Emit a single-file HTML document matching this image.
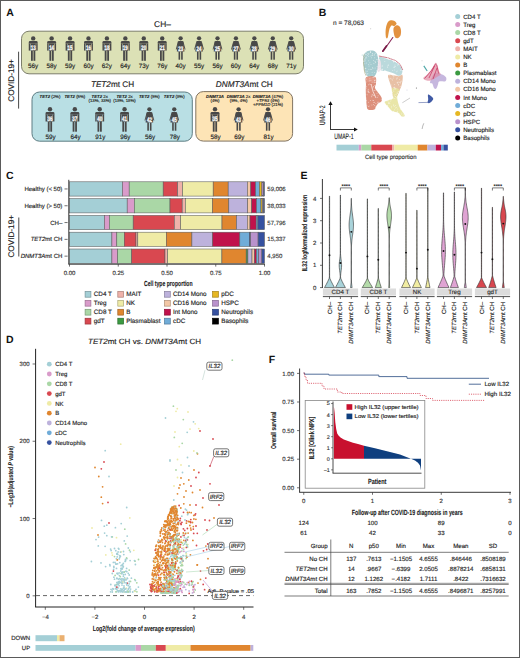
<!DOCTYPE html>
<html><head><meta charset="utf-8"><title>Figure</title>
<style>
html,body{margin:0;padding:0;background:#fff;}
body{width:520px;height:658px;overflow:hidden;}
svg{display:block;font-family:"Liberation Sans", sans-serif;text-rendering:geometricPrecision;}
text[fill="#222"]{stroke:#222;stroke-width:0.14px;}
text[fill="#333"]{stroke:#333;stroke-width:0.14px;}
text[fill="#1a1a1a"]{stroke:#1a1a1a;stroke-width:0.1px;}
</style></head><body>
<svg width="520" height="658" viewBox="0 0 520 658">
<defs><filter id="soft" x="-10%" y="-10%" width="120%" height="120%"><feGaussianBlur stdDeviation="0.35"/></filter></defs>
<rect x="0" y="0" width="520" height="658" fill="#fff"/>
<text x="6.20" y="15.60" font-size="10.5" font-weight="bold" fill="#111" >A</text>
<text x="162.50" y="27.00" font-size="8.4" text-anchor="middle" fill="#222" >CH–</text>
<rect x="21.5" y="31.2" width="282" height="42.6" rx="7.5" fill="#dce1b6" stroke="#7c7e6a" stroke-width="1"/>
<circle cx="33.20" cy="38.40" r="2.2" fill="#484848"/><path d="M28.75,42.30 q0,-1.3 1.3,-1.3 h6.3 q1.3,0 1.3,1.3 v1.3 h-8.9 z" fill="#484848"/><rect x="28.75" y="43.40" width="1.45" height="7.2" fill="#484848"/><rect x="36.20" y="43.40" width="1.45" height="7.2" fill="#484848"/><rect x="30.60" y="43.40" width="5.2" height="7.4" fill="#484848"/><rect x="31.00" y="50.60" width="1.8" height="10.2" fill="#484848"/><rect x="33.50" y="50.60" width="1.8" height="10.2" fill="#484848"/><text x="33.20" y="50.40" font-size="6.6" font-weight="bold" text-anchor="middle" fill="#fafafa" stroke="#fafafa" stroke-width="0.32" textLength="5.0" lengthAdjust="spacingAndGlyphs">13</text>
<text x="33.20" y="68.30" font-size="6.3" text-anchor="middle" fill="#222" >56y</text>
<circle cx="51.63" cy="38.40" r="2.2" fill="#484848"/><path d="M47.18,42.30 q0,-1.3 1.3,-1.3 h6.3 q1.3,0 1.3,1.3 v1.3 h-8.9 z" fill="#484848"/><rect x="47.18" y="43.40" width="1.45" height="7.2" fill="#484848"/><rect x="54.63" y="43.40" width="1.45" height="7.2" fill="#484848"/><rect x="49.03" y="43.40" width="5.2" height="7.4" fill="#484848"/><rect x="49.43" y="50.60" width="1.8" height="10.2" fill="#484848"/><rect x="51.93" y="50.60" width="1.8" height="10.2" fill="#484848"/><text x="51.63" y="50.40" font-size="6.6" font-weight="bold" text-anchor="middle" fill="#fafafa" stroke="#fafafa" stroke-width="0.32" textLength="5.0" lengthAdjust="spacingAndGlyphs">14</text>
<text x="51.63" y="68.30" font-size="6.3" text-anchor="middle" fill="#222" >58y</text>
<circle cx="70.06" cy="38.40" r="2.2" fill="#484848"/><path d="M65.61,42.30 q0,-1.3 1.3,-1.3 h6.3 q1.3,0 1.3,1.3 v1.3 h-8.9 z" fill="#484848"/><rect x="65.61" y="43.40" width="1.45" height="7.2" fill="#484848"/><rect x="73.06" y="43.40" width="1.45" height="7.2" fill="#484848"/><rect x="67.46" y="43.40" width="5.2" height="7.4" fill="#484848"/><rect x="67.86" y="50.60" width="1.8" height="10.2" fill="#484848"/><rect x="70.36" y="50.60" width="1.8" height="10.2" fill="#484848"/><text x="70.06" y="50.40" font-size="6.6" font-weight="bold" text-anchor="middle" fill="#fafafa" stroke="#fafafa" stroke-width="0.32" textLength="5.0" lengthAdjust="spacingAndGlyphs">15</text>
<text x="70.06" y="68.30" font-size="6.3" text-anchor="middle" fill="#222" >59y</text>
<circle cx="88.49" cy="38.40" r="2.2" fill="#484848"/><path d="M84.04,42.30 q0,-1.3 1.3,-1.3 h6.3 q1.3,0 1.3,1.3 v1.3 h-8.9 z" fill="#484848"/><rect x="84.04" y="43.40" width="1.45" height="7.2" fill="#484848"/><rect x="91.49" y="43.40" width="1.45" height="7.2" fill="#484848"/><rect x="85.89" y="43.40" width="5.2" height="7.4" fill="#484848"/><rect x="86.29" y="50.60" width="1.8" height="10.2" fill="#484848"/><rect x="88.79" y="50.60" width="1.8" height="10.2" fill="#484848"/><text x="88.49" y="50.40" font-size="6.6" font-weight="bold" text-anchor="middle" fill="#fafafa" stroke="#fafafa" stroke-width="0.32" textLength="5.0" lengthAdjust="spacingAndGlyphs">16</text>
<text x="88.49" y="68.30" font-size="6.3" text-anchor="middle" fill="#222" >60y</text>
<circle cx="106.92" cy="38.40" r="2.2" fill="#484848"/><path d="M102.47,42.30 q0,-1.3 1.3,-1.3 h6.3 q1.3,0 1.3,1.3 v1.3 h-8.9 z" fill="#484848"/><rect x="102.47" y="43.40" width="1.45" height="7.2" fill="#484848"/><rect x="109.92" y="43.40" width="1.45" height="7.2" fill="#484848"/><rect x="104.32" y="43.40" width="5.2" height="7.4" fill="#484848"/><rect x="104.72" y="50.60" width="1.8" height="10.2" fill="#484848"/><rect x="107.22" y="50.60" width="1.8" height="10.2" fill="#484848"/><text x="106.92" y="50.40" font-size="6.6" font-weight="bold" text-anchor="middle" fill="#fafafa" stroke="#fafafa" stroke-width="0.32" textLength="5.0" lengthAdjust="spacingAndGlyphs">18</text>
<text x="106.92" y="68.30" font-size="6.3" text-anchor="middle" fill="#222" >62y</text>
<circle cx="125.35" cy="38.40" r="2.2" fill="#484848"/><path d="M120.90,42.30 q0,-1.3 1.3,-1.3 h6.3 q1.3,0 1.3,1.3 v1.3 h-8.9 z" fill="#484848"/><rect x="120.90" y="43.40" width="1.45" height="7.2" fill="#484848"/><rect x="128.35" y="43.40" width="1.45" height="7.2" fill="#484848"/><rect x="122.75" y="43.40" width="5.2" height="7.4" fill="#484848"/><rect x="123.15" y="50.60" width="1.8" height="10.2" fill="#484848"/><rect x="125.65" y="50.60" width="1.8" height="10.2" fill="#484848"/><text x="125.35" y="50.40" font-size="6.6" font-weight="bold" text-anchor="middle" fill="#fafafa" stroke="#fafafa" stroke-width="0.32" textLength="5.0" lengthAdjust="spacingAndGlyphs">19</text>
<text x="125.35" y="68.30" font-size="6.3" text-anchor="middle" fill="#222" >64y</text>
<circle cx="143.78" cy="38.40" r="2.2" fill="#484848"/><path d="M139.33,42.30 q0,-1.3 1.3,-1.3 h6.3 q1.3,0 1.3,1.3 v1.3 h-8.9 z" fill="#484848"/><rect x="139.33" y="43.40" width="1.45" height="7.2" fill="#484848"/><rect x="146.78" y="43.40" width="1.45" height="7.2" fill="#484848"/><rect x="141.18" y="43.40" width="5.2" height="7.4" fill="#484848"/><rect x="141.58" y="50.60" width="1.8" height="10.2" fill="#484848"/><rect x="144.08" y="50.60" width="1.8" height="10.2" fill="#484848"/><text x="143.78" y="50.40" font-size="6.6" font-weight="bold" text-anchor="middle" fill="#fafafa" stroke="#fafafa" stroke-width="0.32" textLength="5.0" lengthAdjust="spacingAndGlyphs">20</text>
<text x="143.78" y="68.30" font-size="6.3" text-anchor="middle" fill="#222" >73y</text>
<circle cx="162.21" cy="38.40" r="2.2" fill="#484848"/><path d="M157.76,42.30 q0,-1.3 1.3,-1.3 h6.3 q1.3,0 1.3,1.3 v1.3 h-8.9 z" fill="#484848"/><rect x="157.76" y="43.40" width="1.45" height="7.2" fill="#484848"/><rect x="165.21" y="43.40" width="1.45" height="7.2" fill="#484848"/><rect x="159.61" y="43.40" width="5.2" height="7.4" fill="#484848"/><rect x="160.01" y="50.60" width="1.8" height="10.2" fill="#484848"/><rect x="162.51" y="50.60" width="1.8" height="10.2" fill="#484848"/><text x="162.21" y="50.40" font-size="6.6" font-weight="bold" text-anchor="middle" fill="#fafafa" stroke="#fafafa" stroke-width="0.32" textLength="5.0" lengthAdjust="spacingAndGlyphs">21</text>
<text x="162.21" y="68.30" font-size="6.3" text-anchor="middle" fill="#222" >76y</text>
<circle cx="180.64" cy="38.30" r="2.15" fill="#484848"/><path d="M178.04,41.10 L175.74,49.40 L176.64,49.60 L178.34,43.70 z" fill="#484848"/><path d="M183.24,41.10 L185.54,49.40 L184.64,49.60 L182.94,43.70 z" fill="#484848"/><path d="M178.74,40.90 h3.8 q0.7,0 0.8,0.8 L184.44,51.50 h-7.6 L177.94,41.70 q0.1,-0.8 0.8,-0.8 z" fill="#484848"/><rect x="178.54" y="51.30" width="1.6" height="8.4" fill="#484848"/><rect x="181.14" y="51.30" width="1.6" height="8.4" fill="#484848"/><text x="180.64" y="50.50" font-size="6.6" font-weight="bold" text-anchor="middle" fill="#fafafa" stroke="#fafafa" stroke-width="0.32" textLength="5.0" lengthAdjust="spacingAndGlyphs">23</text>
<text x="180.64" y="68.30" font-size="6.3" text-anchor="middle" fill="#222" >40y</text>
<circle cx="199.07" cy="38.30" r="2.15" fill="#484848"/><path d="M196.47,41.10 L194.17,49.40 L195.07,49.60 L196.77,43.70 z" fill="#484848"/><path d="M201.67,41.10 L203.97,49.40 L203.07,49.60 L201.37,43.70 z" fill="#484848"/><path d="M197.17,40.90 h3.8 q0.7,0 0.8,0.8 L202.87,51.50 h-7.6 L196.37,41.70 q0.1,-0.8 0.8,-0.8 z" fill="#484848"/><rect x="196.97" y="51.30" width="1.6" height="8.4" fill="#484848"/><rect x="199.57" y="51.30" width="1.6" height="8.4" fill="#484848"/><text x="199.07" y="50.50" font-size="6.6" font-weight="bold" text-anchor="middle" fill="#fafafa" stroke="#fafafa" stroke-width="0.32" textLength="5.0" lengthAdjust="spacingAndGlyphs">24</text>
<text x="199.07" y="68.30" font-size="6.3" text-anchor="middle" fill="#222" >55y</text>
<circle cx="217.50" cy="38.30" r="2.15" fill="#484848"/><path d="M214.90,41.10 L212.60,49.40 L213.50,49.60 L215.20,43.70 z" fill="#484848"/><path d="M220.10,41.10 L222.40,49.40 L221.50,49.60 L219.80,43.70 z" fill="#484848"/><path d="M215.60,40.90 h3.8 q0.7,0 0.8,0.8 L221.30,51.50 h-7.6 L214.80,41.70 q0.1,-0.8 0.8,-0.8 z" fill="#484848"/><rect x="215.40" y="51.30" width="1.6" height="8.4" fill="#484848"/><rect x="218.00" y="51.30" width="1.6" height="8.4" fill="#484848"/><text x="217.50" y="50.50" font-size="6.6" font-weight="bold" text-anchor="middle" fill="#fafafa" stroke="#fafafa" stroke-width="0.32" textLength="5.0" lengthAdjust="spacingAndGlyphs">25</text>
<text x="217.50" y="68.30" font-size="6.3" text-anchor="middle" fill="#222" >56y</text>
<circle cx="235.93" cy="38.30" r="2.15" fill="#484848"/><path d="M233.33,41.10 L231.03,49.40 L231.93,49.60 L233.63,43.70 z" fill="#484848"/><path d="M238.53,41.10 L240.83,49.40 L239.93,49.60 L238.23,43.70 z" fill="#484848"/><path d="M234.03,40.90 h3.8 q0.7,0 0.8,0.8 L239.73,51.50 h-7.6 L233.23,41.70 q0.1,-0.8 0.8,-0.8 z" fill="#484848"/><rect x="233.83" y="51.30" width="1.6" height="8.4" fill="#484848"/><rect x="236.43" y="51.30" width="1.6" height="8.4" fill="#484848"/><text x="235.93" y="50.50" font-size="6.6" font-weight="bold" text-anchor="middle" fill="#fafafa" stroke="#fafafa" stroke-width="0.32" textLength="5.0" lengthAdjust="spacingAndGlyphs">27</text>
<text x="235.93" y="68.30" font-size="6.3" text-anchor="middle" fill="#222" >60y</text>
<circle cx="254.36" cy="38.30" r="2.15" fill="#484848"/><path d="M251.76,41.10 L249.46,49.40 L250.36,49.60 L252.06,43.70 z" fill="#484848"/><path d="M256.96,41.10 L259.26,49.40 L258.36,49.60 L256.66,43.70 z" fill="#484848"/><path d="M252.46,40.90 h3.8 q0.7,0 0.8,0.8 L258.16,51.50 h-7.6 L251.66,41.70 q0.1,-0.8 0.8,-0.8 z" fill="#484848"/><rect x="252.26" y="51.30" width="1.6" height="8.4" fill="#484848"/><rect x="254.86" y="51.30" width="1.6" height="8.4" fill="#484848"/><text x="254.36" y="50.50" font-size="6.6" font-weight="bold" text-anchor="middle" fill="#fafafa" stroke="#fafafa" stroke-width="0.32" textLength="5.0" lengthAdjust="spacingAndGlyphs">28</text>
<text x="254.36" y="68.30" font-size="6.3" text-anchor="middle" fill="#222" >64y</text>
<circle cx="272.79" cy="38.30" r="2.15" fill="#484848"/><path d="M270.19,41.10 L267.89,49.40 L268.79,49.60 L270.49,43.70 z" fill="#484848"/><path d="M275.39,41.10 L277.69,49.40 L276.79,49.60 L275.09,43.70 z" fill="#484848"/><path d="M270.89,40.90 h3.8 q0.7,0 0.8,0.8 L276.59,51.50 h-7.6 L270.09,41.70 q0.1,-0.8 0.8,-0.8 z" fill="#484848"/><rect x="270.69" y="51.30" width="1.6" height="8.4" fill="#484848"/><rect x="273.29" y="51.30" width="1.6" height="8.4" fill="#484848"/><text x="272.79" y="50.50" font-size="6.6" font-weight="bold" text-anchor="middle" fill="#fafafa" stroke="#fafafa" stroke-width="0.32" textLength="5.0" lengthAdjust="spacingAndGlyphs">29</text>
<text x="272.79" y="68.30" font-size="6.3" text-anchor="middle" fill="#222" >68y</text>
<circle cx="291.22" cy="38.30" r="2.15" fill="#484848"/><path d="M288.62,41.10 L286.32,49.40 L287.22,49.60 L288.92,43.70 z" fill="#484848"/><path d="M293.82,41.10 L296.12,49.40 L295.22,49.60 L293.52,43.70 z" fill="#484848"/><path d="M289.32,40.90 h3.8 q0.7,0 0.8,0.8 L295.02,51.50 h-7.6 L288.52,41.70 q0.1,-0.8 0.8,-0.8 z" fill="#484848"/><rect x="289.12" y="51.30" width="1.6" height="8.4" fill="#484848"/><rect x="291.72" y="51.30" width="1.6" height="8.4" fill="#484848"/><text x="291.22" y="50.50" font-size="6.6" font-weight="bold" text-anchor="middle" fill="#fafafa" stroke="#fafafa" stroke-width="0.32" textLength="5.0" lengthAdjust="spacingAndGlyphs">30</text>
<text x="291.22" y="68.30" font-size="6.3" text-anchor="middle" fill="#222" >71y</text>
<text transform="translate(13.9,80.5) rotate(-90)" font-size="8.2" text-anchor="middle" fill="#222">COVID-19+</text>
<line x1="18.6" y1="51.7" x2="18.6" y2="108.6" stroke="#333" stroke-width="0.9"/>
<text x="112.5" y="86.8" font-size="8.2" text-anchor="middle" fill="#222"><tspan font-style="italic">TET2</tspan>mt CH</text>
<text x="244.3" y="86.8" font-size="8.2" text-anchor="middle" fill="#222"><tspan font-style="italic">DNMT3A</tspan>mt CH</text>
<rect x="32" y="92" width="160.3" height="49.2" rx="7.5" fill="#b9dfe4" stroke="#5e7d83" stroke-width="1"/>
<rect x="195.8" y="91.6" width="96.8" height="49.5" rx="7.5" fill="#fde4b6" stroke="#827462" stroke-width="1"/>
<circle cx="50.00" cy="109.30" r="2.2" fill="#484848"/><path d="M45.55,113.20 q0,-1.3 1.3,-1.3 h6.3 q1.3,0 1.3,1.3 v1.3 h-8.9 z" fill="#484848"/><rect x="45.55" y="114.30" width="1.45" height="7.2" fill="#484848"/><rect x="53.00" y="114.30" width="1.45" height="7.2" fill="#484848"/><rect x="47.40" y="114.30" width="5.2" height="7.4" fill="#484848"/><rect x="47.80" y="121.50" width="1.8" height="10.2" fill="#484848"/><rect x="50.30" y="121.50" width="1.8" height="10.2" fill="#484848"/><text x="50.00" y="121.30" font-size="6.6" font-weight="bold" text-anchor="middle" fill="#fafafa" stroke="#fafafa" stroke-width="0.32" textLength="5.0" lengthAdjust="spacingAndGlyphs">36</text>
<text x="50.70" y="138.90" font-size="6.3" text-anchor="middle" fill="#222" >59y</text>
<text x="50.00" y="97.80" font-size="4.3" text-anchor="middle" fill="#222"><tspan font-weight="bold" font-style="italic">TET2</tspan> (2%)</text>
<circle cx="74.85" cy="109.30" r="2.2" fill="#484848"/><path d="M70.40,113.20 q0,-1.3 1.3,-1.3 h6.3 q1.3,0 1.3,1.3 v1.3 h-8.9 z" fill="#484848"/><rect x="70.40" y="114.30" width="1.45" height="7.2" fill="#484848"/><rect x="77.85" y="114.30" width="1.45" height="7.2" fill="#484848"/><rect x="72.25" y="114.30" width="5.2" height="7.4" fill="#484848"/><rect x="72.65" y="121.50" width="1.8" height="10.2" fill="#484848"/><rect x="75.15" y="121.50" width="1.8" height="10.2" fill="#484848"/><text x="74.85" y="121.30" font-size="6.6" font-weight="bold" text-anchor="middle" fill="#fafafa" stroke="#fafafa" stroke-width="0.32" textLength="5.0" lengthAdjust="spacingAndGlyphs">37</text>
<text x="75.55" y="138.90" font-size="6.3" text-anchor="middle" fill="#222" >64y</text>
<text x="74.85" y="97.80" font-size="4.3" text-anchor="middle" fill="#222"><tspan font-weight="bold" font-style="italic">TET2</tspan> (5%)</text>
<circle cx="99.70" cy="109.30" r="2.2" fill="#484848"/><path d="M95.25,113.20 q0,-1.3 1.3,-1.3 h6.3 q1.3,0 1.3,1.3 v1.3 h-8.9 z" fill="#484848"/><rect x="95.25" y="114.30" width="1.45" height="7.2" fill="#484848"/><rect x="102.70" y="114.30" width="1.45" height="7.2" fill="#484848"/><rect x="97.10" y="114.30" width="5.2" height="7.4" fill="#484848"/><rect x="97.50" y="121.50" width="1.8" height="10.2" fill="#484848"/><rect x="100.00" y="121.50" width="1.8" height="10.2" fill="#484848"/><text x="99.70" y="121.30" font-size="6.6" font-weight="bold" text-anchor="middle" fill="#fafafa" stroke="#fafafa" stroke-width="0.32" textLength="5.0" lengthAdjust="spacingAndGlyphs">40</text>
<text x="100.40" y="138.90" font-size="6.3" text-anchor="middle" fill="#222" >91y</text>
<text x="99.70" y="97.80" font-size="4.3" text-anchor="middle" fill="#222"><tspan font-weight="bold" font-style="italic">TET2</tspan> 2x</text>
<text x="99.70" y="101.70" font-size="4.3" text-anchor="middle" fill="#222">(13%, 33%)</text>
<circle cx="124.55" cy="109.30" r="2.2" fill="#484848"/><path d="M120.10,113.20 q0,-1.3 1.3,-1.3 h6.3 q1.3,0 1.3,1.3 v1.3 h-8.9 z" fill="#484848"/><rect x="120.10" y="114.30" width="1.45" height="7.2" fill="#484848"/><rect x="127.55" y="114.30" width="1.45" height="7.2" fill="#484848"/><rect x="121.95" y="114.30" width="5.2" height="7.4" fill="#484848"/><rect x="122.35" y="121.50" width="1.8" height="10.2" fill="#484848"/><rect x="124.85" y="121.50" width="1.8" height="10.2" fill="#484848"/><text x="124.55" y="121.30" font-size="6.6" font-weight="bold" text-anchor="middle" fill="#fafafa" stroke="#fafafa" stroke-width="0.32" textLength="5.0" lengthAdjust="spacingAndGlyphs">41</text>
<text x="125.25" y="138.90" font-size="6.3" text-anchor="middle" fill="#222" >96y</text>
<text x="124.55" y="97.80" font-size="4.3" text-anchor="middle" fill="#222"><tspan font-weight="bold" font-style="italic">TET2</tspan> 2x</text>
<text x="124.55" y="101.70" font-size="4.3" text-anchor="middle" fill="#222">(18%, 18%)</text>
<circle cx="149.40" cy="109.30" r="2.15" fill="#484848"/><path d="M146.80,112.10 L144.50,120.40 L145.40,120.60 L147.10,114.70 z" fill="#484848"/><path d="M152.00,112.10 L154.30,120.40 L153.40,120.60 L151.70,114.70 z" fill="#484848"/><path d="M147.50,111.90 h3.8 q0.7,0 0.8,0.8 L153.20,122.50 h-7.6 L146.70,112.70 q0.1,-0.8 0.8,-0.8 z" fill="#484848"/><rect x="147.30" y="122.30" width="1.6" height="8.4" fill="#484848"/><rect x="149.90" y="122.30" width="1.6" height="8.4" fill="#484848"/><text x="149.40" y="121.50" font-size="6.6" font-weight="bold" text-anchor="middle" fill="#fafafa" stroke="#fafafa" stroke-width="0.32" textLength="5.0" lengthAdjust="spacingAndGlyphs">42</text>
<text x="150.10" y="138.90" font-size="6.3" text-anchor="middle" fill="#222" >56y</text>
<text x="149.40" y="97.80" font-size="4.3" text-anchor="middle" fill="#222"><tspan font-weight="bold" font-style="italic">TET2</tspan> (5%)</text>
<circle cx="174.25" cy="109.30" r="2.15" fill="#484848"/><path d="M171.65,112.10 L169.35,120.40 L170.25,120.60 L171.95,114.70 z" fill="#484848"/><path d="M176.85,112.10 L179.15,120.40 L178.25,120.60 L176.55,114.70 z" fill="#484848"/><path d="M172.35,111.90 h3.8 q0.7,0 0.8,0.8 L178.05,122.50 h-7.6 L171.55,112.70 q0.1,-0.8 0.8,-0.8 z" fill="#484848"/><rect x="172.15" y="122.30" width="1.6" height="8.4" fill="#484848"/><rect x="174.75" y="122.30" width="1.6" height="8.4" fill="#484848"/><text x="174.25" y="121.50" font-size="6.6" font-weight="bold" text-anchor="middle" fill="#fafafa" stroke="#fafafa" stroke-width="0.32" textLength="5.0" lengthAdjust="spacingAndGlyphs">45</text>
<text x="174.95" y="138.90" font-size="6.3" text-anchor="middle" fill="#222" >78y</text>
<text x="174.25" y="97.80" font-size="4.3" text-anchor="middle" fill="#222"><tspan font-weight="bold" font-style="italic">TET2</tspan> (8%)</text>
<circle cx="215.00" cy="109.30" r="2.2" fill="#484848"/><path d="M210.55,113.20 q0,-1.3 1.3,-1.3 h6.3 q1.3,0 1.3,1.3 v1.3 h-8.9 z" fill="#484848"/><rect x="210.55" y="114.30" width="1.45" height="7.2" fill="#484848"/><rect x="218.00" y="114.30" width="1.45" height="7.2" fill="#484848"/><rect x="212.40" y="114.30" width="5.2" height="7.4" fill="#484848"/><rect x="212.80" y="121.50" width="1.8" height="10.2" fill="#484848"/><rect x="215.30" y="121.50" width="1.8" height="10.2" fill="#484848"/><text x="215.00" y="121.30" font-size="6.6" font-weight="bold" text-anchor="middle" fill="#fafafa" stroke="#fafafa" stroke-width="0.32" textLength="5.0" lengthAdjust="spacingAndGlyphs">35</text>
<text x="215.70" y="138.90" font-size="6.3" text-anchor="middle" fill="#222" >58y</text>
<text x="215.00" y="97.80" font-size="4.3" text-anchor="middle" fill="#222"><tspan font-weight="bold" font-style="italic">DNMT3A</tspan></text>
<text x="215.00" y="101.70" font-size="4.3" text-anchor="middle" fill="#222">(4%)</text>
<circle cx="238.60" cy="109.30" r="2.15" fill="#484848"/><path d="M236.00,112.10 L233.70,120.40 L234.60,120.60 L236.30,114.70 z" fill="#484848"/><path d="M241.20,112.10 L243.50,120.40 L242.60,120.60 L240.90,114.70 z" fill="#484848"/><path d="M236.70,111.90 h3.8 q0.7,0 0.8,0.8 L242.40,122.50 h-7.6 L235.90,112.70 q0.1,-0.8 0.8,-0.8 z" fill="#484848"/><rect x="236.50" y="122.30" width="1.6" height="8.4" fill="#484848"/><rect x="239.10" y="122.30" width="1.6" height="8.4" fill="#484848"/><text x="238.60" y="121.50" font-size="6.6" font-weight="bold" text-anchor="middle" fill="#fafafa" stroke="#fafafa" stroke-width="0.32" textLength="5.0" lengthAdjust="spacingAndGlyphs">43</text>
<text x="239.30" y="138.90" font-size="6.3" text-anchor="middle" fill="#222" >69y</text>
<text x="238.60" y="97.80" font-size="4.3" text-anchor="middle" fill="#222"><tspan font-weight="bold" font-style="italic">DNMT3A</tspan> 2x</text>
<text x="238.60" y="101.70" font-size="4.3" text-anchor="middle" fill="#222">(9%, 4%)</text>
<circle cx="268.00" cy="109.30" r="2.15" fill="#484848"/><path d="M265.40,112.10 L263.10,120.40 L264.00,120.60 L265.70,114.70 z" fill="#484848"/><path d="M270.60,112.10 L272.90,120.40 L272.00,120.60 L270.30,114.70 z" fill="#484848"/><path d="M266.10,111.90 h3.8 q0.7,0 0.8,0.8 L271.80,122.50 h-7.6 L265.30,112.70 q0.1,-0.8 0.8,-0.8 z" fill="#484848"/><rect x="265.90" y="122.30" width="1.6" height="8.4" fill="#484848"/><rect x="268.50" y="122.30" width="1.6" height="8.4" fill="#484848"/><text x="268.00" y="121.50" font-size="6.6" font-weight="bold" text-anchor="middle" fill="#fafafa" stroke="#fafafa" stroke-width="0.32" textLength="5.0" lengthAdjust="spacingAndGlyphs">46</text>
<text x="268.70" y="138.90" font-size="6.3" text-anchor="middle" fill="#222" >81y</text>
<text x="268.00" y="97.80" font-size="4.3" text-anchor="middle" fill="#222"><tspan font-weight="bold" font-style="italic">DNMT3A</tspan> (47%)</text>
<text x="268.00" y="101.70" font-size="4.3" text-anchor="middle" fill="#222">+<tspan font-style="italic">TP53</tspan> (4%)</text>
<text x="268.00" y="105.60" font-size="4.3" text-anchor="middle" fill="#222">+<tspan font-style="italic">PPM1D</tspan> (21%)</text>
<text x="318.80" y="16.00" font-size="10.5" font-weight="bold" fill="#111" >B</text>
<text x="333.00" y="25.20" font-size="6.4" fill="#333" textLength="31" lengthAdjust="spacingAndGlyphs" >n = 78,063</text>
<circle cx="457.7" cy="16.40" r="2.5" fill="#a4cfd6"/>
<text x="463.20" y="18.50" font-size="6.1" fill="#222" >CD4 T</text>
<circle cx="457.7" cy="24.50" r="2.5" fill="#d99bca"/>
<text x="463.20" y="26.60" font-size="6.1" fill="#222" >Treg</text>
<circle cx="457.7" cy="32.60" r="2.5" fill="#aad7a6"/>
<text x="463.20" y="34.70" font-size="6.1" fill="#222" >CD8 T</text>
<circle cx="457.7" cy="40.70" r="2.5" fill="#d94850"/>
<text x="463.20" y="42.80" font-size="6.1" fill="#222" >gdT</text>
<circle cx="457.7" cy="48.80" r="2.5" fill="#efb2aa"/>
<text x="463.20" y="50.90" font-size="6.1" fill="#222" >MAIT</text>
<circle cx="457.7" cy="56.90" r="2.5" fill="#efeba6"/>
<text x="463.20" y="59.00" font-size="6.1" fill="#222" >NK</text>
<circle cx="457.7" cy="65.00" r="2.5" fill="#e0862f"/>
<text x="463.20" y="67.10" font-size="6.1" fill="#222" >B</text>
<circle cx="457.7" cy="73.10" r="2.5" fill="#3c9a42"/>
<text x="463.20" y="75.20" font-size="6.1" fill="#222" >Plasmablast</text>
<circle cx="457.7" cy="81.20" r="2.5" fill="#bdb2dc"/>
<text x="463.20" y="83.30" font-size="6.1" fill="#222" >CD14 Mono</text>
<circle cx="457.7" cy="89.30" r="2.5" fill="#f3c7a6"/>
<text x="463.20" y="91.40" font-size="6.1" fill="#222" >CD16 Mono</text>
<circle cx="457.7" cy="97.40" r="2.5" fill="#c0124b"/>
<text x="463.20" y="99.50" font-size="6.1" fill="#222" >Int Mono</text>
<circle cx="457.7" cy="105.50" r="2.5" fill="#70acd8"/>
<text x="463.20" y="107.60" font-size="6.1" fill="#222" >cDC</text>
<circle cx="457.7" cy="113.60" r="2.5" fill="#e6b722"/>
<text x="463.20" y="115.70" font-size="6.1" fill="#222" >pDC</text>
<circle cx="457.7" cy="121.70" r="2.5" fill="#b992cc"/>
<text x="463.20" y="123.80" font-size="6.1" fill="#222" >HSPC</text>
<circle cx="457.7" cy="129.80" r="2.5" fill="#3651a0"/>
<text x="463.20" y="131.90" font-size="6.1" fill="#222" >Neutrophils</text>
<circle cx="457.7" cy="137.90" r="2.5" fill="#000000"/>
<text x="463.20" y="140.00" font-size="6.1" fill="#222" >Basophils</text>
<path d="M330.5,129.5 V103.5" stroke="#222" stroke-width="0.9" fill="none"/>
<path d="M328.4,105 L330.5,101.3 L332.6,105 z" fill="#111"/>
<path d="M330.1,129.5 H355.5" stroke="#222" stroke-width="0.9" fill="none"/>
<path d="M354,127.4 L357.8,129.5 L354,131.6 z" fill="#111"/>
<text transform="translate(325.0,115.2) rotate(-90)" font-size="7.8" text-anchor="middle" fill="#1a1a1a" textLength="19.6" lengthAdjust="spacingAndGlyphs">UMAP-2</text>
<text x="343.90" y="139.40" font-size="7.8" text-anchor="middle" fill="#1a1a1a" textLength="19.4" lengthAdjust="spacingAndGlyphs" >UMAP-1</text>
<rect x="336.5" y="144.7" width="22.30" height="5.8" fill="#a4cfd6"/>
<rect x="358.8" y="144.7" width="2.50" height="5.8" fill="#d99bca"/>
<rect x="361.3" y="144.7" width="10.00" height="5.8" fill="#aad7a6"/>
<rect x="371.3" y="144.7" width="20.70" height="5.8" fill="#d94850"/>
<rect x="392" y="144.7" width="2.40" height="5.8" fill="#efb2aa"/>
<rect x="394.4" y="144.7" width="23.30" height="5.8" fill="#efeba6"/>
<rect x="417.7" y="144.7" width="9.70" height="5.8" fill="#e0862f"/>
<rect x="427.4" y="144.7" width="8.40" height="5.8" fill="#bdb2dc"/>
<rect x="435.8" y="144.7" width="5.20" height="5.8" fill="#c0124b"/>
<rect x="441" y="144.7" width="2.50" height="5.8" fill="#70acd8"/>
<rect x="443.5" y="144.7" width="4.30" height="5.8" fill="#3651a0"/>
<text x="390.70" y="159.30" font-size="6.2" text-anchor="middle" fill="#333" textLength="51.6" lengthAdjust="spacingAndGlyphs" >Cell type proportion</text>
<g filter="url(#soft)">
<path d="M386.00,37.60 C385.67,36.47 385.50,33.10 385.60,31.00 C385.70,28.90 386.10,26.63 386.60,25.00 C387.10,23.37 387.78,22.00 388.60,21.20 C389.42,20.40 390.52,20.23 391.50,20.20 C392.48,20.17 393.65,20.43 394.50,21.00 C395.35,21.57 396.65,22.73 396.60,23.60 C396.55,24.47 395.03,25.90 394.20,26.20 C393.37,26.50 392.37,25.02 391.60,25.40 C390.83,25.78 390.10,27.23 389.60,28.50 C389.10,29.77 388.93,31.45 388.60,33.00 C388.27,34.55 388.03,37.03 387.60,37.80 C387.17,38.57 386.33,38.73 386.00,37.60Z" fill="#e08a2c" fill-opacity="0.92"/>
<path d="M393.60,28.00 C394.00,26.73 395.20,25.63 396.20,25.40 C397.20,25.17 398.80,25.75 399.60,26.60 C400.40,27.45 400.85,29.02 401.00,30.50 C401.15,31.98 401.00,34.25 400.50,35.50 C400.00,36.75 398.88,37.68 398.00,38.00 C397.12,38.32 395.90,38.23 395.20,37.40 C394.50,36.57 394.07,34.57 393.80,33.00 C393.53,31.43 393.20,29.27 393.60,28.00Z" fill="#e0862f" fill-opacity="0.9"/>
<path d="M392.8,37.5 Q388.5,44 382.6,51.3" stroke="#8a2a58" stroke-width="1.1" fill="none" stroke-linecap="round"/>
<path d="M386.5,46 L383,51" stroke="#7a1e48" stroke-width="1.8" stroke-linecap="round"/>
<path d="M379.20,57.20 C380.37,55.97 383.62,57.93 386.00,58.60 C388.38,59.27 391.25,60.17 393.50,61.20 C395.75,62.23 398.03,63.33 399.50,64.80 C400.97,66.27 401.97,68.38 402.30,70.00 C402.63,71.62 402.13,73.53 401.50,74.50 C400.87,75.47 399.75,75.95 398.50,75.80 C397.25,75.65 395.75,74.33 394.00,73.60 C392.25,72.87 390.08,71.90 388.00,71.40 C385.92,70.90 383.00,71.50 381.50,70.60 C380.00,69.70 379.38,68.23 379.00,66.00 C378.62,63.77 378.03,58.43 379.20,57.20Z" fill="#a9d0d3" fill-opacity="0.8"/>
<path d="M378.8,56 Q388,57.2 395.5,60.5 Q401,63.5 402.8,70" stroke="#c56a7a" stroke-width="1.0" fill="none" opacity="0.85"/>
<path d="M377.00,60.00 C377.67,58.83 379.83,59.50 380.50,61.00 C381.17,62.50 381.33,67.17 381.00,69.00 C380.67,70.83 379.25,72.17 378.50,72.00 C377.75,71.83 376.75,70.00 376.50,68.00 C376.25,66.00 376.33,61.17 377.00,60.00Z" fill="#efe2ea" fill-opacity="0.9"/>
<path d="M363.60,55.20 C364.27,53.65 365.72,51.97 367.20,51.20 C368.68,50.43 370.95,50.30 372.50,50.60 C374.05,50.90 375.58,51.77 376.50,53.00 C377.42,54.23 377.78,56.00 378.00,58.00 C378.22,60.00 378.03,62.58 377.80,65.00 C377.57,67.42 377.27,70.57 376.60,72.50 C375.93,74.43 375.15,75.88 373.80,76.60 C372.45,77.32 369.87,77.32 368.50,76.80 C367.13,76.28 366.35,75.00 365.60,73.50 C364.85,72.00 364.40,69.97 364.00,67.80 C363.60,65.63 363.27,62.60 363.20,60.50 C363.13,58.40 362.93,56.75 363.60,55.20Z" fill="#97c4c8" fill-opacity="0.88"/>
<path d="M364.2,54.5 Q362.8,62 364.3,70 Q365,74 366.2,76" stroke="#a9ab82" stroke-width="0.7" fill="none"/>
<path d="M366.20,77.20 C367.73,76.03 373.57,75.95 375.20,77.00 C376.83,78.05 376.03,81.67 376.00,83.50 C375.97,85.33 374.58,86.42 375.00,88.00 C375.42,89.58 377.42,91.42 378.50,93.00 C379.58,94.58 381.00,96.13 381.50,97.50 C382.00,98.87 382.08,100.20 381.50,101.20 C380.92,102.20 378.92,102.62 378.00,103.50 C377.08,104.38 376.62,105.50 376.00,106.50 C375.38,107.50 375.63,108.98 374.30,109.50 C372.97,110.02 369.30,110.52 368.00,109.60 C366.70,108.68 366.87,106.93 366.50,104.00 C366.13,101.07 365.88,95.33 365.80,92.00 C365.72,88.67 365.93,86.47 366.00,84.00 C366.07,81.53 364.67,78.37 366.20,77.20Z" fill="#d6785f" fill-opacity="0.82"/>
<path d="M367.00,77.30 C368.23,76.53 373.30,76.50 374.60,77.20 C375.90,77.90 376.03,80.73 374.80,81.50 C373.57,82.27 368.50,82.50 367.20,81.80 C365.90,81.10 365.77,78.07 367.00,77.30Z" fill="#e6a08e" fill-opacity="0.8"/>
<path d="M388.20,75.20 C389.03,74.05 393.03,75.43 394.80,75.60 C396.57,75.77 397.53,76.33 398.80,76.20 C400.07,76.07 401.77,74.17 402.40,74.80 C403.03,75.43 402.77,78.13 402.60,80.00 C402.43,81.87 401.92,84.25 401.40,86.00 C400.88,87.75 400.23,88.83 399.50,90.50 C398.77,92.17 398.02,94.82 397.00,96.00 C395.98,97.18 394.20,98.60 393.40,97.60 C392.60,96.60 392.80,92.52 392.20,90.00 C391.60,87.48 390.47,84.97 389.80,82.50 C389.13,80.03 387.37,76.35 388.20,75.20Z" fill="#e2ae8c" fill-opacity="0.78"/>
<path d="M392.00,88.50 C393.03,87.08 398.33,88.15 399.20,89.50 C400.07,90.85 397.37,94.35 397.20,96.60 C397.03,98.85 397.70,101.02 398.20,103.00 C398.70,104.98 399.27,106.73 400.20,108.50 C401.13,110.27 403.07,112.32 403.80,113.60 C404.53,114.88 404.97,115.73 404.60,116.20 C404.23,116.67 402.70,117.00 401.60,116.40 C400.50,115.80 399.53,113.47 398.00,112.60 C396.47,111.73 394.07,112.20 392.40,111.20 C390.73,110.20 389.30,108.10 388.00,106.60 C386.70,105.10 384.52,103.27 384.60,102.20 C384.68,101.13 387.10,100.90 388.50,100.20 C389.90,99.50 392.42,99.95 393.00,98.00 C393.58,96.05 390.97,89.92 392.00,88.50Z" fill="#e6e29c" fill-opacity="0.88"/>
<path d="M434.60,73.20 C436.50,71.85 439.50,73.53 441.40,74.20 C443.30,74.87 445.33,76.03 446.00,77.20 C446.67,78.37 446.53,80.48 445.40,81.20 C444.27,81.92 440.43,80.93 439.20,81.50 C437.97,82.07 438.48,83.42 438.00,84.60 C437.52,85.78 436.97,88.03 436.30,88.60 C435.63,89.17 434.67,88.85 434.00,88.00 C433.33,87.15 432.97,84.45 432.30,83.50 C431.63,82.55 429.62,84.02 430.00,82.30 C430.38,80.58 432.70,74.55 434.60,73.20Z" fill="#bcaad8" fill-opacity="0.85"/>
<path d="M435.60,62.80 C436.53,62.37 437.00,64.55 437.60,66.00 C438.20,67.45 438.70,70.07 439.20,71.50 C439.70,72.93 441.05,73.65 440.60,74.60 C440.15,75.55 438.18,76.20 436.50,77.20 C434.82,78.20 432.42,80.13 430.50,80.60 C428.58,81.07 426.18,80.47 425.00,80.00 C423.82,79.53 422.97,78.77 423.40,77.80 C423.83,76.83 426.17,75.73 427.60,74.20 C429.03,72.67 430.67,70.50 432.00,68.60 C433.33,66.70 434.67,63.23 435.60,62.80Z" fill="#e08aa2" fill-opacity="0.7"/>
<path d="M435.8,63.6 L431.5,70.5 L424.5,78.6 M436.6,64.5 L438.6,73.5 M434.5,66 L429,78 M437,68 L433,79" stroke="#c22452" stroke-width="0.8" fill="none" opacity="0.8"/>
<path d="M423.8,65.8 L427.2,71" stroke="#50a8a8" stroke-width="1.2" fill="none"/>
<path d="M428.30,94.60 C429.13,94.47 432.88,97.23 433.20,98.60 C433.52,99.97 431.13,102.10 430.20,102.80 C429.27,103.50 427.93,103.37 427.60,102.80 C427.27,102.23 428.08,100.77 428.20,99.40 C428.32,98.03 427.47,94.73 428.30,94.60Z" fill="#3651a0" fill-opacity="0.95"/>
<path d="M418.5,102.6 L428,102.4" stroke="#6c7ab0" stroke-width="0.7" fill="none"/>
<path d="M402.3,102.8 L410,98" stroke="#aaa" stroke-width="0.6" fill="none"/>
<path d="M423.8,123.3 Q422.5,126 422.1,129" stroke="#888" stroke-width="0.6" fill="none"/>
</g>
<circle cx="370.7" cy="28.8" r="0.5" fill="#bbb"/>
<circle cx="362.2" cy="55" r="0.5" fill="#9cc"/>
<circle cx="416.4" cy="88" r="0.5" fill="#555"/>
<circle cx="422" cy="60.7" r="0.5" fill="#ccc"/>
<circle cx="398" cy="106" r="0.5" fill="#ddd"/>
<circle cx="407" cy="90" r="0.5" fill="#ccd"/>
<g fill="#fff" fill-opacity="0.5"><circle cx="388.8" cy="99.7" r="0.5"/><circle cx="396.2" cy="113.1" r="0.5"/><circle cx="393.8" cy="111.8" r="0.5"/><circle cx="363.2" cy="81.2" r="0.5"/><circle cx="402.6" cy="93.5" r="0.5"/><circle cx="400.7" cy="57.6" r="0.5"/><circle cx="382.2" cy="66.5" r="0.5"/><circle cx="385.4" cy="88.5" r="0.5"/><circle cx="362.6" cy="64.5" r="0.5"/><circle cx="374.0" cy="111.4" r="0.5"/><circle cx="394.9" cy="60.7" r="0.5"/><circle cx="396.3" cy="59.3" r="0.5"/><circle cx="388.6" cy="58.5" r="0.5"/><circle cx="362.1" cy="108.4" r="0.5"/><circle cx="371.0" cy="64.4" r="0.5"/><circle cx="404.2" cy="108.5" r="0.5"/><circle cx="374.4" cy="114.4" r="0.5"/><circle cx="385.2" cy="95.4" r="0.5"/><circle cx="370.8" cy="113.0" r="0.5"/><circle cx="391.7" cy="114.8" r="0.5"/><circle cx="400.4" cy="70.0" r="0.5"/><circle cx="377.5" cy="61.1" r="0.5"/><circle cx="368.3" cy="54.4" r="0.5"/><circle cx="375.0" cy="90.4" r="0.5"/><circle cx="362.1" cy="95.4" r="0.5"/><circle cx="376.5" cy="70.8" r="0.5"/><circle cx="397.2" cy="82.2" r="0.5"/><circle cx="375.6" cy="82.2" r="0.5"/><circle cx="392.3" cy="53.8" r="0.5"/><circle cx="403.9" cy="51.5" r="0.5"/><circle cx="394.2" cy="106.6" r="0.5"/><circle cx="362.8" cy="102.8" r="0.5"/><circle cx="377.7" cy="88.8" r="0.5"/><circle cx="362.4" cy="53.1" r="0.5"/><circle cx="369.8" cy="114.0" r="0.5"/><circle cx="370.5" cy="100.6" r="0.5"/><circle cx="402.0" cy="113.1" r="0.5"/><circle cx="376.8" cy="73.8" r="0.5"/><circle cx="384.6" cy="102.0" r="0.5"/><circle cx="366.6" cy="100.1" r="0.5"/><circle cx="396.3" cy="107.6" r="0.5"/><circle cx="363.6" cy="113.4" r="0.5"/><circle cx="365.9" cy="72.8" r="0.5"/><circle cx="388.3" cy="111.5" r="0.5"/><circle cx="376.6" cy="111.9" r="0.5"/><circle cx="385.4" cy="70.9" r="0.5"/><circle cx="375.6" cy="61.9" r="0.5"/><circle cx="365.4" cy="60.0" r="0.5"/><circle cx="391.6" cy="116.8" r="0.5"/><circle cx="368.9" cy="53.3" r="0.5"/><circle cx="404.4" cy="85.7" r="0.5"/><circle cx="379.5" cy="65.9" r="0.5"/><circle cx="387.5" cy="105.4" r="0.5"/><circle cx="381.6" cy="78.3" r="0.5"/><circle cx="364.4" cy="111.4" r="0.5"/><circle cx="363.4" cy="83.1" r="0.5"/><circle cx="398.1" cy="58.7" r="0.5"/><circle cx="393.5" cy="113.6" r="0.5"/><circle cx="389.1" cy="102.8" r="0.5"/><circle cx="366.6" cy="79.1" r="0.5"/><circle cx="368.4" cy="106.6" r="0.5"/><circle cx="374.7" cy="80.4" r="0.5"/><circle cx="405.0" cy="107.1" r="0.5"/><circle cx="404.0" cy="80.4" r="0.5"/><circle cx="383.0" cy="98.9" r="0.5"/><circle cx="382.6" cy="69.5" r="0.5"/><circle cx="379.4" cy="59.8" r="0.5"/><circle cx="378.2" cy="116.2" r="0.5"/><circle cx="403.3" cy="92.0" r="0.5"/><circle cx="383.5" cy="72.7" r="0.5"/><circle cx="365.8" cy="68.2" r="0.5"/><circle cx="395.6" cy="108.1" r="0.5"/><circle cx="377.5" cy="102.7" r="0.5"/><circle cx="395.3" cy="96.5" r="0.5"/><circle cx="390.6" cy="100.9" r="0.5"/><circle cx="377.6" cy="97.2" r="0.5"/><circle cx="374.1" cy="82.5" r="0.5"/><circle cx="395.1" cy="96.3" r="0.5"/><circle cx="374.6" cy="113.4" r="0.5"/><circle cx="389.9" cy="88.9" r="0.5"/><circle cx="362.5" cy="86.6" r="0.5"/><circle cx="372.8" cy="95.0" r="0.5"/><circle cx="381.9" cy="104.7" r="0.5"/><circle cx="389.8" cy="103.4" r="0.5"/><circle cx="377.0" cy="93.2" r="0.5"/><circle cx="393.7" cy="105.5" r="0.5"/><circle cx="377.1" cy="106.5" r="0.5"/><circle cx="399.4" cy="96.1" r="0.5"/><circle cx="404.0" cy="114.1" r="0.5"/><circle cx="384.3" cy="85.5" r="0.5"/><circle cx="369.1" cy="106.1" r="0.5"/><circle cx="402.3" cy="82.0" r="0.5"/><circle cx="391.7" cy="98.2" r="0.5"/><circle cx="393.4" cy="61.5" r="0.5"/><circle cx="395.6" cy="88.9" r="0.5"/><circle cx="390.6" cy="78.2" r="0.5"/><circle cx="388.8" cy="101.9" r="0.5"/><circle cx="389.4" cy="98.3" r="0.5"/><circle cx="363.2" cy="60.7" r="0.5"/><circle cx="381.0" cy="93.6" r="0.5"/><circle cx="371.4" cy="96.0" r="0.5"/><circle cx="389.1" cy="52.8" r="0.5"/><circle cx="382.3" cy="65.2" r="0.5"/><circle cx="364.3" cy="58.9" r="0.5"/><circle cx="375.6" cy="62.2" r="0.5"/><circle cx="370.3" cy="52.4" r="0.5"/><circle cx="382.0" cy="75.5" r="0.5"/><circle cx="388.3" cy="89.5" r="0.5"/><circle cx="372.2" cy="110.5" r="0.5"/><circle cx="362.0" cy="77.2" r="0.5"/><circle cx="374.0" cy="77.5" r="0.5"/><circle cx="366.9" cy="105.7" r="0.5"/><circle cx="378.1" cy="52.4" r="0.5"/><circle cx="388.4" cy="56.4" r="0.5"/><circle cx="385.4" cy="72.7" r="0.5"/><circle cx="387.0" cy="114.2" r="0.5"/><circle cx="397.2" cy="78.1" r="0.5"/><circle cx="397.0" cy="93.0" r="0.5"/><circle cx="377.9" cy="59.5" r="0.5"/><circle cx="387.6" cy="87.8" r="0.5"/><circle cx="403.2" cy="114.9" r="0.5"/><circle cx="388.2" cy="73.5" r="0.5"/><circle cx="400.4" cy="50.1" r="0.5"/><circle cx="366.6" cy="87.9" r="0.5"/><circle cx="388.5" cy="59.4" r="0.5"/><circle cx="389.1" cy="109.7" r="0.5"/><circle cx="378.2" cy="78.9" r="0.5"/><circle cx="371.7" cy="69.5" r="0.5"/><circle cx="403.8" cy="75.4" r="0.5"/><circle cx="403.3" cy="111.2" r="0.5"/><circle cx="387.6" cy="67.4" r="0.5"/><circle cx="404.2" cy="83.3" r="0.5"/><circle cx="379.9" cy="71.4" r="0.5"/><circle cx="404.3" cy="82.9" r="0.5"/><circle cx="374.3" cy="82.0" r="0.5"/><circle cx="367.2" cy="91.7" r="0.5"/><circle cx="381.1" cy="69.6" r="0.5"/><circle cx="395.6" cy="105.4" r="0.5"/><circle cx="362.6" cy="85.7" r="0.5"/><circle cx="373.8" cy="112.7" r="0.5"/><circle cx="395.6" cy="66.5" r="0.5"/><circle cx="373.5" cy="60.4" r="0.5"/><circle cx="404.5" cy="69.6" r="0.5"/><circle cx="388.1" cy="81.8" r="0.5"/><circle cx="389.7" cy="90.5" r="0.5"/><circle cx="394.0" cy="57.9" r="0.5"/><circle cx="394.7" cy="70.1" r="0.5"/><circle cx="384.9" cy="72.5" r="0.5"/><circle cx="374.8" cy="85.5" r="0.5"/><circle cx="382.0" cy="74.2" r="0.5"/><circle cx="394.0" cy="89.6" r="0.5"/><circle cx="363.6" cy="66.9" r="0.5"/><circle cx="381.6" cy="111.4" r="0.5"/><circle cx="400.2" cy="86.6" r="0.5"/><circle cx="362.6" cy="102.2" r="0.5"/><circle cx="380.4" cy="88.6" r="0.5"/><circle cx="392.5" cy="92.4" r="0.5"/><circle cx="382.7" cy="111.1" r="0.5"/><circle cx="378.6" cy="76.3" r="0.5"/><circle cx="398.6" cy="63.2" r="0.5"/><circle cx="374.7" cy="105.6" r="0.5"/><circle cx="364.8" cy="106.0" r="0.5"/><circle cx="391.9" cy="79.0" r="0.5"/><circle cx="374.3" cy="102.3" r="0.5"/><circle cx="401.2" cy="59.6" r="0.5"/><circle cx="382.6" cy="86.8" r="0.5"/><circle cx="383.4" cy="72.2" r="0.5"/><circle cx="368.6" cy="89.3" r="0.5"/><circle cx="396.9" cy="54.6" r="0.5"/><circle cx="371.9" cy="104.9" r="0.5"/><circle cx="396.0" cy="94.5" r="0.5"/><circle cx="363.1" cy="98.4" r="0.5"/><circle cx="404.1" cy="116.9" r="0.5"/><circle cx="392.2" cy="53.3" r="0.5"/><circle cx="398.2" cy="64.7" r="0.5"/><circle cx="389.8" cy="113.8" r="0.5"/><circle cx="392.6" cy="59.0" r="0.5"/><circle cx="374.6" cy="111.5" r="0.5"/><circle cx="368.4" cy="90.9" r="0.5"/><circle cx="379.8" cy="60.8" r="0.5"/><circle cx="388.8" cy="52.9" r="0.5"/><circle cx="366.7" cy="75.4" r="0.5"/><circle cx="365.1" cy="53.9" r="0.5"/><circle cx="386.7" cy="99.7" r="0.5"/><circle cx="399.8" cy="59.0" r="0.5"/><circle cx="380.6" cy="71.1" r="0.5"/><circle cx="387.8" cy="82.8" r="0.5"/><circle cx="402.4" cy="75.1" r="0.5"/><circle cx="364.4" cy="96.7" r="0.5"/><circle cx="368.5" cy="92.3" r="0.5"/><circle cx="383.8" cy="111.0" r="0.5"/><circle cx="385.9" cy="91.6" r="0.5"/><circle cx="373.3" cy="87.0" r="0.5"/><circle cx="372.9" cy="100.3" r="0.5"/><circle cx="384.2" cy="59.0" r="0.5"/><circle cx="372.1" cy="74.9" r="0.5"/><circle cx="393.7" cy="62.0" r="0.5"/><circle cx="392.7" cy="93.9" r="0.5"/><circle cx="365.7" cy="94.8" r="0.5"/><circle cx="365.9" cy="58.4" r="0.5"/><circle cx="387.5" cy="66.0" r="0.5"/><circle cx="399.7" cy="82.2" r="0.5"/><circle cx="375.9" cy="103.4" r="0.5"/><circle cx="363.3" cy="98.6" r="0.5"/><circle cx="364.3" cy="60.1" r="0.5"/><circle cx="402.9" cy="95.6" r="0.5"/><circle cx="371.6" cy="57.8" r="0.5"/><circle cx="403.8" cy="94.6" r="0.5"/><circle cx="397.3" cy="59.4" r="0.5"/><circle cx="388.9" cy="73.7" r="0.5"/><circle cx="372.1" cy="72.3" r="0.5"/><circle cx="388.4" cy="73.4" r="0.5"/><circle cx="378.6" cy="59.1" r="0.5"/><circle cx="397.7" cy="93.4" r="0.5"/><circle cx="396.6" cy="79.0" r="0.5"/><circle cx="398.6" cy="84.7" r="0.5"/><circle cx="387.5" cy="88.4" r="0.5"/><circle cx="393.8" cy="76.5" r="0.5"/><circle cx="366.2" cy="52.2" r="0.5"/><circle cx="370.7" cy="52.6" r="0.5"/><circle cx="400.2" cy="82.2" r="0.5"/><circle cx="394.7" cy="50.0" r="0.5"/><circle cx="382.2" cy="109.6" r="0.5"/><circle cx="388.6" cy="78.7" r="0.5"/><circle cx="382.0" cy="56.7" r="0.5"/><circle cx="368.7" cy="60.7" r="0.5"/><circle cx="378.1" cy="75.8" r="0.5"/><circle cx="399.9" cy="60.2" r="0.5"/><circle cx="372.9" cy="68.6" r="0.5"/><circle cx="368.9" cy="69.2" r="0.5"/><circle cx="372.1" cy="82.3" r="0.5"/><circle cx="363.4" cy="111.9" r="0.5"/><circle cx="377.9" cy="112.8" r="0.5"/><circle cx="391.6" cy="95.1" r="0.5"/><circle cx="382.3" cy="113.3" r="0.5"/><circle cx="367.1" cy="94.8" r="0.5"/><circle cx="374.5" cy="95.2" r="0.5"/><circle cx="393.4" cy="60.9" r="0.5"/><circle cx="370.6" cy="51.7" r="0.5"/><circle cx="371.9" cy="55.2" r="0.5"/><circle cx="379.2" cy="115.2" r="0.5"/><circle cx="377.7" cy="70.9" r="0.5"/><circle cx="382.1" cy="69.0" r="0.5"/><circle cx="393.5" cy="98.1" r="0.5"/><circle cx="369.0" cy="66.1" r="0.5"/><circle cx="390.9" cy="113.0" r="0.5"/><circle cx="389.8" cy="78.9" r="0.5"/><circle cx="403.9" cy="50.4" r="0.5"/><circle cx="364.6" cy="102.2" r="0.5"/><circle cx="379.6" cy="53.0" r="0.5"/><circle cx="385.6" cy="116.3" r="0.5"/><circle cx="384.3" cy="73.5" r="0.5"/><circle cx="366.0" cy="54.8" r="0.5"/><circle cx="400.6" cy="82.9" r="0.5"/><circle cx="402.2" cy="53.6" r="0.5"/><circle cx="372.5" cy="53.4" r="0.5"/><circle cx="379.1" cy="54.0" r="0.5"/><circle cx="373.0" cy="77.3" r="0.5"/><circle cx="375.2" cy="53.4" r="0.5"/><circle cx="363.6" cy="115.1" r="0.5"/><circle cx="369.7" cy="84.1" r="0.5"/><circle cx="379.3" cy="85.6" r="0.5"/><circle cx="365.6" cy="71.0" r="0.5"/><circle cx="366.6" cy="86.3" r="0.5"/><circle cx="401.6" cy="90.1" r="0.5"/><circle cx="398.8" cy="64.4" r="0.5"/><circle cx="362.7" cy="86.2" r="0.5"/><circle cx="382.9" cy="88.3" r="0.5"/><circle cx="378.2" cy="91.9" r="0.5"/><circle cx="393.2" cy="111.2" r="0.5"/><circle cx="375.2" cy="80.1" r="0.5"/><circle cx="397.5" cy="65.0" r="0.5"/><circle cx="367.0" cy="70.9" r="0.5"/><circle cx="365.8" cy="101.8" r="0.5"/><circle cx="397.2" cy="71.0" r="0.5"/><circle cx="367.6" cy="55.5" r="0.5"/><circle cx="372.5" cy="55.6" r="0.5"/><circle cx="380.4" cy="88.7" r="0.5"/><circle cx="372.6" cy="54.1" r="0.5"/><circle cx="392.1" cy="53.2" r="0.5"/><circle cx="370.6" cy="69.2" r="0.5"/><circle cx="378.1" cy="56.6" r="0.5"/><circle cx="380.1" cy="71.0" r="0.5"/><circle cx="394.3" cy="87.3" r="0.5"/><circle cx="400.5" cy="93.8" r="0.5"/><circle cx="394.7" cy="88.5" r="0.5"/><circle cx="381.0" cy="104.7" r="0.5"/><circle cx="390.2" cy="114.0" r="0.5"/><circle cx="393.3" cy="97.0" r="0.5"/><circle cx="373.5" cy="104.4" r="0.5"/><circle cx="378.4" cy="58.7" r="0.5"/><circle cx="364.8" cy="61.3" r="0.5"/><circle cx="373.3" cy="95.3" r="0.5"/><circle cx="374.3" cy="54.3" r="0.5"/><circle cx="394.8" cy="87.3" r="0.5"/><circle cx="363.2" cy="53.4" r="0.5"/><circle cx="367.6" cy="73.9" r="0.5"/><circle cx="399.0" cy="113.6" r="0.5"/><circle cx="388.3" cy="65.5" r="0.5"/><circle cx="380.4" cy="74.3" r="0.5"/><circle cx="376.2" cy="50.8" r="0.5"/><circle cx="387.1" cy="105.4" r="0.5"/><circle cx="393.3" cy="56.4" r="0.5"/><circle cx="384.8" cy="61.5" r="0.5"/><circle cx="392.5" cy="79.9" r="0.5"/><circle cx="402.4" cy="103.2" r="0.5"/><circle cx="367.1" cy="71.2" r="0.5"/><circle cx="401.3" cy="80.9" r="0.5"/><circle cx="380.7" cy="79.6" r="0.5"/><circle cx="395.0" cy="112.7" r="0.5"/><circle cx="384.9" cy="115.0" r="0.5"/><circle cx="387.6" cy="56.9" r="0.5"/><circle cx="397.0" cy="78.1" r="0.5"/><circle cx="364.2" cy="115.5" r="0.5"/><circle cx="363.4" cy="88.7" r="0.5"/><circle cx="382.7" cy="109.1" r="0.5"/><circle cx="378.9" cy="64.4" r="0.5"/><circle cx="373.9" cy="63.5" r="0.5"/><circle cx="386.2" cy="73.9" r="0.5"/><circle cx="394.3" cy="66.2" r="0.5"/><circle cx="377.1" cy="66.6" r="0.5"/><circle cx="404.2" cy="106.3" r="0.5"/><circle cx="398.5" cy="91.4" r="0.5"/><circle cx="379.2" cy="59.6" r="0.5"/><circle cx="397.8" cy="82.8" r="0.5"/><circle cx="363.6" cy="61.4" r="0.5"/><circle cx="366.2" cy="98.1" r="0.5"/><circle cx="400.7" cy="63.4" r="0.5"/><circle cx="396.3" cy="71.7" r="0.5"/><circle cx="391.4" cy="107.8" r="0.5"/><circle cx="388.8" cy="103.6" r="0.5"/><circle cx="378.2" cy="50.7" r="0.5"/><circle cx="384.0" cy="89.3" r="0.5"/><circle cx="369.9" cy="76.1" r="0.5"/><circle cx="375.6" cy="51.8" r="0.5"/><circle cx="375.4" cy="75.7" r="0.5"/><circle cx="382.5" cy="97.1" r="0.5"/><circle cx="379.2" cy="115.8" r="0.5"/><circle cx="397.1" cy="111.9" r="0.5"/><circle cx="391.8" cy="94.9" r="0.5"/><circle cx="385.1" cy="103.5" r="0.5"/><circle cx="377.6" cy="89.8" r="0.5"/><circle cx="391.2" cy="85.0" r="0.5"/><circle cx="374.2" cy="55.2" r="0.5"/><circle cx="365.8" cy="73.8" r="0.5"/><circle cx="387.0" cy="100.9" r="0.5"/><circle cx="392.7" cy="70.6" r="0.5"/><circle cx="402.0" cy="68.4" r="0.5"/><circle cx="392.8" cy="54.8" r="0.5"/><circle cx="394.4" cy="94.9" r="0.5"/><circle cx="403.1" cy="110.1" r="0.5"/><circle cx="391.6" cy="106.2" r="0.5"/><circle cx="393.8" cy="90.9" r="0.5"/><circle cx="371.0" cy="84.6" r="0.5"/><circle cx="400.5" cy="66.0" r="0.5"/><circle cx="403.9" cy="86.4" r="0.5"/><circle cx="378.9" cy="50.2" r="0.5"/><circle cx="378.8" cy="61.9" r="0.5"/><circle cx="390.1" cy="110.3" r="0.5"/><circle cx="401.1" cy="91.1" r="0.5"/><circle cx="378.6" cy="57.3" r="0.5"/><circle cx="391.6" cy="87.1" r="0.5"/><circle cx="392.8" cy="75.1" r="0.5"/><circle cx="400.1" cy="64.3" r="0.5"/><circle cx="375.1" cy="67.9" r="0.5"/><circle cx="388.8" cy="110.1" r="0.5"/><circle cx="369.2" cy="92.4" r="0.5"/><circle cx="395.0" cy="65.1" r="0.5"/><circle cx="364.7" cy="87.9" r="0.5"/><circle cx="397.7" cy="108.9" r="0.5"/><circle cx="393.3" cy="77.9" r="0.5"/><circle cx="380.3" cy="85.4" r="0.5"/><circle cx="400.9" cy="70.3" r="0.5"/><circle cx="374.1" cy="90.6" r="0.5"/><circle cx="403.6" cy="62.5" r="0.5"/><circle cx="363.3" cy="57.7" r="0.5"/><circle cx="386.2" cy="90.4" r="0.5"/><circle cx="369.9" cy="62.7" r="0.5"/><circle cx="387.6" cy="93.3" r="0.5"/><circle cx="391.7" cy="98.8" r="0.5"/><circle cx="364.6" cy="82.5" r="0.5"/><circle cx="397.9" cy="114.1" r="0.5"/><circle cx="375.7" cy="107.0" r="0.5"/><circle cx="389.7" cy="112.1" r="0.5"/><circle cx="371.8" cy="96.7" r="0.5"/><circle cx="398.2" cy="81.9" r="0.5"/><circle cx="366.3" cy="63.0" r="0.5"/><circle cx="368.7" cy="56.2" r="0.5"/><circle cx="368.5" cy="91.3" r="0.5"/><circle cx="366.5" cy="100.8" r="0.5"/><circle cx="393.7" cy="104.7" r="0.5"/><circle cx="396.6" cy="97.8" r="0.5"/><circle cx="401.7" cy="114.1" r="0.5"/><circle cx="388.9" cy="114.7" r="0.5"/><circle cx="366.4" cy="56.9" r="0.5"/><circle cx="364.8" cy="63.8" r="0.5"/><circle cx="378.1" cy="80.7" r="0.5"/><circle cx="391.3" cy="99.8" r="0.5"/><circle cx="365.6" cy="77.0" r="0.5"/><circle cx="385.4" cy="75.1" r="0.5"/><circle cx="367.1" cy="90.0" r="0.5"/><circle cx="378.1" cy="95.8" r="0.5"/><circle cx="383.3" cy="114.5" r="0.5"/><circle cx="402.6" cy="54.8" r="0.5"/><circle cx="394.7" cy="98.3" r="0.5"/><circle cx="374.7" cy="57.8" r="0.5"/><circle cx="382.6" cy="73.7" r="0.5"/><circle cx="393.7" cy="111.5" r="0.5"/><circle cx="378.4" cy="69.5" r="0.5"/><circle cx="383.4" cy="96.7" r="0.5"/><circle cx="395.9" cy="88.6" r="0.5"/><circle cx="374.7" cy="72.6" r="0.5"/><circle cx="398.5" cy="84.8" r="0.5"/><circle cx="364.2" cy="78.2" r="0.5"/><circle cx="372.2" cy="94.6" r="0.5"/><circle cx="365.2" cy="68.2" r="0.5"/><circle cx="366.1" cy="82.0" r="0.5"/><circle cx="404.3" cy="86.3" r="0.5"/><circle cx="378.6" cy="112.6" r="0.5"/><circle cx="365.9" cy="73.8" r="0.5"/><circle cx="396.9" cy="50.3" r="0.5"/><circle cx="394.9" cy="74.2" r="0.5"/><circle cx="362.7" cy="66.8" r="0.5"/><circle cx="381.7" cy="75.6" r="0.5"/><circle cx="384.2" cy="53.6" r="0.5"/><circle cx="371.4" cy="115.3" r="0.5"/><circle cx="381.0" cy="81.6" r="0.5"/><circle cx="365.7" cy="68.7" r="0.5"/><circle cx="403.1" cy="96.0" r="0.5"/><circle cx="383.8" cy="53.6" r="0.5"/><circle cx="378.9" cy="102.2" r="0.5"/><circle cx="380.7" cy="89.8" r="0.5"/><circle cx="400.8" cy="93.2" r="0.5"/><circle cx="389.3" cy="52.4" r="0.5"/><circle cx="363.0" cy="101.6" r="0.5"/><circle cx="379.8" cy="108.6" r="0.5"/><circle cx="397.5" cy="111.3" r="0.5"/><circle cx="378.3" cy="116.9" r="0.5"/><circle cx="394.5" cy="109.7" r="0.5"/><circle cx="368.4" cy="102.3" r="0.5"/><circle cx="380.2" cy="115.1" r="0.5"/><circle cx="404.7" cy="64.5" r="0.5"/><circle cx="380.1" cy="68.2" r="0.5"/><circle cx="382.2" cy="69.2" r="0.5"/><circle cx="390.7" cy="58.3" r="0.5"/><circle cx="369.3" cy="80.7" r="0.5"/><circle cx="365.2" cy="75.5" r="0.5"/><circle cx="400.6" cy="109.3" r="0.5"/><circle cx="370.5" cy="51.2" r="0.5"/><circle cx="397.6" cy="114.4" r="0.5"/><circle cx="387.8" cy="59.1" r="0.5"/><circle cx="372.2" cy="111.7" r="0.5"/><circle cx="402.3" cy="52.1" r="0.5"/><circle cx="369.9" cy="78.7" r="0.5"/><circle cx="373.5" cy="100.5" r="0.5"/><circle cx="378.0" cy="101.9" r="0.5"/><circle cx="368.5" cy="84.7" r="0.5"/><circle cx="403.9" cy="97.0" r="0.5"/><circle cx="365.9" cy="57.4" r="0.5"/><circle cx="389.7" cy="75.1" r="0.5"/><circle cx="377.9" cy="82.0" r="0.5"/><circle cx="387.0" cy="114.7" r="0.5"/><circle cx="372.4" cy="88.1" r="0.5"/><circle cx="373.3" cy="86.5" r="0.5"/><circle cx="393.5" cy="59.0" r="0.5"/><circle cx="382.7" cy="97.3" r="0.5"/><circle cx="362.4" cy="101.7" r="0.5"/><circle cx="380.0" cy="83.8" r="0.5"/><circle cx="388.3" cy="103.1" r="0.5"/><circle cx="364.4" cy="83.5" r="0.5"/><circle cx="363.6" cy="75.8" r="0.5"/><circle cx="376.9" cy="51.4" r="0.5"/><circle cx="374.8" cy="80.2" r="0.5"/><circle cx="390.2" cy="112.0" r="0.5"/><circle cx="377.9" cy="85.5" r="0.5"/><circle cx="392.7" cy="112.8" r="0.5"/><circle cx="402.8" cy="116.2" r="0.5"/><circle cx="375.0" cy="61.2" r="0.5"/><circle cx="402.1" cy="55.2" r="0.5"/><circle cx="381.3" cy="99.3" r="0.5"/><circle cx="384.7" cy="76.0" r="0.5"/><circle cx="401.8" cy="70.0" r="0.5"/><circle cx="385.7" cy="105.6" r="0.5"/><circle cx="367.9" cy="73.5" r="0.5"/><circle cx="383.3" cy="87.9" r="0.5"/><circle cx="370.9" cy="80.4" r="0.5"/><circle cx="364.6" cy="55.9" r="0.5"/><circle cx="376.7" cy="59.6" r="0.5"/><circle cx="403.6" cy="67.6" r="0.5"/><circle cx="373.9" cy="102.5" r="0.5"/><circle cx="393.9" cy="67.6" r="0.5"/><circle cx="397.7" cy="91.9" r="0.5"/><circle cx="378.7" cy="92.1" r="0.5"/><circle cx="372.6" cy="67.6" r="0.5"/><circle cx="399.7" cy="79.4" r="0.5"/><circle cx="400.6" cy="61.9" r="0.5"/><circle cx="367.9" cy="53.5" r="0.5"/><circle cx="393.8" cy="87.6" r="0.5"/><circle cx="362.4" cy="52.9" r="0.5"/><circle cx="397.4" cy="83.1" r="0.5"/><circle cx="399.5" cy="52.7" r="0.5"/><circle cx="387.3" cy="57.9" r="0.5"/><circle cx="393.0" cy="91.0" r="0.5"/><circle cx="388.3" cy="64.8" r="0.5"/><circle cx="402.8" cy="57.4" r="0.5"/><circle cx="364.8" cy="95.8" r="0.5"/><circle cx="366.0" cy="54.5" r="0.5"/><circle cx="381.8" cy="93.5" r="0.5"/><circle cx="400.4" cy="98.3" r="0.5"/><circle cx="365.0" cy="93.1" r="0.5"/><circle cx="398.3" cy="58.1" r="0.5"/><circle cx="394.4" cy="67.3" r="0.5"/><circle cx="374.8" cy="50.1" r="0.5"/><circle cx="394.6" cy="84.6" r="0.5"/><circle cx="400.8" cy="81.2" r="0.5"/><circle cx="368.7" cy="64.5" r="0.5"/><circle cx="373.3" cy="113.4" r="0.5"/><circle cx="370.8" cy="55.9" r="0.5"/><circle cx="377.2" cy="55.3" r="0.5"/><circle cx="380.3" cy="91.6" r="0.5"/></g>
<path d="M371,84 Q372.5,92 376,98" stroke="#fff" stroke-width="0.9" fill="none" opacity="0.7"/>
<text x="6.00" y="179.20" font-size="10.5" font-weight="bold" fill="#111" >C</text>
<rect x="69.50" y="181.80" width="52.90" height="14.3" fill="#a4cfd6" stroke="#5b5b5b" stroke-width="0.55"/>
<rect x="122.40" y="181.80" width="6.80" height="14.3" fill="#d99bca" stroke="#5b5b5b" stroke-width="0.55"/>
<rect x="129.20" y="181.80" width="34.00" height="14.3" fill="#aad7a6" stroke="#5b5b5b" stroke-width="0.55"/>
<rect x="163.20" y="181.80" width="14.40" height="14.3" fill="#d94850" stroke="#5b5b5b" stroke-width="0.55"/>
<rect x="177.60" y="181.80" width="4.90" height="14.3" fill="#efb2aa" stroke="#5b5b5b" stroke-width="0.55"/>
<rect x="182.50" y="181.80" width="30.70" height="14.3" fill="#efeba6" stroke="#5b5b5b" stroke-width="0.55"/>
<rect x="213.20" y="181.80" width="15.00" height="14.3" fill="#e0862f" stroke="#5b5b5b" stroke-width="0.55"/>
<rect x="228.20" y="181.80" width="19.20" height="14.3" fill="#bdb2dc" stroke="#5b5b5b" stroke-width="0.55"/>
<rect x="247.40" y="181.80" width="3.40" height="14.3" fill="#f3c7a6" stroke="#5b5b5b" stroke-width="0.55"/>
<rect x="250.80" y="181.80" width="4.80" height="14.3" fill="#c0124b" stroke="#5b5b5b" stroke-width="0.55"/>
<rect x="255.60" y="181.80" width="3.70" height="14.3" fill="#70acd8" stroke="#5b5b5b" stroke-width="0.55"/>
<rect x="259.30" y="181.80" width="2.60" height="14.3" fill="#e6b722" stroke="#5b5b5b" stroke-width="0.55"/>
<rect x="261.90" y="181.80" width="1.70" height="14.3" fill="#b992cc" stroke="#5b5b5b" stroke-width="0.55"/>
<rect x="263.60" y="181.80" width="0.90" height="14.3" fill="#3651a0" stroke="#5b5b5b" stroke-width="0.55"/>
<text x="62.3" y="191.05" font-size="6" text-anchor="end" fill="#222">Healthy (&lt; 50)</text>
<line x1="64.5" y1="188.95" x2="67.6" y2="188.95" stroke="#333" stroke-width="0.7"/>
<text x="267.30" y="191.05" font-size="6.0" fill="#333" >59,006</text>
<rect x="69.50" y="198.60" width="57.70" height="14.3" fill="#a4cfd6" stroke="#5b5b5b" stroke-width="0.55"/>
<rect x="127.20" y="198.60" width="7.10" height="14.3" fill="#d99bca" stroke="#5b5b5b" stroke-width="0.55"/>
<rect x="134.30" y="198.60" width="35.70" height="14.3" fill="#aad7a6" stroke="#5b5b5b" stroke-width="0.55"/>
<rect x="170.00" y="198.60" width="12.20" height="14.3" fill="#d94850" stroke="#5b5b5b" stroke-width="0.55"/>
<rect x="182.20" y="198.60" width="3.10" height="14.3" fill="#efb2aa" stroke="#5b5b5b" stroke-width="0.55"/>
<rect x="185.30" y="198.60" width="27.20" height="14.3" fill="#efeba6" stroke="#5b5b5b" stroke-width="0.55"/>
<rect x="212.50" y="198.60" width="16.30" height="14.3" fill="#e0862f" stroke="#5b5b5b" stroke-width="0.55"/>
<rect x="228.80" y="198.60" width="18.90" height="14.3" fill="#bdb2dc" stroke="#5b5b5b" stroke-width="0.55"/>
<rect x="247.70" y="198.60" width="4.00" height="14.3" fill="#f3c7a6" stroke="#5b5b5b" stroke-width="0.55"/>
<rect x="251.70" y="198.60" width="4.80" height="14.3" fill="#c0124b" stroke="#5b5b5b" stroke-width="0.55"/>
<rect x="256.50" y="198.60" width="4.50" height="14.3" fill="#70acd8" stroke="#5b5b5b" stroke-width="0.55"/>
<rect x="261.00" y="198.60" width="1.50" height="14.3" fill="#e6b722" stroke="#5b5b5b" stroke-width="0.55"/>
<rect x="262.50" y="198.60" width="1.00" height="14.3" fill="#b992cc" stroke="#5b5b5b" stroke-width="0.55"/>
<rect x="263.50" y="198.60" width="1.00" height="14.3" fill="#3651a0" stroke="#5b5b5b" stroke-width="0.55"/>
<text x="62.3" y="207.85" font-size="6" text-anchor="end" fill="#222">Healthy (&gt; 50)</text>
<line x1="64.5" y1="205.75" x2="67.6" y2="205.75" stroke="#333" stroke-width="0.7"/>
<text x="267.30" y="207.85" font-size="6.0" fill="#333" >38,033</text>
<rect x="69.50" y="215.40" width="34.90" height="14.3" fill="#a4cfd6" stroke="#5b5b5b" stroke-width="0.55"/>
<rect x="104.40" y="215.40" width="4.90" height="14.3" fill="#d99bca" stroke="#5b5b5b" stroke-width="0.55"/>
<rect x="109.30" y="215.40" width="23.90" height="14.3" fill="#aad7a6" stroke="#5b5b5b" stroke-width="0.55"/>
<rect x="133.20" y="215.40" width="41.10" height="14.3" fill="#d94850" stroke="#5b5b5b" stroke-width="0.55"/>
<rect x="174.30" y="215.40" width="6.30" height="14.3" fill="#efb2aa" stroke="#5b5b5b" stroke-width="0.55"/>
<rect x="180.60" y="215.40" width="41.40" height="14.3" fill="#efeba6" stroke="#5b5b5b" stroke-width="0.55"/>
<rect x="222.00" y="215.40" width="14.50" height="14.3" fill="#e0862f" stroke="#5b5b5b" stroke-width="0.55"/>
<rect x="236.50" y="215.40" width="10.80" height="14.3" fill="#bdb2dc" stroke="#5b5b5b" stroke-width="0.55"/>
<rect x="247.30" y="215.40" width="2.70" height="14.3" fill="#f3c7a6" stroke="#5b5b5b" stroke-width="0.55"/>
<rect x="250.00" y="215.40" width="6.20" height="14.3" fill="#c0124b" stroke="#5b5b5b" stroke-width="0.55"/>
<rect x="256.20" y="215.40" width="1.70" height="14.3" fill="#70acd8" stroke="#5b5b5b" stroke-width="0.55"/>
<rect x="257.90" y="215.40" width="6.60" height="14.3" fill="#3651a0" stroke="#5b5b5b" stroke-width="0.55"/>
<text x="62.3" y="224.65" font-size="6" text-anchor="end" fill="#222">CH–</text>
<line x1="64.5" y1="222.55" x2="67.6" y2="222.55" stroke="#333" stroke-width="0.7"/>
<text x="267.30" y="224.65" font-size="6.0" fill="#333" >57,796</text>
<rect x="69.50" y="232.20" width="42.40" height="14.3" fill="#a4cfd6" stroke="#5b5b5b" stroke-width="0.55"/>
<rect x="111.90" y="232.20" width="4.90" height="14.3" fill="#d99bca" stroke="#5b5b5b" stroke-width="0.55"/>
<rect x="116.80" y="232.20" width="7.50" height="14.3" fill="#aad7a6" stroke="#5b5b5b" stroke-width="0.55"/>
<rect x="124.30" y="232.20" width="11.70" height="14.3" fill="#d94850" stroke="#5b5b5b" stroke-width="0.55"/>
<rect x="136.00" y="232.20" width="1.80" height="14.3" fill="#efb2aa" stroke="#5b5b5b" stroke-width="0.55"/>
<rect x="137.80" y="232.20" width="28.50" height="14.3" fill="#efeba6" stroke="#5b5b5b" stroke-width="0.55"/>
<rect x="166.30" y="232.20" width="25.60" height="14.3" fill="#e0862f" stroke="#5b5b5b" stroke-width="0.55"/>
<rect x="191.90" y="232.20" width="20.70" height="14.3" fill="#bdb2dc" stroke="#5b5b5b" stroke-width="0.55"/>
<rect x="212.60" y="232.20" width="27.20" height="14.3" fill="#c0124b" stroke="#5b5b5b" stroke-width="0.55"/>
<rect x="239.80" y="232.20" width="9.50" height="14.3" fill="#70acd8" stroke="#5b5b5b" stroke-width="0.55"/>
<rect x="249.30" y="232.20" width="1.30" height="14.3" fill="#3651a0" stroke="#5b5b5b" stroke-width="0.55"/>
<rect x="250.60" y="232.20" width="7.50" height="14.3" fill="#b992cc" stroke="#5b5b5b" stroke-width="0.55"/>
<rect x="258.10" y="232.20" width="6.40" height="14.3" fill="#3651a0" stroke="#5b5b5b" stroke-width="0.55"/>
<text x="62.3" y="241.45" font-size="6" text-anchor="end" fill="#222"><tspan font-style="italic">TET2</tspan>mt CH</text>
<line x1="64.5" y1="239.35" x2="67.6" y2="239.35" stroke="#333" stroke-width="0.7"/>
<text x="267.30" y="241.45" font-size="6.0" fill="#333" >15,337</text>
<rect x="69.50" y="249.00" width="42.40" height="14.3" fill="#a4cfd6" stroke="#5b5b5b" stroke-width="0.55"/>
<rect x="111.90" y="249.00" width="5.70" height="14.3" fill="#d99bca" stroke="#5b5b5b" stroke-width="0.55"/>
<rect x="117.60" y="249.00" width="14.10" height="14.3" fill="#aad7a6" stroke="#5b5b5b" stroke-width="0.55"/>
<rect x="131.70" y="249.00" width="33.30" height="14.3" fill="#d94850" stroke="#5b5b5b" stroke-width="0.55"/>
<rect x="165.00" y="249.00" width="2.60" height="14.3" fill="#efb2aa" stroke="#5b5b5b" stroke-width="0.55"/>
<rect x="167.60" y="249.00" width="54.30" height="14.3" fill="#efeba6" stroke="#5b5b5b" stroke-width="0.55"/>
<rect x="221.90" y="249.00" width="24.30" height="14.3" fill="#e0862f" stroke="#5b5b5b" stroke-width="0.55"/>
<rect x="246.20" y="249.00" width="1.70" height="14.3" fill="#3c9a42" stroke="#5b5b5b" stroke-width="0.55"/>
<rect x="247.90" y="249.00" width="4.10" height="14.3" fill="#bdb2dc" stroke="#5b5b5b" stroke-width="0.55"/>
<rect x="252.00" y="249.00" width="2.50" height="14.3" fill="#f3c7a6" stroke="#5b5b5b" stroke-width="0.55"/>
<rect x="254.50" y="249.00" width="1.90" height="14.3" fill="#c0124b" stroke="#5b5b5b" stroke-width="0.55"/>
<rect x="256.40" y="249.00" width="2.20" height="14.3" fill="#70acd8" stroke="#5b5b5b" stroke-width="0.55"/>
<rect x="258.60" y="249.00" width="3.30" height="14.3" fill="#b992cc" stroke="#5b5b5b" stroke-width="0.55"/>
<rect x="261.90" y="249.00" width="2.60" height="14.3" fill="#3651a0" stroke="#5b5b5b" stroke-width="0.55"/>
<text x="62.3" y="258.25" font-size="6" text-anchor="end" fill="#222"><tspan font-style="italic">DNMT3A</tspan>mt CH</text>
<line x1="64.5" y1="256.15" x2="67.6" y2="256.15" stroke="#333" stroke-width="0.7"/>
<text x="267.30" y="258.25" font-size="6.0" fill="#333" >4,950</text>
<line x1="68.8" y1="179.8" x2="68.8" y2="264.2" stroke="#222" stroke-width="0.9"/>
<line x1="68.4" y1="264.2" x2="265" y2="264.2" stroke="#222" stroke-width="0.9"/>
<line x1="69.50" y1="264.2" x2="69.50" y2="266.6" stroke="#333" stroke-width="0.7"/>
<text x="69.50" y="274.60" font-size="6.0" text-anchor="middle" fill="#333" >0.00</text>
<line x1="118.25" y1="264.2" x2="118.25" y2="266.6" stroke="#333" stroke-width="0.7"/>
<text x="118.25" y="274.60" font-size="6.0" text-anchor="middle" fill="#333" >0.25</text>
<line x1="167.00" y1="264.2" x2="167.00" y2="266.6" stroke="#333" stroke-width="0.7"/>
<text x="167.00" y="274.60" font-size="6.0" text-anchor="middle" fill="#333" >0.50</text>
<line x1="215.75" y1="264.2" x2="215.75" y2="266.6" stroke="#333" stroke-width="0.7"/>
<text x="215.75" y="274.60" font-size="6.0" text-anchor="middle" fill="#333" >0.75</text>
<line x1="264.50" y1="264.2" x2="264.50" y2="266.6" stroke="#333" stroke-width="0.7"/>
<text x="264.50" y="274.60" font-size="6.0" text-anchor="middle" fill="#333" >1.00</text>
<text x="168.30" y="285.80" font-size="7.4" text-anchor="middle" font-weight="bold" fill="#1a1a1a" textLength="48.5" lengthAdjust="spacingAndGlyphs" >Cell type proportion</text>
<text transform="translate(13.7,236.3) rotate(-90)" font-size="8.2" text-anchor="middle" fill="#222">COVID-19+</text>
<line x1="18.8" y1="217.5" x2="18.8" y2="256.5" stroke="#333" stroke-width="0.9"/>
<rect x="85.10" y="291.40" width="5.8" height="5.8" fill="#a4cfd6" stroke="#76959a" stroke-width="0.7"/>
<text x="93.80" y="296.40" font-size="6.3" fill="#222" >CD4 T</text>
<rect x="85.10" y="300.35" width="5.8" height="5.8" fill="#d99bca" stroke="#9c6f91" stroke-width="0.7"/>
<text x="93.80" y="305.35" font-size="6.3" fill="#222" >Treg</text>
<rect x="85.10" y="309.30" width="5.8" height="5.8" fill="#aad7a6" stroke="#7a9a77" stroke-width="0.7"/>
<text x="93.80" y="314.30" font-size="6.3" fill="#222" >CD8 T</text>
<rect x="85.10" y="318.25" width="5.8" height="5.8" fill="#d94850" stroke="#9c3339" stroke-width="0.7"/>
<text x="93.80" y="323.25" font-size="6.3" fill="#222" >gdT</text>
<rect x="117.80" y="291.40" width="5.8" height="5.8" fill="#efb2aa" stroke="#ac807a" stroke-width="0.7"/>
<text x="126.20" y="296.40" font-size="6.3" fill="#222" >MAIT</text>
<rect x="117.80" y="300.35" width="5.8" height="5.8" fill="#efeba6" stroke="#aca977" stroke-width="0.7"/>
<text x="126.20" y="305.35" font-size="6.3" fill="#222" >NK</text>
<rect x="117.80" y="309.30" width="5.8" height="5.8" fill="#e0862f" stroke="#a16021" stroke-width="0.7"/>
<text x="126.20" y="314.30" font-size="6.3" fill="#222" >B</text>
<rect x="117.80" y="318.25" width="5.8" height="5.8" fill="#3c9a42" stroke="#2b6e2f" stroke-width="0.7"/>
<text x="126.20" y="323.25" font-size="6.3" fill="#222" >Plasmablast</text>
<rect x="164.50" y="291.40" width="5.8" height="5.8" fill="#bdb2dc" stroke="#88809e" stroke-width="0.7"/>
<text x="173.00" y="296.40" font-size="6.3" fill="#222" >CD14 Mono</text>
<rect x="164.50" y="300.35" width="5.8" height="5.8" fill="#f3c7a6" stroke="#ae8f77" stroke-width="0.7"/>
<text x="173.00" y="305.35" font-size="6.3" fill="#222" >CD16 Mono</text>
<rect x="164.50" y="309.30" width="5.8" height="5.8" fill="#c0124b" stroke="#8a0c36" stroke-width="0.7"/>
<text x="173.00" y="314.30" font-size="6.3" fill="#222" >Int Mono</text>
<rect x="164.50" y="318.25" width="5.8" height="5.8" fill="#70acd8" stroke="#507b9b" stroke-width="0.7"/>
<text x="173.00" y="323.25" font-size="6.3" fill="#222" >cDC</text>
<rect x="212.60" y="291.40" width="5.8" height="5.8" fill="#e6b722" stroke="#a58318" stroke-width="0.7"/>
<text x="221.20" y="296.40" font-size="6.3" fill="#222" >pDC</text>
<rect x="212.60" y="300.35" width="5.8" height="5.8" fill="#b992cc" stroke="#856992" stroke-width="0.7"/>
<text x="221.20" y="305.35" font-size="6.3" fill="#222" >HSPC</text>
<rect x="212.60" y="309.30" width="5.8" height="5.8" fill="#3651a0" stroke="#263a73" stroke-width="0.7"/>
<text x="221.20" y="314.30" font-size="6.3" fill="#222" >Neutrophils</text>
<rect x="212.60" y="318.25" width="5.8" height="5.8" fill="#000000" stroke="#000000" stroke-width="0.7"/>
<text x="221.20" y="323.25" font-size="6.3" fill="#222" >Basophils</text>
<text x="6.00" y="343.20" font-size="10.5" font-weight="bold" fill="#111" >D</text>
<text x="88" y="344.0" font-size="7.6" fill="#222" textLength="113" lengthAdjust="spacingAndGlyphs"><tspan font-style="italic">TET2</tspan>mt CH vs. <tspan font-style="italic">DNMT3A</tspan>mt CH</text>
<line x1="35.6" y1="348.8" x2="35.6" y2="607" stroke="#222" stroke-width="1"/>
<line x1="35.1" y1="607" x2="253.5" y2="607" stroke="#222" stroke-width="1"/>
<line x1="32.6" y1="595.80" x2="35.6" y2="595.80" stroke="#333" stroke-width="0.7"/>
<text x="29.60" y="597.90" font-size="6.0" text-anchor="end" fill="#333" >0</text>
<line x1="32.6" y1="518.53" x2="35.6" y2="518.53" stroke="#333" stroke-width="0.7"/>
<text x="29.60" y="520.63" font-size="6.0" text-anchor="end" fill="#333" >100</text>
<line x1="32.6" y1="441.26" x2="35.6" y2="441.26" stroke="#333" stroke-width="0.7"/>
<text x="29.60" y="443.36" font-size="6.0" text-anchor="end" fill="#333" >200</text>
<line x1="32.6" y1="363.99" x2="35.6" y2="363.99" stroke="#333" stroke-width="0.7"/>
<text x="29.60" y="366.09" font-size="6.0" text-anchor="end" fill="#333" >300</text>
<line x1="45.30" y1="607" x2="45.30" y2="609.8" stroke="#333" stroke-width="0.7"/>
<text x="45.30" y="618.80" font-size="6.0" text-anchor="middle" fill="#333" >−4</text>
<line x1="94.90" y1="607" x2="94.90" y2="609.8" stroke="#333" stroke-width="0.7"/>
<text x="94.90" y="618.80" font-size="6.0" text-anchor="middle" fill="#333" >−2</text>
<line x1="144.50" y1="607" x2="144.50" y2="609.8" stroke="#333" stroke-width="0.7"/>
<text x="144.50" y="618.80" font-size="6.0" text-anchor="middle" fill="#333" >0</text>
<line x1="194.10" y1="607" x2="194.10" y2="609.8" stroke="#333" stroke-width="0.7"/>
<text x="194.10" y="618.80" font-size="6.0" text-anchor="middle" fill="#333" >2</text>
<line x1="243.70" y1="607" x2="243.70" y2="609.8" stroke="#333" stroke-width="0.7"/>
<text x="243.70" y="618.80" font-size="6.0" text-anchor="middle" fill="#333" >4</text>
<text transform="translate(13.4,476.8) rotate(-90)" font-size="7.0" font-weight="bold" text-anchor="middle" fill="#1a1a1a" textLength="61.5" lengthAdjust="spacingAndGlyphs">−Log10(adjusted <tspan font-style="italic">P</tspan> value)</text>
<text x="143.70" y="630.80" font-size="7.4" text-anchor="middle" font-weight="bold" fill="#1a1a1a" textLength="102" lengthAdjust="spacingAndGlyphs" >Log2(fold change of average expression)</text>
<g><circle cx="171.5" cy="554.8" r="0.9" fill="#a4cfd6"/><circle cx="195.2" cy="423.8" r="0.9" fill="#efeba6"/><circle cx="116.4" cy="558.7" r="0.9" fill="#a4cfd6"/><circle cx="175.1" cy="585.4" r="0.9" fill="#bdb2dc"/><circle cx="161.8" cy="590.0" r="0.9" fill="#a4cfd6"/><circle cx="175.2" cy="593.0" r="0.9" fill="#aad7a6"/><circle cx="111.1" cy="550.5" r="0.9" fill="#a4cfd6"/><circle cx="160.0" cy="542.2" r="0.9" fill="#e0862f"/><circle cx="167.4" cy="539.9" r="0.9" fill="#aad7a6"/><circle cx="180.7" cy="562.8" r="0.9" fill="#a4cfd6"/><circle cx="169.4" cy="580.4" r="0.9" fill="#e0862f"/><circle cx="176.1" cy="579.1" r="0.9" fill="#d94850"/><circle cx="169.9" cy="591.6" r="0.9" fill="#a4cfd6"/><circle cx="169.1" cy="554.3" r="0.9" fill="#aad7a6"/><circle cx="152.2" cy="588.2" r="0.9" fill="#e0862f"/><circle cx="190.7" cy="528.1" r="0.9" fill="#e0862f"/><circle cx="134.5" cy="590.9" r="0.9" fill="#aad7a6"/><circle cx="162.1" cy="592.8" r="0.9" fill="#a4cfd6"/><circle cx="113.6" cy="569.6" r="0.9" fill="#a4cfd6"/><circle cx="176.3" cy="579.6" r="0.9" fill="#a4cfd6"/><circle cx="130.3" cy="551.8" r="0.9" fill="#a4cfd6"/><circle cx="173.0" cy="535.7" r="0.9" fill="#e0862f"/><circle cx="167.7" cy="558.4" r="0.9" fill="#e0862f"/><circle cx="154.0" cy="589.4" r="0.9" fill="#e0862f"/><circle cx="174.6" cy="584.2" r="0.9" fill="#aad7a6"/><circle cx="193.3" cy="529.1" r="0.9" fill="#d94850"/><circle cx="177.5" cy="528.2" r="0.9" fill="#e0862f"/><circle cx="167.7" cy="519.5" r="0.9" fill="#e0862f"/><circle cx="123.2" cy="566.9" r="0.9" fill="#a4cfd6"/><circle cx="174.7" cy="582.6" r="0.9" fill="#e0862f"/><circle cx="168.6" cy="584.8" r="0.9" fill="#e0862f"/><circle cx="173.9" cy="518.7" r="0.9" fill="#e0862f"/><circle cx="122.5" cy="565.3" r="0.9" fill="#a4cfd6"/><circle cx="170.6" cy="541.0" r="0.9" fill="#d94850"/><circle cx="164.5" cy="525.1" r="0.9" fill="#e0862f"/><circle cx="116.4" cy="587.6" r="0.9" fill="#a4cfd6"/><circle cx="176.9" cy="509.3" r="0.9" fill="#e0862f"/><circle cx="174.6" cy="558.2" r="0.9" fill="#e0862f"/><circle cx="173.2" cy="554.6" r="0.9" fill="#efeba6"/><circle cx="170.8" cy="516.2" r="0.9" fill="#aad7a6"/><circle cx="167.9" cy="592.1" r="0.9" fill="#aad7a6"/><circle cx="169.5" cy="521.8" r="0.9" fill="#efeba6"/><circle cx="119.5" cy="581.3" r="0.9" fill="#a4cfd6"/><circle cx="175.8" cy="592.7" r="0.9" fill="#e0862f"/><circle cx="166.1" cy="586.0" r="0.9" fill="#a4cfd6"/><circle cx="189.4" cy="581.5" r="0.9" fill="#d99bca"/><circle cx="152.2" cy="575.1" r="0.9" fill="#e0862f"/><circle cx="174.2" cy="588.7" r="0.9" fill="#aad7a6"/><circle cx="115.8" cy="550.7" r="0.9" fill="#a4cfd6"/><circle cx="175.0" cy="590.8" r="0.9" fill="#a4cfd6"/><circle cx="171.3" cy="586.3" r="0.9" fill="#e0862f"/><circle cx="159.1" cy="570.7" r="0.9" fill="#e0862f"/><circle cx="170.3" cy="533.8" r="0.9" fill="#a4cfd6"/><circle cx="174.6" cy="545.8" r="0.9" fill="#efeba6"/><circle cx="158.4" cy="568.5" r="0.9" fill="#e0862f"/><circle cx="157.7" cy="562.0" r="0.9" fill="#e0862f"/><circle cx="169.4" cy="570.3" r="0.9" fill="#a4cfd6"/><circle cx="105.2" cy="450.7" r="0.9" fill="#a4cfd6"/><circle cx="181.8" cy="551.1" r="0.9" fill="#aad7a6"/><circle cx="161.0" cy="593.0" r="0.9" fill="#a4cfd6"/><circle cx="168.1" cy="585.5" r="0.9" fill="#a4cfd6"/><circle cx="135.0" cy="561.2" r="0.9" fill="#aad7a6"/><circle cx="173.4" cy="551.8" r="0.9" fill="#a4cfd6"/><circle cx="176.9" cy="557.2" r="0.9" fill="#aad7a6"/><circle cx="165.2" cy="535.2" r="0.9" fill="#e0862f"/><circle cx="173.6" cy="562.6" r="0.9" fill="#aad7a6"/><circle cx="175.3" cy="569.4" r="0.9" fill="#e0862f"/><circle cx="167.2" cy="592.0" r="0.9" fill="#aad7a6"/><circle cx="165.0" cy="565.8" r="0.9" fill="#e0862f"/><circle cx="116.8" cy="554.0" r="0.9" fill="#a4cfd6"/><circle cx="175.3" cy="532.6" r="0.9" fill="#e0862f"/><circle cx="162.5" cy="593.0" r="0.9" fill="#a4cfd6"/><circle cx="174.1" cy="527.7" r="0.9" fill="#e0862f"/><circle cx="176.7" cy="528.3" r="0.9" fill="#e0862f"/><circle cx="176.8" cy="588.3" r="0.9" fill="#aad7a6"/><circle cx="166.7" cy="580.8" r="0.9" fill="#e0862f"/><circle cx="151.7" cy="584.2" r="0.9" fill="#e0862f"/><circle cx="173.0" cy="592.8" r="0.9" fill="#aad7a6"/><circle cx="173.2" cy="592.6" r="0.9" fill="#a4cfd6"/><circle cx="155.1" cy="567.3" r="0.9" fill="#e0862f"/><circle cx="126.3" cy="588.1" r="0.9" fill="#efeba6"/><circle cx="112.3" cy="592.0" r="0.9" fill="#a4cfd6"/><circle cx="174.3" cy="584.7" r="0.9" fill="#d94850"/><circle cx="156.5" cy="567.4" r="0.9" fill="#e0862f"/><circle cx="176.7" cy="520.0" r="0.9" fill="#d94850"/><circle cx="170.0" cy="578.4" r="0.9" fill="#aad7a6"/><circle cx="178.9" cy="589.7" r="0.9" fill="#d99bca"/><circle cx="168.7" cy="567.6" r="0.9" fill="#e0862f"/><circle cx="114.5" cy="556.6" r="0.9" fill="#aad7a6"/><circle cx="150.2" cy="590.2" r="0.9" fill="#e0862f"/><circle cx="174.0" cy="513.8" r="0.9" fill="#e0862f"/><circle cx="179.5" cy="572.6" r="0.9" fill="#d94850"/><circle cx="171.3" cy="592.2" r="0.9" fill="#a4cfd6"/><circle cx="180.5" cy="581.7" r="0.9" fill="#d94850"/><circle cx="164.4" cy="587.2" r="0.9" fill="#aad7a6"/><circle cx="166.1" cy="591.7" r="0.9" fill="#d94850"/><circle cx="154.6" cy="567.6" r="0.9" fill="#e0862f"/><circle cx="102.6" cy="486.8" r="0.9" fill="#e0862f"/><circle cx="172.3" cy="583.4" r="0.9" fill="#a4cfd6"/><circle cx="173.4" cy="535.7" r="0.9" fill="#aad7a6"/><circle cx="166.7" cy="585.2" r="0.9" fill="#a4cfd6"/><circle cx="175.9" cy="556.2" r="0.9" fill="#e0862f"/><circle cx="181.9" cy="558.2" r="0.9" fill="#aad7a6"/><circle cx="173.6" cy="539.4" r="0.9" fill="#a4cfd6"/><circle cx="98.6" cy="537.1" r="0.9" fill="#a4cfd6"/><circle cx="176.5" cy="590.8" r="0.9" fill="#d99bca"/><circle cx="156.5" cy="570.8" r="0.9" fill="#e0862f"/><circle cx="162.8" cy="584.4" r="0.9" fill="#aad7a6"/><circle cx="166.7" cy="592.0" r="0.9" fill="#a4cfd6"/><circle cx="175.5" cy="528.6" r="0.9" fill="#e0862f"/><circle cx="182.9" cy="570.7" r="0.9" fill="#a4cfd6"/><circle cx="179.7" cy="583.6" r="0.9" fill="#d99bca"/><circle cx="109.8" cy="564.7" r="0.9" fill="#a4cfd6"/><circle cx="167.5" cy="573.9" r="0.9" fill="#efeba6"/><circle cx="170.2" cy="534.0" r="0.9" fill="#e0862f"/><circle cx="185.6" cy="541.6" r="0.9" fill="#d94850"/><circle cx="183.5" cy="549.4" r="0.9" fill="#a4cfd6"/><circle cx="171.0" cy="512.5" r="0.9" fill="#e0862f"/><circle cx="157.8" cy="569.1" r="0.9" fill="#e0862f"/><circle cx="170.5" cy="566.3" r="0.9" fill="#efeba6"/><circle cx="177.5" cy="569.7" r="0.9" fill="#aad7a6"/><circle cx="182.5" cy="559.2" r="0.9" fill="#aad7a6"/><circle cx="166.7" cy="592.9" r="0.9" fill="#d99bca"/><circle cx="157.2" cy="574.1" r="0.9" fill="#e0862f"/><circle cx="177.0" cy="589.9" r="0.9" fill="#e0862f"/><circle cx="190.6" cy="521.9" r="0.9" fill="#d94850"/><circle cx="119.4" cy="575.6" r="0.9" fill="#a4cfd6"/><circle cx="175.3" cy="591.9" r="0.9" fill="#aad7a6"/><circle cx="174.7" cy="523.2" r="0.9" fill="#e0862f"/><circle cx="175.7" cy="562.9" r="0.9" fill="#aad7a6"/><circle cx="175.7" cy="561.8" r="0.9" fill="#e0862f"/><circle cx="159.4" cy="578.4" r="0.9" fill="#e0862f"/><circle cx="179.7" cy="578.2" r="0.9" fill="#aad7a6"/><circle cx="121.9" cy="568.4" r="0.9" fill="#a4cfd6"/><circle cx="119.0" cy="583.2" r="0.9" fill="#aad7a6"/><circle cx="158.0" cy="562.4" r="0.9" fill="#efeba6"/><circle cx="155.4" cy="585.8" r="0.9" fill="#e0862f"/><circle cx="203.5" cy="550.8" r="0.9" fill="#d94850"/><circle cx="124.5" cy="592.0" r="0.9" fill="#efeba6"/><circle cx="189.5" cy="585.0" r="0.9" fill="#aad7a6"/><circle cx="125.1" cy="561.4" r="0.9" fill="#a4cfd6"/><circle cx="171.9" cy="509.4" r="0.9" fill="#d94850"/><circle cx="173.6" cy="554.8" r="0.9" fill="#d94850"/><circle cx="171.0" cy="581.5" r="0.9" fill="#a4cfd6"/><circle cx="158.5" cy="545.8" r="0.9" fill="#aad7a6"/><circle cx="178.8" cy="534.1" r="0.9" fill="#d94850"/><circle cx="183.4" cy="528.8" r="0.9" fill="#d94850"/><circle cx="178.5" cy="585.5" r="0.9" fill="#a4cfd6"/><circle cx="175.5" cy="543.9" r="0.9" fill="#e0862f"/><circle cx="174.3" cy="590.6" r="0.9" fill="#a4cfd6"/><circle cx="186.1" cy="558.5" r="0.9" fill="#aad7a6"/><circle cx="172.4" cy="562.3" r="0.9" fill="#aad7a6"/><circle cx="136.8" cy="582.8" r="0.9" fill="#aad7a6"/><circle cx="171.8" cy="593.0" r="0.9" fill="#a4cfd6"/><circle cx="170.2" cy="591.7" r="0.9" fill="#aad7a6"/><circle cx="169.6" cy="585.3" r="0.9" fill="#e0862f"/><circle cx="157.9" cy="572.7" r="0.9" fill="#e0862f"/><circle cx="158.7" cy="567.5" r="0.9" fill="#e0862f"/><circle cx="177.0" cy="581.3" r="0.9" fill="#aad7a6"/><circle cx="177.6" cy="530.1" r="0.9" fill="#e0862f"/><circle cx="114.5" cy="579.2" r="0.9" fill="#a4cfd6"/><circle cx="123.5" cy="551.5" r="0.9" fill="#a4cfd6"/><circle cx="171.7" cy="590.6" r="0.9" fill="#a4cfd6"/><circle cx="173.4" cy="526.2" r="0.9" fill="#e0862f"/><circle cx="176.6" cy="538.5" r="0.9" fill="#aad7a6"/><circle cx="173.1" cy="535.8" r="0.9" fill="#e0862f"/><circle cx="170.8" cy="530.0" r="0.9" fill="#e0862f"/><circle cx="195.2" cy="590.0" r="0.9" fill="#aad7a6"/><circle cx="177.0" cy="511.3" r="0.9" fill="#e0862f"/><circle cx="180.0" cy="571.2" r="0.9" fill="#a4cfd6"/><circle cx="162.2" cy="593.0" r="0.9" fill="#aad7a6"/><circle cx="125.6" cy="560.7" r="0.9" fill="#a4cfd6"/><circle cx="170.5" cy="576.6" r="0.9" fill="#e0862f"/><circle cx="169.3" cy="591.0" r="0.9" fill="#aad7a6"/><circle cx="186.5" cy="510.2" r="0.9" fill="#a4cfd6"/><circle cx="168.0" cy="591.4" r="0.9" fill="#e0862f"/><circle cx="167.9" cy="532.9" r="0.9" fill="#e0862f"/><circle cx="187.2" cy="432.3" r="0.9" fill="#a4cfd6"/><circle cx="178.8" cy="547.8" r="0.9" fill="#e0862f"/><circle cx="162.8" cy="533.9" r="0.9" fill="#e0862f"/><circle cx="180.1" cy="546.1" r="0.9" fill="#aad7a6"/><circle cx="166.5" cy="565.4" r="0.9" fill="#e0862f"/><circle cx="178.4" cy="576.4" r="0.9" fill="#d94850"/><circle cx="117.2" cy="556.8" r="0.9" fill="#a4cfd6"/><circle cx="179.2" cy="539.3" r="0.9" fill="#aad7a6"/><circle cx="190.4" cy="554.8" r="0.9" fill="#e0862f"/><circle cx="174.8" cy="522.4" r="0.9" fill="#e0862f"/><circle cx="121.2" cy="523.6" r="0.9" fill="#a4cfd6"/><circle cx="187.5" cy="537.6" r="0.9" fill="#a4cfd6"/><circle cx="157.0" cy="558.6" r="0.9" fill="#e0862f"/><circle cx="178.2" cy="587.0" r="0.9" fill="#a4cfd6"/><circle cx="115.8" cy="564.0" r="0.9" fill="#a4cfd6"/><circle cx="156.0" cy="567.3" r="0.9" fill="#e0862f"/><circle cx="154.1" cy="561.9" r="0.9" fill="#e0862f"/><circle cx="170.6" cy="591.7" r="0.9" fill="#e0862f"/><circle cx="181.9" cy="522.3" r="0.9" fill="#d94850"/><circle cx="132.7" cy="592.0" r="0.9" fill="#a4cfd6"/><circle cx="167.9" cy="516.8" r="0.9" fill="#e0862f"/><circle cx="125.6" cy="543.9" r="0.9" fill="#aad7a6"/><circle cx="165.7" cy="527.1" r="0.9" fill="#e0862f"/><circle cx="176.7" cy="511.9" r="0.9" fill="#aad7a6"/><circle cx="152.8" cy="587.6" r="0.9" fill="#e0862f"/><circle cx="165.6" cy="566.3" r="0.9" fill="#e0862f"/><circle cx="122.4" cy="572.1" r="0.9" fill="#a4cfd6"/><circle cx="126.6" cy="568.4" r="0.9" fill="#a4cfd6"/><circle cx="171.6" cy="570.1" r="0.9" fill="#aad7a6"/><circle cx="119.1" cy="585.7" r="0.9" fill="#a4cfd6"/><circle cx="173.0" cy="549.5" r="0.9" fill="#e0862f"/><circle cx="116.5" cy="568.4" r="0.9" fill="#a4cfd6"/><circle cx="168.9" cy="590.3" r="0.9" fill="#d94850"/><circle cx="118.5" cy="591.8" r="0.9" fill="#a4cfd6"/><circle cx="176.6" cy="514.3" r="0.9" fill="#e0862f"/><circle cx="165.9" cy="564.2" r="0.9" fill="#e0862f"/><circle cx="106.8" cy="525.2" r="0.9" fill="#a4cfd6"/><circle cx="166.7" cy="569.1" r="0.9" fill="#a4cfd6"/><circle cx="186.7" cy="584.6" r="0.9" fill="#d99bca"/><circle cx="158.6" cy="575.1" r="0.9" fill="#d94850"/><circle cx="157.8" cy="549.6" r="0.9" fill="#e0862f"/><circle cx="165.5" cy="589.6" r="0.9" fill="#efeba6"/><circle cx="116.5" cy="591.7" r="0.9" fill="#a4cfd6"/><circle cx="173.2" cy="528.5" r="0.9" fill="#e0862f"/><circle cx="124.8" cy="589.3" r="0.9" fill="#a4cfd6"/><circle cx="170.3" cy="512.4" r="0.9" fill="#e0862f"/><circle cx="190.8" cy="519.6" r="0.9" fill="#d94850"/><circle cx="172.9" cy="511.5" r="0.9" fill="#e0862f"/><circle cx="157.4" cy="591.4" r="0.9" fill="#d94850"/><circle cx="177.2" cy="510.3" r="0.9" fill="#a4cfd6"/><circle cx="179.5" cy="552.5" r="0.9" fill="#a4cfd6"/><circle cx="192.5" cy="492.5" r="0.9" fill="#e0862f"/><circle cx="180.4" cy="571.2" r="0.9" fill="#aad7a6"/><circle cx="172.8" cy="526.2" r="0.9" fill="#e0862f"/><circle cx="114.5" cy="548.5" r="0.9" fill="#a4cfd6"/><circle cx="98.0" cy="535.0" r="0.9" fill="#e0862f"/><circle cx="172.8" cy="582.1" r="0.9" fill="#aad7a6"/><circle cx="182.1" cy="562.6" r="0.9" fill="#efeba6"/><circle cx="167.6" cy="554.2" r="0.9" fill="#e0862f"/><circle cx="219.0" cy="505.0" r="0.9" fill="#d94850"/><circle cx="169.0" cy="527.6" r="0.9" fill="#e0862f"/><circle cx="198.8" cy="472.5" r="0.9" fill="#d94850"/><circle cx="174.6" cy="526.0" r="0.9" fill="#e0862f"/><circle cx="170.7" cy="542.6" r="0.9" fill="#e0862f"/><circle cx="101.5" cy="520.4" r="0.9" fill="#a4cfd6"/><circle cx="113.5" cy="589.1" r="0.9" fill="#a4cfd6"/><circle cx="174.9" cy="588.9" r="0.9" fill="#aad7a6"/><circle cx="196.0" cy="477.5" r="0.9" fill="#d94850"/><circle cx="174.4" cy="580.3" r="0.9" fill="#aad7a6"/><circle cx="172.8" cy="553.3" r="0.9" fill="#e0862f"/><circle cx="167.9" cy="562.5" r="0.9" fill="#e0862f"/><circle cx="116.2" cy="584.6" r="0.9" fill="#aad7a6"/><circle cx="153.1" cy="583.3" r="0.9" fill="#e0862f"/><circle cx="203.2" cy="584.4" r="0.9" fill="#d94850"/><circle cx="177.5" cy="580.3" r="0.9" fill="#aad7a6"/><circle cx="169.6" cy="529.2" r="0.9" fill="#e0862f"/><circle cx="158.7" cy="590.3" r="0.9" fill="#e0862f"/><circle cx="170.3" cy="548.1" r="0.9" fill="#a4cfd6"/><circle cx="175.7" cy="527.6" r="0.9" fill="#e0862f"/><circle cx="159.9" cy="541.4" r="0.9" fill="#d94850"/><circle cx="164.9" cy="543.6" r="0.9" fill="#e0862f"/><circle cx="177.8" cy="534.3" r="0.9" fill="#e0862f"/><circle cx="165.7" cy="560.9" r="0.9" fill="#e0862f"/><circle cx="173.2" cy="548.1" r="0.9" fill="#efeba6"/><circle cx="164.4" cy="549.2" r="0.9" fill="#e0862f"/><circle cx="123.4" cy="576.2" r="0.9" fill="#a4cfd6"/><circle cx="156.3" cy="557.7" r="0.9" fill="#e0862f"/><circle cx="121.9" cy="572.5" r="0.9" fill="#a4cfd6"/><circle cx="173.1" cy="589.2" r="0.9" fill="#aad7a6"/><circle cx="183.3" cy="545.1" r="0.9" fill="#aad7a6"/><circle cx="177.2" cy="558.1" r="0.9" fill="#aad7a6"/><circle cx="170.4" cy="568.9" r="0.9" fill="#e0862f"/><circle cx="156.9" cy="591.9" r="0.9" fill="#d94850"/><circle cx="171.1" cy="592.8" r="0.9" fill="#a4cfd6"/><circle cx="174.1" cy="592.0" r="0.9" fill="#d99bca"/><circle cx="179.0" cy="548.1" r="0.9" fill="#a4cfd6"/><circle cx="174.2" cy="592.8" r="0.9" fill="#a4cfd6"/><circle cx="165.4" cy="542.8" r="0.9" fill="#e0862f"/><circle cx="168.4" cy="550.3" r="0.9" fill="#e0862f"/><circle cx="169.0" cy="591.2" r="0.9" fill="#e0862f"/><circle cx="154.4" cy="570.8" r="0.9" fill="#e0862f"/><circle cx="174.7" cy="556.6" r="0.9" fill="#d94850"/><circle cx="173.2" cy="511.7" r="0.9" fill="#e0862f"/><circle cx="179.3" cy="446.7" r="0.9" fill="#efeba6"/><circle cx="169.2" cy="576.5" r="0.9" fill="#e0862f"/><circle cx="158.6" cy="540.1" r="0.9" fill="#e0862f"/><circle cx="172.2" cy="506.9" r="0.9" fill="#aad7a6"/><circle cx="119.3" cy="578.6" r="0.9" fill="#a4cfd6"/><circle cx="162.5" cy="567.6" r="0.9" fill="#e0862f"/><circle cx="188.3" cy="536.9" r="0.9" fill="#aad7a6"/><circle cx="156.5" cy="582.9" r="0.9" fill="#e0862f"/><circle cx="188.8" cy="480.0" r="0.9" fill="#e0862f"/><circle cx="198.0" cy="583.1" r="0.9" fill="#e0862f"/><circle cx="118.1" cy="551.9" r="0.9" fill="#a4cfd6"/><circle cx="158.2" cy="591.2" r="0.9" fill="#e0862f"/><circle cx="122.0" cy="578.6" r="0.9" fill="#a4cfd6"/><circle cx="128.5" cy="591.9" r="0.9" fill="#a4cfd6"/><circle cx="151.1" cy="587.8" r="0.9" fill="#e0862f"/><circle cx="161.2" cy="565.3" r="0.9" fill="#aad7a6"/><circle cx="159.4" cy="546.9" r="0.9" fill="#e0862f"/><circle cx="166.6" cy="583.4" r="0.9" fill="#e0862f"/><circle cx="197.4" cy="564.8" r="0.9" fill="#e0862f"/><circle cx="170.9" cy="568.2" r="0.9" fill="#a4cfd6"/><circle cx="158.3" cy="551.2" r="0.9" fill="#e0862f"/><circle cx="168.3" cy="518.6" r="0.9" fill="#e0862f"/><circle cx="158.3" cy="551.5" r="0.9" fill="#e0862f"/><circle cx="171.1" cy="588.0" r="0.9" fill="#a4cfd6"/><circle cx="172.6" cy="551.9" r="0.9" fill="#aad7a6"/><circle cx="177.9" cy="549.7" r="0.9" fill="#e0862f"/><circle cx="164.0" cy="592.7" r="0.9" fill="#a4cfd6"/><circle cx="158.0" cy="555.0" r="0.9" fill="#e0862f"/><circle cx="161.1" cy="582.2" r="0.9" fill="#e0862f"/><circle cx="173.7" cy="549.8" r="0.9" fill="#e0862f"/><circle cx="171.7" cy="521.9" r="0.9" fill="#e0862f"/><circle cx="159.7" cy="564.9" r="0.9" fill="#e0862f"/><circle cx="170.2" cy="591.4" r="0.9" fill="#a4cfd6"/><circle cx="172.3" cy="570.5" r="0.9" fill="#a4cfd6"/><circle cx="186.2" cy="538.8" r="0.9" fill="#a4cfd6"/><circle cx="111.9" cy="552.8" r="0.9" fill="#efeba6"/><circle cx="170.5" cy="509.0" r="0.9" fill="#a4cfd6"/><circle cx="155.9" cy="580.2" r="0.9" fill="#e0862f"/><circle cx="155.9" cy="546.3" r="0.9" fill="#e0862f"/><circle cx="177.0" cy="528.4" r="0.9" fill="#a4cfd6"/><circle cx="170.4" cy="574.7" r="0.9" fill="#a4cfd6"/><circle cx="170.3" cy="588.3" r="0.9" fill="#aad7a6"/><circle cx="182.1" cy="571.5" r="0.9" fill="#e0862f"/><circle cx="172.6" cy="580.2" r="0.9" fill="#aad7a6"/><circle cx="171.9" cy="539.7" r="0.9" fill="#e0862f"/><circle cx="98.3" cy="545.9" r="0.9" fill="#a4cfd6"/><circle cx="173.2" cy="546.9" r="0.9" fill="#a4cfd6"/><circle cx="182.5" cy="472.5" r="0.9" fill="#a4cfd6"/><circle cx="157.0" cy="565.0" r="0.9" fill="#e0862f"/><circle cx="168.6" cy="524.5" r="0.9" fill="#e0862f"/><circle cx="161.5" cy="551.3" r="0.9" fill="#e0862f"/><circle cx="164.6" cy="549.2" r="0.9" fill="#e0862f"/><circle cx="175.1" cy="542.5" r="0.9" fill="#e0862f"/><circle cx="165.0" cy="583.9" r="0.9" fill="#e0862f"/><circle cx="118.6" cy="590.9" r="0.9" fill="#a4cfd6"/><circle cx="177.3" cy="589.3" r="0.9" fill="#aad7a6"/><circle cx="172.5" cy="530.0" r="0.9" fill="#e0862f"/><circle cx="169.7" cy="553.8" r="0.9" fill="#e0862f"/><circle cx="177.1" cy="581.8" r="0.9" fill="#e0862f"/><circle cx="177.8" cy="518.4" r="0.9" fill="#e0862f"/><circle cx="165.2" cy="527.5" r="0.9" fill="#e0862f"/><circle cx="181.9" cy="564.4" r="0.9" fill="#aad7a6"/><circle cx="160.9" cy="577.6" r="0.9" fill="#e0862f"/><circle cx="165.7" cy="591.7" r="0.9" fill="#e0862f"/><circle cx="176.7" cy="591.7" r="0.9" fill="#a4cfd6"/><circle cx="126.8" cy="558.7" r="0.9" fill="#a4cfd6"/><circle cx="171.3" cy="584.4" r="0.9" fill="#e0862f"/><circle cx="171.1" cy="588.7" r="0.9" fill="#aad7a6"/><circle cx="165.1" cy="547.6" r="0.9" fill="#e0862f"/><circle cx="169.5" cy="592.1" r="0.9" fill="#aad7a6"/><circle cx="156.7" cy="575.3" r="0.9" fill="#e0862f"/><circle cx="101.0" cy="562.9" r="0.9" fill="#a4cfd6"/><circle cx="168.4" cy="583.0" r="0.9" fill="#e0862f"/><circle cx="174.0" cy="534.8" r="0.9" fill="#e0862f"/><circle cx="113.4" cy="571.1" r="0.9" fill="#d94850"/><circle cx="169.6" cy="536.2" r="0.9" fill="#e0862f"/><circle cx="166.0" cy="577.4" r="0.9" fill="#e0862f"/><circle cx="173.8" cy="583.3" r="0.9" fill="#aad7a6"/><circle cx="176.5" cy="549.1" r="0.9" fill="#e0862f"/><circle cx="176.0" cy="537.9" r="0.9" fill="#a4cfd6"/><circle cx="175.5" cy="584.5" r="0.9" fill="#d99bca"/><circle cx="179.1" cy="567.8" r="0.9" fill="#efeba6"/><circle cx="113.9" cy="567.6" r="0.9" fill="#a4cfd6"/><circle cx="174.7" cy="554.1" r="0.9" fill="#e0862f"/><circle cx="168.9" cy="570.2" r="0.9" fill="#a4cfd6"/><circle cx="152.8" cy="587.6" r="0.9" fill="#e0862f"/><circle cx="128.6" cy="588.7" r="0.9" fill="#a4cfd6"/><circle cx="164.0" cy="592.7" r="0.9" fill="#a4cfd6"/><circle cx="128.0" cy="591.7" r="0.9" fill="#a4cfd6"/><circle cx="112.3" cy="536.9" r="0.9" fill="#aad7a6"/><circle cx="187.6" cy="546.9" r="0.9" fill="#aad7a6"/><circle cx="173.3" cy="585.0" r="0.9" fill="#a4cfd6"/><circle cx="174.3" cy="437.4" r="0.9" fill="#aad7a6"/><circle cx="161.0" cy="590.9" r="0.9" fill="#e0862f"/><circle cx="167.7" cy="522.4" r="0.9" fill="#e0862f"/><circle cx="154.5" cy="558.6" r="0.9" fill="#a4cfd6"/><circle cx="178.4" cy="549.4" r="0.9" fill="#e0862f"/><circle cx="171.2" cy="508.5" r="0.9" fill="#e0862f"/><circle cx="178.0" cy="519.3" r="0.9" fill="#e0862f"/><circle cx="170.5" cy="524.4" r="0.9" fill="#e0862f"/><circle cx="175.6" cy="587.9" r="0.9" fill="#aad7a6"/><circle cx="170.0" cy="546.4" r="0.9" fill="#aad7a6"/><circle cx="167.8" cy="550.3" r="0.9" fill="#e0862f"/><circle cx="118.2" cy="584.2" r="0.9" fill="#a4cfd6"/><circle cx="174.1" cy="566.9" r="0.9" fill="#e0862f"/><circle cx="119.1" cy="572.9" r="0.9" fill="#a4cfd6"/><circle cx="160.2" cy="559.0" r="0.9" fill="#e0862f"/><circle cx="177.9" cy="588.5" r="0.9" fill="#aad7a6"/><circle cx="180.4" cy="578.3" r="0.9" fill="#a4cfd6"/><circle cx="197.5" cy="453.8" r="0.9" fill="#e0862f"/><circle cx="164.9" cy="592.7" r="0.9" fill="#aad7a6"/><circle cx="185.9" cy="533.1" r="0.9" fill="#aad7a6"/><circle cx="156.6" cy="552.9" r="0.9" fill="#d94850"/><circle cx="155.8" cy="546.3" r="0.9" fill="#e0862f"/><circle cx="158.6" cy="546.1" r="0.9" fill="#e0862f"/><circle cx="173.1" cy="565.7" r="0.9" fill="#e0862f"/><circle cx="153.5" cy="576.7" r="0.9" fill="#e0862f"/><circle cx="170.2" cy="565.5" r="0.9" fill="#a4cfd6"/><circle cx="180.3" cy="518.5" r="0.9" fill="#d94850"/><circle cx="124.0" cy="590.3" r="0.9" fill="#a4cfd6"/><circle cx="118.6" cy="579.3" r="0.9" fill="#a4cfd6"/><circle cx="177.0" cy="585.4" r="0.9" fill="#aad7a6"/><circle cx="186.1" cy="552.9" r="0.9" fill="#a4cfd6"/><circle cx="157.9" cy="561.4" r="0.9" fill="#e0862f"/><circle cx="184.6" cy="587.2" r="0.9" fill="#bdb2dc"/><circle cx="161.5" cy="560.9" r="0.9" fill="#e0862f"/><circle cx="161.5" cy="590.1" r="0.9" fill="#e0862f"/><circle cx="127.8" cy="591.5" r="0.9" fill="#aad7a6"/><circle cx="95.0" cy="467.5" r="0.9" fill="#e0862f"/><circle cx="176.4" cy="511.6" r="0.9" fill="#e0862f"/><circle cx="130.1" cy="560.6" r="0.9" fill="#a4cfd6"/><circle cx="173.2" cy="589.8" r="0.9" fill="#efeba6"/><circle cx="164.0" cy="550.7" r="0.9" fill="#e0862f"/><circle cx="186.1" cy="556.2" r="0.9" fill="#a4cfd6"/><circle cx="173.1" cy="560.2" r="0.9" fill="#aad7a6"/><circle cx="154.2" cy="580.6" r="0.9" fill="#efeba6"/><circle cx="170.2" cy="584.8" r="0.9" fill="#aad7a6"/><circle cx="173.9" cy="513.1" r="0.9" fill="#e0862f"/><circle cx="173.7" cy="592.6" r="0.9" fill="#aad7a6"/><circle cx="172.1" cy="513.6" r="0.9" fill="#e0862f"/><circle cx="112.1" cy="590.1" r="0.9" fill="#a4cfd6"/><circle cx="169.9" cy="515.3" r="0.9" fill="#e0862f"/><circle cx="189.9" cy="525.5" r="0.9" fill="#e0862f"/><circle cx="168.2" cy="587.5" r="0.9" fill="#a4cfd6"/><circle cx="172.9" cy="577.5" r="0.9" fill="#e0862f"/><circle cx="169.5" cy="580.7" r="0.9" fill="#aad7a6"/><circle cx="161.8" cy="591.7" r="0.9" fill="#aad7a6"/><circle cx="175.3" cy="539.1" r="0.9" fill="#a4cfd6"/><circle cx="200.0" cy="431.0" r="0.9" fill="#d94850"/><circle cx="126.7" cy="583.9" r="0.9" fill="#a4cfd6"/><circle cx="160.3" cy="531.5" r="0.9" fill="#e0862f"/><circle cx="170.0" cy="460.0" r="0.9" fill="#a4cfd6"/><circle cx="168.9" cy="592.8" r="0.9" fill="#aad7a6"/><circle cx="166.9" cy="551.4" r="0.9" fill="#e0862f"/><circle cx="177.2" cy="548.9" r="0.9" fill="#aad7a6"/><circle cx="135.2" cy="591.2" r="0.9" fill="#a4cfd6"/><circle cx="152.8" cy="570.5" r="0.9" fill="#e0862f"/><circle cx="166.2" cy="524.8" r="0.9" fill="#e0862f"/><circle cx="174.0" cy="592.0" r="0.9" fill="#a4cfd6"/><circle cx="120.3" cy="582.4" r="0.9" fill="#a4cfd6"/><circle cx="177.5" cy="493.8" r="0.9" fill="#e0862f"/><circle cx="166.9" cy="560.2" r="0.9" fill="#e0862f"/><circle cx="165.4" cy="548.7" r="0.9" fill="#e0862f"/><circle cx="177.0" cy="535.8" r="0.9" fill="#e0862f"/><circle cx="168.0" cy="588.4" r="0.9" fill="#e0862f"/><circle cx="117.6" cy="563.8" r="0.9" fill="#a4cfd6"/><circle cx="176.8" cy="592.3" r="0.9" fill="#d94850"/><circle cx="124.1" cy="581.7" r="0.9" fill="#a4cfd6"/><circle cx="155.7" cy="585.0" r="0.9" fill="#e0862f"/><circle cx="167.8" cy="582.8" r="0.9" fill="#e0862f"/><circle cx="181.1" cy="524.4" r="0.9" fill="#d94850"/><circle cx="208.0" cy="558.7" r="0.9" fill="#e0862f"/><circle cx="188.0" cy="544.6" r="0.9" fill="#efeba6"/><circle cx="165.7" cy="592.8" r="0.9" fill="#a4cfd6"/><circle cx="175.1" cy="507.1" r="0.9" fill="#e0862f"/><circle cx="165.5" cy="521.4" r="0.9" fill="#e0862f"/><circle cx="165.9" cy="552.7" r="0.9" fill="#e0862f"/><circle cx="213.0" cy="494.0" r="0.9" fill="#d94850"/><circle cx="166.7" cy="588.1" r="0.9" fill="#aad7a6"/><circle cx="189.3" cy="585.3" r="0.9" fill="#aad7a6"/><circle cx="170.4" cy="512.0" r="0.9" fill="#e0862f"/><circle cx="179.4" cy="582.9" r="0.9" fill="#aad7a6"/><circle cx="194.0" cy="470.0" r="0.9" fill="#e0862f"/><circle cx="206.7" cy="549.5" r="0.9" fill="#d94850"/><circle cx="181.5" cy="591.3" r="0.9" fill="#d99bca"/><circle cx="166.3" cy="592.3" r="0.9" fill="#aad7a6"/><circle cx="171.4" cy="567.1" r="0.9" fill="#e0862f"/><circle cx="173.8" cy="500.0" r="0.9" fill="#a4cfd6"/><circle cx="172.6" cy="540.5" r="0.9" fill="#efeba6"/><circle cx="177.3" cy="541.9" r="0.9" fill="#e0862f"/><circle cx="166.2" cy="521.2" r="0.9" fill="#e0862f"/><circle cx="175.8" cy="508.4" r="0.9" fill="#e0862f"/><circle cx="179.5" cy="575.0" r="0.9" fill="#aad7a6"/><circle cx="181.1" cy="574.0" r="0.9" fill="#aad7a6"/><circle cx="160.6" cy="569.3" r="0.9" fill="#e0862f"/><circle cx="178.0" cy="550.1" r="0.9" fill="#aad7a6"/><circle cx="169.0" cy="525.5" r="0.9" fill="#e0862f"/><circle cx="175.1" cy="593.0" r="0.9" fill="#aad7a6"/><circle cx="170.9" cy="521.6" r="0.9" fill="#e0862f"/><circle cx="135.4" cy="580.6" r="0.9" fill="#a4cfd6"/><circle cx="169.3" cy="587.5" r="0.9" fill="#d94850"/><circle cx="120.4" cy="556.2" r="0.9" fill="#a4cfd6"/><circle cx="106.8" cy="535.7" r="0.9" fill="#a4cfd6"/><circle cx="157.3" cy="564.9" r="0.9" fill="#e0862f"/><circle cx="157.8" cy="591.4" r="0.9" fill="#e0862f"/><circle cx="174.2" cy="506.1" r="0.9" fill="#e0862f"/><circle cx="171.9" cy="537.7" r="0.9" fill="#efeba6"/><circle cx="170.0" cy="520.1" r="0.9" fill="#e0862f"/><circle cx="161.4" cy="540.9" r="0.9" fill="#e0862f"/><circle cx="125.9" cy="571.2" r="0.9" fill="#a4cfd6"/><circle cx="168.9" cy="534.3" r="0.9" fill="#e0862f"/><circle cx="173.2" cy="553.7" r="0.9" fill="#e0862f"/><circle cx="119.2" cy="558.9" r="0.9" fill="#a4cfd6"/><circle cx="183.0" cy="560.9" r="0.9" fill="#d94850"/><circle cx="184.5" cy="537.4" r="0.9" fill="#a4cfd6"/><circle cx="179.2" cy="533.4" r="0.9" fill="#e0862f"/><circle cx="162.4" cy="592.2" r="0.9" fill="#efeba6"/><circle cx="183.8" cy="547.8" r="0.9" fill="#efeba6"/><circle cx="165.8" cy="580.1" r="0.9" fill="#a4cfd6"/><circle cx="169.5" cy="584.6" r="0.9" fill="#e0862f"/><circle cx="175.0" cy="588.0" r="0.9" fill="#aad7a6"/><circle cx="173.9" cy="571.2" r="0.9" fill="#a4cfd6"/><circle cx="232.3" cy="360.2" r="0.9" fill="#aad7a6"/><circle cx="162.4" cy="559.7" r="0.9" fill="#e0862f"/><circle cx="168.8" cy="541.7" r="0.9" fill="#e0862f"/><circle cx="193.5" cy="421.8" r="0.9" fill="#a4cfd6"/><circle cx="171.2" cy="585.4" r="0.9" fill="#e0862f"/><circle cx="155.6" cy="561.4" r="0.9" fill="#e0862f"/><circle cx="173.2" cy="580.0" r="0.9" fill="#a4cfd6"/><circle cx="172.5" cy="562.5" r="0.9" fill="#e0862f"/><circle cx="167.9" cy="548.5" r="0.9" fill="#e0862f"/><circle cx="159.8" cy="566.9" r="0.9" fill="#e0862f"/><circle cx="176.5" cy="535.2" r="0.9" fill="#d94850"/><circle cx="176.8" cy="593.0" r="0.9" fill="#d94850"/><circle cx="166.7" cy="521.5" r="0.9" fill="#e0862f"/><circle cx="155.0" cy="561.0" r="0.9" fill="#efeba6"/><circle cx="169.7" cy="579.2" r="0.9" fill="#a4cfd6"/><circle cx="186.4" cy="555.3" r="0.9" fill="#aad7a6"/><circle cx="152.5" cy="581.7" r="0.9" fill="#e0862f"/><circle cx="173.5" cy="563.7" r="0.9" fill="#d94850"/><circle cx="195.0" cy="515.0" r="0.9" fill="#d94850"/><circle cx="159.2" cy="589.4" r="0.9" fill="#d94850"/><circle cx="187.4" cy="540.0" r="0.9" fill="#d94850"/><circle cx="174.5" cy="571.8" r="0.9" fill="#e0862f"/><circle cx="178.6" cy="535.1" r="0.9" fill="#e0862f"/><circle cx="173.3" cy="569.6" r="0.9" fill="#a4cfd6"/><circle cx="166.4" cy="521.5" r="0.9" fill="#e0862f"/><circle cx="169.7" cy="513.2" r="0.9" fill="#e0862f"/><circle cx="165.2" cy="546.4" r="0.9" fill="#e0862f"/><circle cx="182.0" cy="548.3" r="0.9" fill="#d99bca"/><circle cx="207.7" cy="544.0" r="0.9" fill="#d94850"/><circle cx="169.7" cy="548.8" r="0.9" fill="#a4cfd6"/><circle cx="171.2" cy="592.9" r="0.9" fill="#efeba6"/><circle cx="162.7" cy="583.7" r="0.9" fill="#e0862f"/><circle cx="171.3" cy="577.5" r="0.9" fill="#aad7a6"/><circle cx="172.5" cy="507.4" r="0.9" fill="#e0862f"/><circle cx="158.1" cy="579.7" r="0.9" fill="#e0862f"/><circle cx="168.1" cy="581.1" r="0.9" fill="#aad7a6"/><circle cx="158.5" cy="586.6" r="0.9" fill="#e0862f"/><circle cx="191.0" cy="486.0" r="0.9" fill="#d94850"/><circle cx="185.2" cy="584.2" r="0.9" fill="#aad7a6"/><circle cx="168.1" cy="590.2" r="0.9" fill="#d99bca"/><circle cx="125.5" cy="579.0" r="0.9" fill="#efeba6"/><circle cx="165.8" cy="525.3" r="0.9" fill="#e0862f"/><circle cx="177.7" cy="554.1" r="0.9" fill="#d94850"/><circle cx="121.1" cy="590.6" r="0.9" fill="#a4cfd6"/><circle cx="188.1" cy="513.5" r="0.9" fill="#a4cfd6"/><circle cx="175.4" cy="544.1" r="0.9" fill="#e0862f"/><circle cx="173.9" cy="544.8" r="0.9" fill="#e0862f"/><circle cx="167.3" cy="579.6" r="0.9" fill="#a4cfd6"/><circle cx="164.6" cy="578.0" r="0.9" fill="#e0862f"/><circle cx="160.3" cy="591.5" r="0.9" fill="#d94850"/><circle cx="156.4" cy="545.1" r="0.9" fill="#e0862f"/><circle cx="175.3" cy="566.3" r="0.9" fill="#e0862f"/><circle cx="173.6" cy="592.4" r="0.9" fill="#aad7a6"/><circle cx="189.0" cy="466.0" r="0.9" fill="#a4cfd6"/><circle cx="152.3" cy="574.1" r="0.9" fill="#e0862f"/><circle cx="196.0" cy="526.0" r="0.9" fill="#d94850"/><circle cx="182.6" cy="535.4" r="0.9" fill="#aad7a6"/><circle cx="170.3" cy="572.0" r="0.9" fill="#a4cfd6"/><circle cx="158.4" cy="549.0" r="0.9" fill="#e0862f"/><circle cx="172.1" cy="560.5" r="0.9" fill="#a4cfd6"/><circle cx="130.0" cy="590.9" r="0.9" fill="#a4cfd6"/><circle cx="160.4" cy="548.1" r="0.9" fill="#e0862f"/><circle cx="174.3" cy="534.7" r="0.9" fill="#e0862f"/><circle cx="174.9" cy="580.8" r="0.9" fill="#aad7a6"/><circle cx="173.5" cy="564.7" r="0.9" fill="#aad7a6"/><circle cx="154.9" cy="591.0" r="0.9" fill="#e0862f"/><circle cx="161.8" cy="565.3" r="0.9" fill="#e0862f"/><circle cx="172.9" cy="590.8" r="0.9" fill="#a4cfd6"/><circle cx="176.2" cy="508.7" r="0.9" fill="#e0862f"/><circle cx="128.3" cy="548.0" r="0.9" fill="#a4cfd6"/><circle cx="124.6" cy="577.8" r="0.9" fill="#a4cfd6"/><circle cx="159.2" cy="588.9" r="0.9" fill="#e0862f"/><circle cx="160.0" cy="542.3" r="0.9" fill="#e0862f"/><circle cx="168.6" cy="560.3" r="0.9" fill="#e0862f"/><circle cx="180.6" cy="571.4" r="0.9" fill="#a4cfd6"/><circle cx="158.2" cy="581.7" r="0.9" fill="#e0862f"/><circle cx="181.6" cy="570.6" r="0.9" fill="#e0862f"/><circle cx="135.4" cy="564.5" r="0.9" fill="#a4cfd6"/><circle cx="166.0" cy="545.9" r="0.9" fill="#e0862f"/><circle cx="104.0" cy="462.0" r="0.9" fill="#d94850"/><circle cx="177.8" cy="581.0" r="0.9" fill="#d99bca"/><circle cx="150.6" cy="587.0" r="0.9" fill="#d94850"/><circle cx="158.3" cy="542.5" r="0.9" fill="#e0862f"/><circle cx="172.8" cy="511.3" r="0.9" fill="#e0862f"/><circle cx="176.7" cy="509.9" r="0.9" fill="#e0862f"/><circle cx="136.9" cy="591.8" r="0.9" fill="#aad7a6"/><circle cx="163.6" cy="557.9" r="0.9" fill="#e0862f"/><circle cx="193.8" cy="451.0" r="0.9" fill="#efeba6"/><circle cx="160.2" cy="541.1" r="0.9" fill="#e0862f"/><circle cx="153.9" cy="590.0" r="0.9" fill="#e0862f"/><circle cx="166.5" cy="591.3" r="0.9" fill="#e0862f"/><circle cx="180.0" cy="485.0" r="0.9" fill="#e0862f"/><circle cx="158.1" cy="541.6" r="0.9" fill="#e0862f"/><circle cx="174.0" cy="486.0" r="0.9" fill="#efeba6"/><circle cx="158.9" cy="577.5" r="0.9" fill="#e0862f"/><circle cx="174.5" cy="508.0" r="0.9" fill="#e0862f"/><circle cx="177.4" cy="533.6" r="0.9" fill="#e0862f"/><circle cx="176.1" cy="519.2" r="0.9" fill="#e0862f"/><circle cx="165.1" cy="554.5" r="0.9" fill="#e0862f"/><circle cx="170.3" cy="575.1" r="0.9" fill="#e0862f"/><circle cx="168.5" cy="549.4" r="0.9" fill="#e0862f"/><circle cx="198.7" cy="428.6" r="0.9" fill="#efeba6"/><circle cx="191.6" cy="585.1" r="0.9" fill="#bdb2dc"/><circle cx="210.0" cy="483.8" r="0.9" fill="#d94850"/><circle cx="170.6" cy="575.3" r="0.9" fill="#aad7a6"/><circle cx="174.2" cy="531.7" r="0.9" fill="#e0862f"/><circle cx="160.5" cy="584.5" r="0.9" fill="#d94850"/><circle cx="181.7" cy="584.4" r="0.9" fill="#bdb2dc"/><circle cx="157.7" cy="559.9" r="0.9" fill="#e0862f"/><circle cx="166.0" cy="592.6" r="0.9" fill="#efeba6"/><circle cx="172.4" cy="525.8" r="0.9" fill="#e0862f"/><circle cx="180.2" cy="547.2" r="0.9" fill="#e0862f"/><circle cx="161.2" cy="529.6" r="0.9" fill="#e0862f"/><circle cx="189.1" cy="591.0" r="0.9" fill="#bdb2dc"/><circle cx="168.1" cy="583.5" r="0.9" fill="#aad7a6"/><circle cx="169.7" cy="577.1" r="0.9" fill="#d94850"/><circle cx="176.3" cy="550.8" r="0.9" fill="#a4cfd6"/><circle cx="174.8" cy="581.0" r="0.9" fill="#aad7a6"/><circle cx="176.0" cy="411.3" r="0.9" fill="#efeba6"/><circle cx="121.0" cy="573.4" r="0.9" fill="#aad7a6"/><circle cx="130.6" cy="589.1" r="0.9" fill="#a4cfd6"/><circle cx="176.4" cy="530.6" r="0.9" fill="#e0862f"/><circle cx="114.9" cy="585.2" r="0.9" fill="#a4cfd6"/><circle cx="174.0" cy="555.3" r="0.9" fill="#e0862f"/><circle cx="173.1" cy="567.8" r="0.9" fill="#aad7a6"/><circle cx="108.0" cy="502.4" r="0.9" fill="#d94850"/><circle cx="160.2" cy="580.0" r="0.9" fill="#e0862f"/><circle cx="177.2" cy="530.8" r="0.9" fill="#e0862f"/><circle cx="160.4" cy="579.5" r="0.9" fill="#e0862f"/><circle cx="113.9" cy="577.2" r="0.9" fill="#a4cfd6"/><circle cx="171.2" cy="520.5" r="0.9" fill="#e0862f"/><circle cx="161.9" cy="592.0" r="0.9" fill="#aad7a6"/><circle cx="174.8" cy="575.3" r="0.9" fill="#a4cfd6"/><circle cx="184.0" cy="497.0" r="0.9" fill="#e0862f"/><circle cx="130.5" cy="581.4" r="0.9" fill="#aad7a6"/><circle cx="200.0" cy="490.0" r="0.9" fill="#e0862f"/><circle cx="173.0" cy="510.0" r="0.9" fill="#e0862f"/><circle cx="120.8" cy="579.2" r="0.9" fill="#a4cfd6"/><circle cx="166.2" cy="582.7" r="0.9" fill="#aad7a6"/><circle cx="173.3" cy="519.0" r="0.9" fill="#e0862f"/><circle cx="176.4" cy="585.6" r="0.9" fill="#efeba6"/><circle cx="166.2" cy="531.7" r="0.9" fill="#e0862f"/><circle cx="168.5" cy="581.1" r="0.9" fill="#aad7a6"/><circle cx="178.0" cy="546.3" r="0.9" fill="#e0862f"/><circle cx="170.0" cy="521.6" r="0.9" fill="#e0862f"/><circle cx="118.4" cy="583.5" r="0.9" fill="#a4cfd6"/><circle cx="155.2" cy="574.5" r="0.9" fill="#e0862f"/><circle cx="161.4" cy="585.9" r="0.9" fill="#e0862f"/><circle cx="173.1" cy="555.0" r="0.9" fill="#aad7a6"/><circle cx="179.2" cy="558.1" r="0.9" fill="#aad7a6"/><circle cx="177.7" cy="519.0" r="0.9" fill="#e0862f"/><circle cx="165.2" cy="587.2" r="0.9" fill="#aad7a6"/><circle cx="164.8" cy="579.2" r="0.9" fill="#e0862f"/><circle cx="176.4" cy="554.2" r="0.9" fill="#e0862f"/><circle cx="169.2" cy="589.7" r="0.9" fill="#e0862f"/><circle cx="124.1" cy="579.9" r="0.9" fill="#a4cfd6"/><circle cx="172.1" cy="586.7" r="0.9" fill="#a4cfd6"/><circle cx="179.4" cy="541.8" r="0.9" fill="#a4cfd6"/><circle cx="123.6" cy="588.1" r="0.9" fill="#a4cfd6"/><circle cx="174.7" cy="579.1" r="0.9" fill="#d99bca"/><circle cx="178.2" cy="543.9" r="0.9" fill="#e0862f"/><circle cx="192.9" cy="540.4" r="0.9" fill="#e0862f"/><circle cx="122.6" cy="583.2" r="0.9" fill="#a4cfd6"/><circle cx="158.9" cy="586.4" r="0.9" fill="#d94850"/><circle cx="171.2" cy="579.6" r="0.9" fill="#aad7a6"/><circle cx="122.2" cy="568.9" r="0.9" fill="#a4cfd6"/><circle cx="177.0" cy="509.6" r="0.9" fill="#aad7a6"/><circle cx="161.2" cy="592.3" r="0.9" fill="#efeba6"/><circle cx="189.6" cy="521.7" r="0.9" fill="#e0862f"/><circle cx="155.9" cy="548.9" r="0.9" fill="#e0862f"/><circle cx="168.3" cy="554.6" r="0.9" fill="#e0862f"/><circle cx="190.7" cy="522.6" r="0.9" fill="#d94850"/><circle cx="158.0" cy="569.8" r="0.9" fill="#e0862f"/><circle cx="195.0" cy="584.6" r="0.9" fill="#bdb2dc"/><circle cx="175.7" cy="588.0" r="0.9" fill="#aad7a6"/><circle cx="170.2" cy="579.5" r="0.9" fill="#e0862f"/><circle cx="176.9" cy="520.8" r="0.9" fill="#efeba6"/><circle cx="177.4" cy="586.4" r="0.9" fill="#e0862f"/><circle cx="176.0" cy="511.5" r="0.9" fill="#e0862f"/><circle cx="165.9" cy="593.0" r="0.9" fill="#a4cfd6"/><circle cx="155.5" cy="550.3" r="0.9" fill="#e0862f"/><circle cx="123.4" cy="588.4" r="0.9" fill="#a4cfd6"/><circle cx="183.1" cy="561.0" r="0.9" fill="#a4cfd6"/><circle cx="127.4" cy="583.2" r="0.9" fill="#d94850"/><circle cx="161.7" cy="547.7" r="0.9" fill="#e0862f"/><circle cx="172.6" cy="583.8" r="0.9" fill="#aad7a6"/><circle cx="176.6" cy="511.5" r="0.9" fill="#e0862f"/><circle cx="172.3" cy="592.0" r="0.9" fill="#aad7a6"/><circle cx="172.0" cy="582.6" r="0.9" fill="#e0862f"/><circle cx="168.9" cy="544.9" r="0.9" fill="#a4cfd6"/><circle cx="180.3" cy="571.9" r="0.9" fill="#efeba6"/><circle cx="181.6" cy="584.0" r="0.9" fill="#d99bca"/><circle cx="180.9" cy="536.9" r="0.9" fill="#d94850"/><circle cx="185.9" cy="540.5" r="0.9" fill="#d94850"/><circle cx="174.3" cy="591.1" r="0.9" fill="#a4cfd6"/><circle cx="179.0" cy="544.5" r="0.9" fill="#e0862f"/><circle cx="174.9" cy="567.5" r="0.9" fill="#d94850"/><circle cx="126.6" cy="557.9" r="0.9" fill="#aad7a6"/><circle cx="154.2" cy="585.8" r="0.9" fill="#e0862f"/><circle cx="160.9" cy="554.2" r="0.9" fill="#e0862f"/><circle cx="173.7" cy="563.3" r="0.9" fill="#e0862f"/><circle cx="178.4" cy="567.2" r="0.9" fill="#aad7a6"/><circle cx="171.8" cy="558.8" r="0.9" fill="#e0862f"/><circle cx="126.7" cy="591.9" r="0.9" fill="#a4cfd6"/><circle cx="167.4" cy="532.3" r="0.9" fill="#e0862f"/><circle cx="178.5" cy="592.0" r="0.9" fill="#d99bca"/><circle cx="170.9" cy="542.1" r="0.9" fill="#e0862f"/><circle cx="171.0" cy="577.3" r="0.9" fill="#e0862f"/><circle cx="169.9" cy="590.7" r="0.9" fill="#aad7a6"/><circle cx="117.9" cy="573.9" r="0.9" fill="#a4cfd6"/><circle cx="165.5" cy="565.7" r="0.9" fill="#e0862f"/><circle cx="120.3" cy="576.6" r="0.9" fill="#aad7a6"/><circle cx="170.7" cy="542.6" r="0.9" fill="#a4cfd6"/><circle cx="171.8" cy="562.6" r="0.9" fill="#e0862f"/><circle cx="177.9" cy="577.7" r="0.9" fill="#aad7a6"/><circle cx="176.3" cy="581.4" r="0.9" fill="#d99bca"/><circle cx="170.8" cy="591.7" r="0.9" fill="#aad7a6"/><circle cx="116.4" cy="588.8" r="0.9" fill="#a4cfd6"/><circle cx="179.2" cy="539.5" r="0.9" fill="#e0862f"/><circle cx="193.9" cy="519.0" r="0.9" fill="#e0862f"/><circle cx="170.8" cy="572.0" r="0.9" fill="#e0862f"/><circle cx="166.2" cy="541.3" r="0.9" fill="#e0862f"/><circle cx="167.9" cy="574.5" r="0.9" fill="#e0862f"/><circle cx="156.3" cy="586.3" r="0.9" fill="#e0862f"/><circle cx="166.9" cy="570.3" r="0.9" fill="#aad7a6"/><circle cx="160.5" cy="547.5" r="0.9" fill="#e0862f"/><circle cx="194.4" cy="589.1" r="0.9" fill="#d99bca"/><circle cx="173.3" cy="545.7" r="0.9" fill="#e0862f"/><circle cx="168.7" cy="564.0" r="0.9" fill="#d94850"/><circle cx="164.4" cy="560.4" r="0.9" fill="#e0862f"/><circle cx="166.6" cy="558.4" r="0.9" fill="#e0862f"/><circle cx="160.7" cy="548.2" r="0.9" fill="#e0862f"/><circle cx="173.7" cy="568.5" r="0.9" fill="#aad7a6"/><circle cx="162.4" cy="542.5" r="0.9" fill="#e0862f"/><circle cx="167.6" cy="545.3" r="0.9" fill="#a4cfd6"/><circle cx="164.1" cy="537.4" r="0.9" fill="#e0862f"/><circle cx="116.9" cy="582.7" r="0.9" fill="#a4cfd6"/><circle cx="184.7" cy="544.0" r="0.9" fill="#a4cfd6"/><circle cx="173.2" cy="540.2" r="0.9" fill="#d99bca"/><circle cx="180.9" cy="565.7" r="0.9" fill="#aad7a6"/><circle cx="163.5" cy="586.9" r="0.9" fill="#e0862f"/><circle cx="168.7" cy="586.7" r="0.9" fill="#efeba6"/><circle cx="175.2" cy="580.1" r="0.9" fill="#a4cfd6"/><circle cx="171.7" cy="576.1" r="0.9" fill="#aad7a6"/><circle cx="172.0" cy="583.1" r="0.9" fill="#e0862f"/><circle cx="116.9" cy="578.2" r="0.9" fill="#a4cfd6"/><circle cx="117.4" cy="584.5" r="0.9" fill="#a4cfd6"/><circle cx="123.5" cy="574.6" r="0.9" fill="#a4cfd6"/><circle cx="153.8" cy="579.2" r="0.9" fill="#e0862f"/><circle cx="166.0" cy="559.4" r="0.9" fill="#e0862f"/><circle cx="171.8" cy="592.8" r="0.9" fill="#a4cfd6"/><circle cx="156.3" cy="577.1" r="0.9" fill="#e0862f"/><circle cx="182.1" cy="570.3" r="0.9" fill="#a4cfd6"/><circle cx="171.6" cy="516.8" r="0.9" fill="#e0862f"/><circle cx="123.5" cy="579.1" r="0.9" fill="#a4cfd6"/><circle cx="178.5" cy="551.6" r="0.9" fill="#aad7a6"/><circle cx="168.5" cy="520.8" r="0.9" fill="#e0862f"/><circle cx="129.2" cy="583.8" r="0.9" fill="#a4cfd6"/><circle cx="155.1" cy="558.4" r="0.9" fill="#e0862f"/><circle cx="113.8" cy="566.4" r="0.9" fill="#a4cfd6"/><circle cx="170.7" cy="567.4" r="0.9" fill="#efeba6"/><circle cx="154.1" cy="558.5" r="0.9" fill="#e0862f"/><circle cx="160.2" cy="562.6" r="0.9" fill="#e0862f"/><circle cx="152.3" cy="586.9" r="0.9" fill="#e0862f"/><circle cx="179.3" cy="570.4" r="0.9" fill="#aad7a6"/><circle cx="175.4" cy="559.1" r="0.9" fill="#e0862f"/><circle cx="163.7" cy="591.2" r="0.9" fill="#e0862f"/><circle cx="176.9" cy="535.8" r="0.9" fill="#e0862f"/><circle cx="197.1" cy="565.0" r="0.9" fill="#e0862f"/><circle cx="128.3" cy="573.3" r="0.9" fill="#a4cfd6"/><circle cx="178.5" cy="541.0" r="0.9" fill="#e0862f"/><circle cx="171.7" cy="510.6" r="0.9" fill="#e0862f"/><circle cx="173.1" cy="574.5" r="0.9" fill="#e0862f"/><circle cx="158.2" cy="582.7" r="0.9" fill="#e0862f"/><circle cx="183.1" cy="587.3" r="0.9" fill="#d99bca"/><circle cx="165.7" cy="568.8" r="0.9" fill="#e0862f"/><circle cx="156.8" cy="589.9" r="0.9" fill="#e0862f"/><circle cx="158.1" cy="553.3" r="0.9" fill="#e0862f"/><circle cx="161.8" cy="591.7" r="0.9" fill="#a4cfd6"/><circle cx="168.5" cy="565.8" r="0.9" fill="#e0862f"/><circle cx="129.3" cy="581.5" r="0.9" fill="#a4cfd6"/><circle cx="200.5" cy="579.4" r="0.9" fill="#e0862f"/><circle cx="170.4" cy="575.3" r="0.9" fill="#d94850"/><circle cx="167.3" cy="533.3" r="0.9" fill="#a4cfd6"/><circle cx="154.0" cy="565.4" r="0.9" fill="#e0862f"/><circle cx="167.7" cy="551.4" r="0.9" fill="#e0862f"/><circle cx="160.4" cy="532.7" r="0.9" fill="#e0862f"/><circle cx="167.6" cy="588.5" r="0.9" fill="#aad7a6"/><circle cx="203.0" cy="498.0" r="0.9" fill="#d94850"/><circle cx="160.7" cy="574.5" r="0.9" fill="#e0862f"/><circle cx="169.0" cy="514.7" r="0.9" fill="#e0862f"/><circle cx="126.7" cy="507.5" r="0.9" fill="#a4cfd6"/><circle cx="172.5" cy="521.3" r="0.9" fill="#e0862f"/><circle cx="153.9" cy="568.1" r="0.9" fill="#e0862f"/><circle cx="177.6" cy="570.9" r="0.9" fill="#d99bca"/><circle cx="173.8" cy="511.5" r="0.9" fill="#e0862f"/><circle cx="124.9" cy="582.7" r="0.9" fill="#a4cfd6"/><circle cx="168.2" cy="560.9" r="0.9" fill="#e0862f"/><circle cx="180.7" cy="573.0" r="0.9" fill="#e0862f"/><circle cx="168.3" cy="584.1" r="0.9" fill="#e0862f"/><circle cx="154.6" cy="574.1" r="0.9" fill="#e0862f"/><circle cx="165.0" cy="529.6" r="0.9" fill="#e0862f"/><circle cx="170.9" cy="580.5" r="0.9" fill="#a4cfd6"/><circle cx="163.2" cy="583.6" r="0.9" fill="#a4cfd6"/><circle cx="160.8" cy="547.4" r="0.9" fill="#e0862f"/><circle cx="168.3" cy="528.6" r="0.9" fill="#a4cfd6"/><circle cx="158.5" cy="556.4" r="0.9" fill="#e0862f"/><circle cx="173.6" cy="539.9" r="0.9" fill="#e0862f"/><circle cx="191.0" cy="530.0" r="0.9" fill="#e0862f"/><circle cx="171.4" cy="528.7" r="0.9" fill="#e0862f"/><circle cx="136.0" cy="589.4" r="0.9" fill="#a4cfd6"/><circle cx="170.1" cy="529.9" r="0.9" fill="#d94850"/><circle cx="170.2" cy="588.9" r="0.9" fill="#a4cfd6"/><circle cx="165.3" cy="525.5" r="0.9" fill="#e0862f"/><circle cx="172.2" cy="560.1" r="0.9" fill="#e0862f"/><circle cx="171.4" cy="574.0" r="0.9" fill="#e0862f"/><circle cx="180.0" cy="574.7" r="0.9" fill="#d99bca"/><circle cx="171.4" cy="582.3" r="0.9" fill="#e0862f"/><circle cx="167.1" cy="537.6" r="0.9" fill="#e0862f"/><circle cx="170.8" cy="565.2" r="0.9" fill="#d94850"/><circle cx="175.2" cy="565.3" r="0.9" fill="#e0862f"/><circle cx="175.2" cy="518.4" r="0.9" fill="#e0862f"/><circle cx="173.3" cy="557.8" r="0.9" fill="#aad7a6"/><circle cx="168.3" cy="593.0" r="0.9" fill="#aad7a6"/><circle cx="170.3" cy="512.1" r="0.9" fill="#e0862f"/><circle cx="164.3" cy="534.0" r="0.9" fill="#e0862f"/><circle cx="172.3" cy="574.1" r="0.9" fill="#e0862f"/><circle cx="163.8" cy="524.6" r="0.9" fill="#e0862f"/><circle cx="175.6" cy="526.8" r="0.9" fill="#e0862f"/><circle cx="162.8" cy="563.2" r="0.9" fill="#e0862f"/><circle cx="165.4" cy="577.4" r="0.9" fill="#a4cfd6"/><circle cx="167.5" cy="525.4" r="0.9" fill="#e0862f"/><circle cx="174.5" cy="592.9" r="0.9" fill="#aad7a6"/><circle cx="171.8" cy="513.5" r="0.9" fill="#aad7a6"/><circle cx="115.6" cy="588.7" r="0.9" fill="#a4cfd6"/><circle cx="180.0" cy="562.5" r="0.9" fill="#aad7a6"/><circle cx="171.7" cy="513.0" r="0.9" fill="#e0862f"/><circle cx="176.0" cy="470.0" r="0.9" fill="#aad7a6"/><circle cx="205.0" cy="520.0" r="0.9" fill="#d94850"/><circle cx="161.5" cy="592.2" r="0.9" fill="#aad7a6"/><circle cx="177.5" cy="550.8" r="0.9" fill="#e0862f"/><circle cx="174.6" cy="540.7" r="0.9" fill="#a4cfd6"/><circle cx="162.9" cy="560.1" r="0.9" fill="#e0862f"/><circle cx="167.4" cy="587.5" r="0.9" fill="#aad7a6"/><circle cx="182.2" cy="443.3" r="0.9" fill="#aad7a6"/><circle cx="173.2" cy="523.4" r="0.9" fill="#e0862f"/><circle cx="174.8" cy="567.4" r="0.9" fill="#a4cfd6"/><circle cx="168.2" cy="562.6" r="0.9" fill="#aad7a6"/><circle cx="177.1" cy="551.0" r="0.9" fill="#e0862f"/><circle cx="124.3" cy="540.9" r="0.9" fill="#a4cfd6"/><circle cx="152.1" cy="589.4" r="0.9" fill="#e0862f"/><circle cx="173.7" cy="556.8" r="0.9" fill="#a4cfd6"/><circle cx="171.5" cy="539.2" r="0.9" fill="#a4cfd6"/><circle cx="161.2" cy="584.7" r="0.9" fill="#d94850"/><circle cx="185.4" cy="533.7" r="0.9" fill="#e0862f"/><circle cx="183.7" cy="555.7" r="0.9" fill="#a4cfd6"/><circle cx="186.0" cy="491.0" r="0.9" fill="#e0862f"/><circle cx="165.7" cy="587.4" r="0.9" fill="#d94850"/><circle cx="157.4" cy="564.3" r="0.9" fill="#e0862f"/><circle cx="176.6" cy="519.8" r="0.9" fill="#e0862f"/><circle cx="115.0" cy="585.8" r="0.9" fill="#a4cfd6"/><circle cx="166.9" cy="574.3" r="0.9" fill="#aad7a6"/><circle cx="91.4" cy="561.5" r="0.9" fill="#a4cfd6"/><circle cx="180.8" cy="561.9" r="0.9" fill="#a4cfd6"/><circle cx="195.6" cy="513.8" r="0.9" fill="#d94850"/><circle cx="178.8" cy="545.9" r="0.9" fill="#a4cfd6"/><circle cx="173.2" cy="564.0" r="0.9" fill="#aad7a6"/><circle cx="169.4" cy="582.3" r="0.9" fill="#e0862f"/><circle cx="165.2" cy="591.4" r="0.9" fill="#e0862f"/><circle cx="124.1" cy="587.8" r="0.9" fill="#a4cfd6"/><circle cx="192.9" cy="586.9" r="0.9" fill="#aad7a6"/><circle cx="172.6" cy="541.0" r="0.9" fill="#aad7a6"/><circle cx="171.6" cy="586.4" r="0.9" fill="#a4cfd6"/><circle cx="121.4" cy="580.1" r="0.9" fill="#a4cfd6"/><circle cx="122.4" cy="591.9" r="0.9" fill="#a4cfd6"/><circle cx="165.3" cy="537.3" r="0.9" fill="#efeba6"/><circle cx="175.7" cy="534.5" r="0.9" fill="#e0862f"/><circle cx="109.0" cy="523.0" r="0.9" fill="#d94850"/><circle cx="188.1" cy="533.1" r="0.9" fill="#e0862f"/><circle cx="151.2" cy="588.5" r="0.9" fill="#d94850"/><circle cx="187.6" cy="514.7" r="0.9" fill="#a4cfd6"/><circle cx="173.3" cy="508.7" r="0.9" fill="#e0862f"/><circle cx="174.2" cy="566.3" r="0.9" fill="#aad7a6"/><circle cx="175.0" cy="568.5" r="0.9" fill="#aad7a6"/><circle cx="171.3" cy="536.6" r="0.9" fill="#e0862f"/><circle cx="117.0" cy="578.7" r="0.9" fill="#a4cfd6"/><circle cx="170.6" cy="510.6" r="0.9" fill="#e0862f"/><circle cx="173.5" cy="536.8" r="0.9" fill="#e0862f"/><circle cx="172.6" cy="566.7" r="0.9" fill="#aad7a6"/><circle cx="156.0" cy="577.9" r="0.9" fill="#a4cfd6"/><circle cx="168.9" cy="590.6" r="0.9" fill="#e0862f"/><circle cx="158.9" cy="546.3" r="0.9" fill="#e0862f"/><circle cx="171.2" cy="578.7" r="0.9" fill="#e0862f"/><circle cx="105.6" cy="566.6" r="0.9" fill="#a4cfd6"/><circle cx="160.3" cy="536.0" r="0.9" fill="#e0862f"/><circle cx="176.0" cy="590.7" r="0.9" fill="#a4cfd6"/><circle cx="165.9" cy="586.2" r="0.9" fill="#e0862f"/><circle cx="128.4" cy="585.7" r="0.9" fill="#a4cfd6"/><circle cx="163.9" cy="560.1" r="0.9" fill="#e0862f"/><circle cx="186.4" cy="547.4" r="0.9" fill="#d94850"/><circle cx="167.7" cy="562.2" r="0.9" fill="#e0862f"/><circle cx="124.0" cy="586.0" r="0.9" fill="#a4cfd6"/><circle cx="185.5" cy="542.5" r="0.9" fill="#a4cfd6"/><circle cx="169.3" cy="591.4" r="0.9" fill="#d99bca"/><circle cx="171.2" cy="578.0" r="0.9" fill="#aad7a6"/><circle cx="174.3" cy="590.1" r="0.9" fill="#aad7a6"/><circle cx="163.8" cy="572.3" r="0.9" fill="#e0862f"/><circle cx="176.8" cy="582.2" r="0.9" fill="#d99bca"/><circle cx="174.1" cy="530.6" r="0.9" fill="#efeba6"/><circle cx="167.4" cy="592.9" r="0.9" fill="#a4cfd6"/><circle cx="175.7" cy="589.9" r="0.9" fill="#a4cfd6"/><circle cx="164.4" cy="591.8" r="0.9" fill="#d94850"/><circle cx="173.5" cy="548.7" r="0.9" fill="#aad7a6"/><circle cx="175.0" cy="564.0" r="0.9" fill="#e0862f"/><circle cx="170.3" cy="537.2" r="0.9" fill="#a4cfd6"/><circle cx="161.8" cy="539.3" r="0.9" fill="#e0862f"/><circle cx="167.5" cy="524.3" r="0.9" fill="#aad7a6"/><circle cx="178.0" cy="522.9" r="0.9" fill="#d94850"/><circle cx="124.3" cy="580.0" r="0.9" fill="#a4cfd6"/><circle cx="118.6" cy="581.8" r="0.9" fill="#a4cfd6"/><circle cx="166.1" cy="569.9" r="0.9" fill="#e0862f"/><circle cx="173.2" cy="593.0" r="0.9" fill="#aad7a6"/><circle cx="126.9" cy="591.5" r="0.9" fill="#a4cfd6"/><circle cx="190.0" cy="429.1" r="0.9" fill="#efeba6"/><circle cx="151.6" cy="586.4" r="0.9" fill="#e0862f"/><circle cx="181.7" cy="590.3" r="0.9" fill="#d99bca"/><circle cx="170.2" cy="577.3" r="0.9" fill="#efeba6"/><circle cx="167.6" cy="592.8" r="0.9" fill="#aad7a6"/><circle cx="181.9" cy="559.8" r="0.9" fill="#a4cfd6"/><circle cx="138.5" cy="559.5" r="0.9" fill="#aad7a6"/><circle cx="173.7" cy="555.2" r="0.9" fill="#efeba6"/><circle cx="173.7" cy="592.9" r="0.9" fill="#aad7a6"/><circle cx="173.8" cy="592.4" r="0.9" fill="#e0862f"/><circle cx="117.6" cy="590.6" r="0.9" fill="#a4cfd6"/><circle cx="169.5" cy="552.8" r="0.9" fill="#aad7a6"/><circle cx="133.8" cy="550.3" r="0.9" fill="#efeba6"/><circle cx="161.1" cy="569.4" r="0.9" fill="#e0862f"/><circle cx="181.4" cy="575.6" r="0.9" fill="#a4cfd6"/><circle cx="170.7" cy="584.0" r="0.9" fill="#a4cfd6"/><circle cx="118.0" cy="587.9" r="0.9" fill="#a4cfd6"/><circle cx="188.0" cy="412.0" r="0.9" fill="#efeba6"/><circle cx="176.7" cy="516.6" r="0.9" fill="#e0862f"/><circle cx="152.0" cy="584.2" r="0.9" fill="#e0862f"/><circle cx="172.9" cy="568.1" r="0.9" fill="#aad7a6"/><circle cx="129.2" cy="570.1" r="0.9" fill="#aad7a6"/><circle cx="193.7" cy="533.4" r="0.9" fill="#d94850"/><circle cx="170.0" cy="523.6" r="0.9" fill="#e0862f"/><circle cx="182.5" cy="581.8" r="0.9" fill="#d99bca"/><circle cx="130.1" cy="591.9" r="0.9" fill="#a4cfd6"/><circle cx="181.0" cy="465.0" r="0.9" fill="#efeba6"/><circle cx="168.8" cy="514.6" r="0.9" fill="#e0862f"/><circle cx="172.3" cy="581.2" r="0.9" fill="#a4cfd6"/><circle cx="180.7" cy="583.3" r="0.9" fill="#aad7a6"/><circle cx="165.7" cy="582.9" r="0.9" fill="#d99bca"/><circle cx="187.5" cy="512.5" r="0.9" fill="#e0862f"/><circle cx="158.2" cy="554.4" r="0.9" fill="#e0862f"/><circle cx="174.0" cy="507.3" r="0.9" fill="#e0862f"/><circle cx="162.9" cy="547.0" r="0.9" fill="#e0862f"/><circle cx="177.0" cy="570.4" r="0.9" fill="#d94850"/><circle cx="116.3" cy="564.1" r="0.9" fill="#a4cfd6"/><circle cx="174.8" cy="582.4" r="0.9" fill="#aad7a6"/><circle cx="175.0" cy="516.1" r="0.9" fill="#e0862f"/><circle cx="162.6" cy="548.5" r="0.9" fill="#e0862f"/><circle cx="179.0" cy="542.2" r="0.9" fill="#aad7a6"/><circle cx="119.8" cy="562.6" r="0.9" fill="#a4cfd6"/><circle cx="170.6" cy="536.7" r="0.9" fill="#e0862f"/><circle cx="153.9" cy="568.0" r="0.9" fill="#e0862f"/><circle cx="122.4" cy="589.6" r="0.9" fill="#a4cfd6"/><circle cx="193.3" cy="526.6" r="0.9" fill="#e0862f"/><circle cx="161.2" cy="589.4" r="0.9" fill="#e0862f"/><circle cx="178.4" cy="549.4" r="0.9" fill="#aad7a6"/><circle cx="162.4" cy="557.7" r="0.9" fill="#e0862f"/><circle cx="174.8" cy="592.9" r="0.9" fill="#aad7a6"/><circle cx="134.9" cy="591.3" r="0.9" fill="#efeba6"/><circle cx="178.9" cy="582.1" r="0.9" fill="#d94850"/><circle cx="183.8" cy="483.8" r="0.9" fill="#e0862f"/><circle cx="158.5" cy="566.6" r="0.9" fill="#e0862f"/><circle cx="152.8" cy="590.8" r="0.9" fill="#aad7a6"/><circle cx="185.8" cy="589.6" r="0.9" fill="#bdb2dc"/><circle cx="172.0" cy="559.6" r="0.9" fill="#e0862f"/><circle cx="159.9" cy="578.5" r="0.9" fill="#e0862f"/><circle cx="165.4" cy="592.1" r="0.9" fill="#e0862f"/><circle cx="164.0" cy="536.9" r="0.9" fill="#e0862f"/><circle cx="154.0" cy="575.3" r="0.9" fill="#e0862f"/><circle cx="167.9" cy="566.5" r="0.9" fill="#aad7a6"/><circle cx="183.9" cy="551.3" r="0.9" fill="#d99bca"/><circle cx="154.7" cy="591.8" r="0.9" fill="#d94850"/><circle cx="174.1" cy="506.9" r="0.9" fill="#e0862f"/><circle cx="165.6" cy="591.1" r="0.9" fill="#aad7a6"/><circle cx="170.0" cy="461.0" r="0.9" fill="#a4cfd6"/><circle cx="192.2" cy="582.3" r="0.9" fill="#aad7a6"/><circle cx="164.8" cy="521.4" r="0.9" fill="#e0862f"/><circle cx="175.9" cy="554.7" r="0.9" fill="#e0862f"/><circle cx="166.7" cy="577.8" r="0.9" fill="#aad7a6"/><circle cx="181.6" cy="575.2" r="0.9" fill="#a4cfd6"/><circle cx="123.3" cy="566.4" r="0.9" fill="#a4cfd6"/><circle cx="165.5" cy="418.0" r="0.9" fill="#a4cfd6"/><circle cx="158.6" cy="541.0" r="0.9" fill="#a4cfd6"/><circle cx="174.1" cy="583.3" r="0.9" fill="#aad7a6"/><circle cx="188.3" cy="521.5" r="0.9" fill="#e0862f"/><circle cx="179.4" cy="582.5" r="0.9" fill="#d99bca"/><circle cx="172.4" cy="565.4" r="0.9" fill="#e0862f"/><circle cx="104.3" cy="526.2" r="0.9" fill="#a4cfd6"/><circle cx="124.3" cy="572.2" r="0.9" fill="#a4cfd6"/><circle cx="154.3" cy="586.1" r="0.9" fill="#e0862f"/><circle cx="109.0" cy="476.5" r="0.9" fill="#a4cfd6"/><circle cx="121.2" cy="551.8" r="0.9" fill="#efeba6"/><circle cx="156.5" cy="587.5" r="0.9" fill="#d94850"/><circle cx="122.7" cy="582.0" r="0.9" fill="#efeba6"/><circle cx="179.0" cy="488.0" r="0.9" fill="#e0862f"/><circle cx="161.7" cy="590.7" r="0.9" fill="#e0862f"/><circle cx="165.4" cy="586.6" r="0.9" fill="#a4cfd6"/><circle cx="181.0" cy="478.0" r="0.9" fill="#e0862f"/><circle cx="165.0" cy="588.1" r="0.9" fill="#a4cfd6"/><circle cx="194.1" cy="592.1" r="0.9" fill="#aad7a6"/><circle cx="177.3" cy="552.2" r="0.9" fill="#e0862f"/><circle cx="162.6" cy="592.8" r="0.9" fill="#a4cfd6"/><circle cx="160.7" cy="588.5" r="0.9" fill="#e0862f"/><circle cx="172.0" cy="538.0" r="0.9" fill="#d94850"/><circle cx="192.5" cy="522.5" r="0.9" fill="#e0862f"/><circle cx="210.0" cy="466.0" r="0.9" fill="#d94850"/><circle cx="174.9" cy="522.3" r="0.9" fill="#a4cfd6"/><circle cx="182.9" cy="555.6" r="0.9" fill="#a4cfd6"/><circle cx="167.2" cy="566.8" r="0.9" fill="#e0862f"/><circle cx="158.5" cy="591.4" r="0.9" fill="#e0862f"/><circle cx="167.3" cy="534.5" r="0.9" fill="#e0862f"/><circle cx="151.9" cy="591.3" r="0.9" fill="#d94850"/><circle cx="175.6" cy="527.6" r="0.9" fill="#e0862f"/><circle cx="112.3" cy="573.5" r="0.9" fill="#a4cfd6"/><circle cx="178.5" cy="521.5" r="0.9" fill="#a4cfd6"/><circle cx="119.2" cy="582.1" r="0.9" fill="#a4cfd6"/><circle cx="164.9" cy="551.2" r="0.9" fill="#d94850"/><circle cx="170.7" cy="509.4" r="0.9" fill="#e0862f"/><circle cx="165.4" cy="584.3" r="0.9" fill="#efeba6"/><circle cx="170.5" cy="572.9" r="0.9" fill="#e0862f"/><circle cx="167.5" cy="546.0" r="0.9" fill="#e0862f"/><circle cx="158.0" cy="583.8" r="0.9" fill="#e0862f"/><circle cx="152.1" cy="585.2" r="0.9" fill="#e0862f"/><circle cx="171.3" cy="591.8" r="0.9" fill="#d94850"/><circle cx="155.1" cy="568.9" r="0.9" fill="#e0862f"/><circle cx="158.0" cy="566.0" r="0.9" fill="#e0862f"/><circle cx="196.0" cy="505.0" r="0.9" fill="#d94850"/><circle cx="154.1" cy="585.7" r="0.9" fill="#d94850"/><circle cx="161.7" cy="591.8" r="0.9" fill="#d94850"/><circle cx="182.7" cy="542.5" r="0.9" fill="#efeba6"/><circle cx="183.8" cy="540.3" r="0.9" fill="#e0862f"/><circle cx="172.1" cy="582.6" r="0.9" fill="#aad7a6"/><circle cx="189.3" cy="512.3" r="0.9" fill="#e0862f"/><circle cx="174.8" cy="544.7" r="0.9" fill="#a4cfd6"/><circle cx="126.8" cy="571.7" r="0.9" fill="#a4cfd6"/><circle cx="165.0" cy="550.3" r="0.9" fill="#e0862f"/><circle cx="118.9" cy="549.1" r="0.9" fill="#a4cfd6"/><circle cx="168.1" cy="538.1" r="0.9" fill="#e0862f"/><circle cx="116.8" cy="589.3" r="0.9" fill="#a4cfd6"/><circle cx="168.6" cy="571.8" r="0.9" fill="#d94850"/><circle cx="163.3" cy="574.6" r="0.9" fill="#efeba6"/><circle cx="171.5" cy="577.8" r="0.9" fill="#aad7a6"/><circle cx="118.3" cy="584.0" r="0.9" fill="#a4cfd6"/><circle cx="173.2" cy="589.2" r="0.9" fill="#a4cfd6"/><circle cx="177.2" cy="586.4" r="0.9" fill="#a4cfd6"/><circle cx="160.4" cy="533.6" r="0.9" fill="#e0862f"/><circle cx="193.1" cy="589.9" r="0.9" fill="#d99bca"/><circle cx="167.4" cy="588.9" r="0.9" fill="#e0862f"/><circle cx="174.0" cy="535.6" r="0.9" fill="#e0862f"/><circle cx="151.3" cy="591.0" r="0.9" fill="#d94850"/><circle cx="170.9" cy="516.4" r="0.9" fill="#e0862f"/><circle cx="160.6" cy="584.6" r="0.9" fill="#d94850"/><circle cx="172.0" cy="550.4" r="0.9" fill="#e0862f"/><circle cx="121.6" cy="590.8" r="0.9" fill="#a4cfd6"/><circle cx="192.5" cy="592.9" r="0.9" fill="#bdb2dc"/><circle cx="122.9" cy="579.9" r="0.9" fill="#a4cfd6"/><circle cx="173.8" cy="520.3" r="0.9" fill="#e0862f"/><circle cx="167.0" cy="593.0" r="0.9" fill="#aad7a6"/><circle cx="116.1" cy="586.1" r="0.9" fill="#a4cfd6"/><circle cx="167.2" cy="545.2" r="0.9" fill="#e0862f"/><circle cx="167.6" cy="565.5" r="0.9" fill="#d94850"/><circle cx="170.9" cy="565.7" r="0.9" fill="#aad7a6"/><circle cx="165.1" cy="559.5" r="0.9" fill="#e0862f"/><circle cx="179.1" cy="505.5" r="0.9" fill="#d94850"/><circle cx="155.4" cy="588.8" r="0.9" fill="#e0862f"/><circle cx="98.8" cy="476.5" r="0.9" fill="#e0862f"/><circle cx="163.6" cy="537.5" r="0.9" fill="#e0862f"/><circle cx="117.3" cy="559.9" r="0.9" fill="#e0862f"/><circle cx="117.8" cy="554.4" r="0.9" fill="#a4cfd6"/><circle cx="169.5" cy="592.8" r="0.9" fill="#a4cfd6"/><circle cx="120.5" cy="552.1" r="0.9" fill="#a4cfd6"/><circle cx="179.8" cy="540.6" r="0.9" fill="#a4cfd6"/><circle cx="177.3" cy="524.3" r="0.9" fill="#efeba6"/><circle cx="134.8" cy="579.6" r="0.9" fill="#aad7a6"/><circle cx="156.0" cy="553.1" r="0.9" fill="#e0862f"/><circle cx="181.4" cy="576.2" r="0.9" fill="#aad7a6"/><circle cx="177.5" cy="459.5" r="0.9" fill="#efeba6"/><circle cx="167.6" cy="574.9" r="0.9" fill="#d94850"/><circle cx="181.3" cy="571.5" r="0.9" fill="#a4cfd6"/><circle cx="175.4" cy="583.0" r="0.9" fill="#d99bca"/><circle cx="175.0" cy="512.3" r="0.9" fill="#e0862f"/><circle cx="170.4" cy="545.0" r="0.9" fill="#d94850"/><circle cx="164.6" cy="587.2" r="0.9" fill="#e0862f"/><circle cx="126.2" cy="579.8" r="0.9" fill="#a4cfd6"/><circle cx="163.7" cy="563.4" r="0.9" fill="#e0862f"/><circle cx="178.2" cy="573.7" r="0.9" fill="#aad7a6"/><circle cx="121.3" cy="590.9" r="0.9" fill="#a4cfd6"/><circle cx="160.0" cy="585.2" r="0.9" fill="#e0862f"/><circle cx="177.8" cy="540.5" r="0.9" fill="#a4cfd6"/><circle cx="190.0" cy="505.0" r="0.9" fill="#e0862f"/><circle cx="181.7" cy="575.4" r="0.9" fill="#aad7a6"/><circle cx="205.8" cy="578.1" r="0.9" fill="#d94850"/><circle cx="181.2" cy="556.9" r="0.9" fill="#aad7a6"/><circle cx="121.7" cy="583.2" r="0.9" fill="#a4cfd6"/><circle cx="165.6" cy="540.9" r="0.9" fill="#d94850"/><circle cx="165.3" cy="589.4" r="0.9" fill="#a4cfd6"/><circle cx="121.1" cy="569.0" r="0.9" fill="#a4cfd6"/><circle cx="173.4" cy="406.2" r="0.9" fill="#aad7a6"/><circle cx="173.6" cy="590.8" r="0.9" fill="#a4cfd6"/><circle cx="173.0" cy="538.4" r="0.9" fill="#e0862f"/><circle cx="155.6" cy="556.6" r="0.9" fill="#e0862f"/><circle cx="117.8" cy="584.3" r="0.9" fill="#a4cfd6"/><circle cx="178.4" cy="547.1" r="0.9" fill="#e0862f"/><circle cx="166.6" cy="559.7" r="0.9" fill="#a4cfd6"/><circle cx="171.7" cy="574.0" r="0.9" fill="#efeba6"/><circle cx="174.3" cy="579.6" r="0.9" fill="#a4cfd6"/><circle cx="169.1" cy="590.1" r="0.9" fill="#a4cfd6"/><circle cx="163.8" cy="588.4" r="0.9" fill="#e0862f"/><circle cx="180.9" cy="523.4" r="0.9" fill="#d94850"/><circle cx="186.9" cy="557.2" r="0.9" fill="#e0862f"/><circle cx="152.3" cy="578.9" r="0.9" fill="#e0862f"/><circle cx="176.1" cy="587.4" r="0.9" fill="#d99bca"/><circle cx="178.5" cy="570.8" r="0.9" fill="#aad7a6"/><circle cx="117.1" cy="573.5" r="0.9" fill="#a4cfd6"/><circle cx="160.6" cy="557.3" r="0.9" fill="#e0862f"/><circle cx="193.1" cy="581.6" r="0.9" fill="#aad7a6"/><circle cx="164.7" cy="539.0" r="0.9" fill="#e0862f"/><circle cx="169.0" cy="533.0" r="0.9" fill="#e0862f"/><circle cx="165.7" cy="532.8" r="0.9" fill="#e0862f"/><circle cx="158.3" cy="568.5" r="0.9" fill="#e0862f"/><circle cx="121.1" cy="565.7" r="0.9" fill="#a4cfd6"/><circle cx="128.3" cy="589.2" r="0.9" fill="#a4cfd6"/><circle cx="178.5" cy="538.9" r="0.9" fill="#aad7a6"/><circle cx="177.0" cy="557.0" r="0.9" fill="#e0862f"/><circle cx="169.1" cy="588.3" r="0.9" fill="#a4cfd6"/><circle cx="162.0" cy="588.9" r="0.9" fill="#a4cfd6"/><circle cx="174.5" cy="588.1" r="0.9" fill="#aad7a6"/><circle cx="176.5" cy="587.3" r="0.9" fill="#a4cfd6"/><circle cx="127.2" cy="536.1" r="0.9" fill="#a4cfd6"/><circle cx="115.0" cy="562.4" r="0.9" fill="#a4cfd6"/><circle cx="178.4" cy="524.6" r="0.9" fill="#e0862f"/><circle cx="176.4" cy="516.9" r="0.9" fill="#a4cfd6"/><circle cx="131.4" cy="578.2" r="0.9" fill="#a4cfd6"/><circle cx="180.7" cy="585.7" r="0.9" fill="#d99bca"/><circle cx="120.4" cy="591.8" r="0.9" fill="#a4cfd6"/><circle cx="169.8" cy="583.1" r="0.9" fill="#e0862f"/><circle cx="177.5" cy="477.5" r="0.9" fill="#efeba6"/><circle cx="193.6" cy="586.8" r="0.9" fill="#d94850"/><circle cx="173.9" cy="547.3" r="0.9" fill="#aad7a6"/><circle cx="186.8" cy="540.2" r="0.9" fill="#a4cfd6"/><circle cx="174.1" cy="507.7" r="0.9" fill="#e0862f"/><circle cx="177.6" cy="577.8" r="0.9" fill="#d94850"/><circle cx="121.7" cy="589.2" r="0.9" fill="#a4cfd6"/><circle cx="169.9" cy="565.4" r="0.9" fill="#a4cfd6"/><circle cx="186.4" cy="523.2" r="0.9" fill="#e0862f"/><circle cx="120.6" cy="588.8" r="0.9" fill="#a4cfd6"/><circle cx="178.5" cy="558.1" r="0.9" fill="#aad7a6"/><circle cx="160.5" cy="545.2" r="0.9" fill="#e0862f"/><circle cx="119.8" cy="557.5" r="0.9" fill="#a4cfd6"/><circle cx="156.6" cy="566.7" r="0.9" fill="#e0862f"/><circle cx="152.5" cy="573.0" r="0.9" fill="#e0862f"/><circle cx="177.3" cy="560.8" r="0.9" fill="#e0862f"/><circle cx="165.6" cy="592.9" r="0.9" fill="#a4cfd6"/><circle cx="173.0" cy="576.3" r="0.9" fill="#a4cfd6"/><circle cx="175.4" cy="592.7" r="0.9" fill="#aad7a6"/><circle cx="177.4" cy="587.9" r="0.9" fill="#aad7a6"/><circle cx="170.0" cy="538.4" r="0.9" fill="#d94850"/><circle cx="167.4" cy="538.5" r="0.9" fill="#e0862f"/><circle cx="189.2" cy="593.4" r="0.9" fill="#d94850"/><circle cx="193.8" cy="585.3" r="0.9" fill="#d99bca"/><circle cx="170.7" cy="512.7" r="0.9" fill="#e0862f"/><circle cx="167.7" cy="568.1" r="0.9" fill="#aad7a6"/><circle cx="124.1" cy="572.0" r="0.9" fill="#aad7a6"/><circle cx="166.8" cy="574.4" r="0.9" fill="#a4cfd6"/><circle cx="168.5" cy="542.2" r="0.9" fill="#e0862f"/><circle cx="172.5" cy="592.7" r="0.9" fill="#a4cfd6"/><circle cx="171.5" cy="588.8" r="0.9" fill="#aad7a6"/><circle cx="171.0" cy="581.5" r="0.9" fill="#aad7a6"/><circle cx="175.4" cy="529.2" r="0.9" fill="#e0862f"/><circle cx="169.2" cy="587.2" r="0.9" fill="#e0862f"/><circle cx="171.0" cy="511.2" r="0.9" fill="#e0862f"/><circle cx="175.8" cy="515.6" r="0.9" fill="#e0862f"/><circle cx="177.6" cy="519.2" r="0.9" fill="#e0862f"/><circle cx="169.7" cy="524.4" r="0.9" fill="#e0862f"/><circle cx="202.5" cy="507.5" r="0.9" fill="#e0862f"/><circle cx="165.1" cy="534.3" r="0.9" fill="#e0862f"/><circle cx="159.8" cy="590.5" r="0.9" fill="#e0862f"/><circle cx="171.0" cy="516.3" r="0.9" fill="#e0862f"/><circle cx="126.0" cy="592.0" r="0.9" fill="#a4cfd6"/><circle cx="157.0" cy="567.1" r="0.9" fill="#e0862f"/><circle cx="166.9" cy="581.4" r="0.9" fill="#e0862f"/><circle cx="118.3" cy="582.9" r="0.9" fill="#a4cfd6"/><circle cx="174.7" cy="543.7" r="0.9" fill="#e0862f"/><circle cx="197.3" cy="533.3" r="0.9" fill="#d94850"/><circle cx="163.4" cy="586.6" r="0.9" fill="#a4cfd6"/><circle cx="165.9" cy="576.4" r="0.9" fill="#e0862f"/><circle cx="180.8" cy="556.7" r="0.9" fill="#a4cfd6"/><circle cx="173.7" cy="525.7" r="0.9" fill="#e0862f"/><circle cx="182.3" cy="543.2" r="0.9" fill="#aad7a6"/><circle cx="123.5" cy="590.8" r="0.9" fill="#a4cfd6"/><circle cx="155.0" cy="585.2" r="0.9" fill="#d94850"/><circle cx="175.5" cy="510.9" r="0.9" fill="#e0862f"/><circle cx="174.2" cy="526.2" r="0.9" fill="#e0862f"/><circle cx="163.9" cy="556.1" r="0.9" fill="#e0862f"/><circle cx="157.4" cy="554.7" r="0.9" fill="#e0862f"/><circle cx="173.1" cy="508.0" r="0.9" fill="#e0862f"/><circle cx="120.7" cy="444.2" r="0.9" fill="#efeba6"/><circle cx="171.6" cy="563.1" r="0.9" fill="#d94850"/><circle cx="124.0" cy="591.9" r="0.9" fill="#a4cfd6"/><circle cx="164.0" cy="574.5" r="0.9" fill="#e0862f"/><circle cx="175.6" cy="556.1" r="0.9" fill="#a4cfd6"/><circle cx="159.4" cy="578.1" r="0.9" fill="#e0862f"/><circle cx="178.2" cy="541.6" r="0.9" fill="#a4cfd6"/><circle cx="153.3" cy="560.9" r="0.9" fill="#a4cfd6"/><circle cx="175.2" cy="564.1" r="0.9" fill="#a4cfd6"/><circle cx="205.9" cy="546.1" r="0.9" fill="#e0862f"/><circle cx="176.4" cy="579.6" r="0.9" fill="#efeba6"/><circle cx="169.4" cy="524.1" r="0.9" fill="#e0862f"/><circle cx="169.9" cy="535.4" r="0.9" fill="#aad7a6"/><circle cx="161.3" cy="591.2" r="0.9" fill="#d94850"/><circle cx="170.9" cy="516.1" r="0.9" fill="#e0862f"/><circle cx="170.2" cy="591.8" r="0.9" fill="#e0862f"/><circle cx="175.4" cy="515.0" r="0.9" fill="#e0862f"/><circle cx="181.6" cy="569.5" r="0.9" fill="#aad7a6"/><circle cx="174.6" cy="530.5" r="0.9" fill="#e0862f"/><circle cx="159.1" cy="567.8" r="0.9" fill="#e0862f"/><circle cx="172.0" cy="553.0" r="0.9" fill="#d94850"/><circle cx="172.5" cy="579.2" r="0.9" fill="#e0862f"/><circle cx="117.2" cy="573.3" r="0.9" fill="#a4cfd6"/><circle cx="193.8" cy="515.4" r="0.9" fill="#e0862f"/><circle cx="174.8" cy="565.9" r="0.9" fill="#e0862f"/><circle cx="171.7" cy="588.9" r="0.9" fill="#aad7a6"/><circle cx="129.8" cy="517.9" r="0.9" fill="#efeba6"/><circle cx="178.7" cy="585.7" r="0.9" fill="#a4cfd6"/><circle cx="162.4" cy="557.4" r="0.9" fill="#e0862f"/><circle cx="161.6" cy="530.9" r="0.9" fill="#e0862f"/><circle cx="155.7" cy="573.1" r="0.9" fill="#e0862f"/><circle cx="170.3" cy="523.1" r="0.9" fill="#e0862f"/><circle cx="175.7" cy="506.1" r="0.9" fill="#e0862f"/><circle cx="110.8" cy="584.5" r="0.9" fill="#a4cfd6"/><circle cx="177.1" cy="517.7" r="0.9" fill="#e0862f"/><circle cx="164.9" cy="585.7" r="0.9" fill="#e0862f"/><circle cx="175.4" cy="564.2" r="0.9" fill="#e0862f"/><circle cx="154.6" cy="574.9" r="0.9" fill="#e0862f"/><circle cx="163.6" cy="530.1" r="0.9" fill="#e0862f"/><circle cx="165.9" cy="566.9" r="0.9" fill="#e0862f"/><circle cx="164.7" cy="588.0" r="0.9" fill="#aad7a6"/><circle cx="177.4" cy="554.4" r="0.9" fill="#a4cfd6"/><circle cx="151.3" cy="591.5" r="0.9" fill="#d94850"/><circle cx="171.1" cy="518.2" r="0.9" fill="#e0862f"/><circle cx="158.5" cy="584.7" r="0.9" fill="#e0862f"/><circle cx="165.0" cy="531.2" r="0.9" fill="#e0862f"/><circle cx="129.4" cy="587.5" r="0.9" fill="#a4cfd6"/><circle cx="112.4" cy="555.2" r="0.9" fill="#efeba6"/><circle cx="159.2" cy="565.7" r="0.9" fill="#e0862f"/><circle cx="159.2" cy="570.8" r="0.9" fill="#e0862f"/><circle cx="162.6" cy="539.9" r="0.9" fill="#e0862f"/><circle cx="181.2" cy="577.0" r="0.9" fill="#a4cfd6"/><circle cx="168.6" cy="528.1" r="0.9" fill="#e0862f"/><circle cx="168.3" cy="516.2" r="0.9" fill="#e0862f"/><circle cx="105.1" cy="546.3" r="0.9" fill="#a4cfd6"/><circle cx="180.2" cy="557.7" r="0.9" fill="#aad7a6"/><circle cx="172.7" cy="540.6" r="0.9" fill="#e0862f"/><circle cx="178.7" cy="534.2" r="0.9" fill="#a4cfd6"/><circle cx="175.8" cy="563.3" r="0.9" fill="#d94850"/><circle cx="182.0" cy="559.6" r="0.9" fill="#aad7a6"/><circle cx="126.5" cy="583.0" r="0.9" fill="#a4cfd6"/><circle cx="187.5" cy="457.5" r="0.9" fill="#a4cfd6"/><circle cx="176.4" cy="537.2" r="0.9" fill="#aad7a6"/><circle cx="180.6" cy="544.6" r="0.9" fill="#d94850"/><circle cx="173.8" cy="587.7" r="0.9" fill="#e0862f"/><circle cx="151.2" cy="585.1" r="0.9" fill="#d94850"/><circle cx="118.7" cy="582.6" r="0.9" fill="#a4cfd6"/><circle cx="169.5" cy="583.5" r="0.9" fill="#e0862f"/><circle cx="185.4" cy="509.2" r="0.9" fill="#a4cfd6"/><circle cx="125.2" cy="574.4" r="0.9" fill="#a4cfd6"/><circle cx="163.9" cy="584.3" r="0.9" fill="#e0862f"/><circle cx="110.6" cy="591.8" r="0.9" fill="#a4cfd6"/><circle cx="176.6" cy="513.2" r="0.9" fill="#e0862f"/><circle cx="173.3" cy="582.2" r="0.9" fill="#efeba6"/><circle cx="150.9" cy="587.9" r="0.9" fill="#d94850"/><circle cx="156.1" cy="558.4" r="0.9" fill="#e0862f"/><circle cx="178.5" cy="567.8" r="0.9" fill="#e0862f"/><circle cx="176.6" cy="587.2" r="0.9" fill="#aad7a6"/><circle cx="164.0" cy="592.6" r="0.9" fill="#a4cfd6"/><circle cx="186.1" cy="541.9" r="0.9" fill="#aad7a6"/><circle cx="165.0" cy="588.1" r="0.9" fill="#d94850"/><circle cx="178.7" cy="522.9" r="0.9" fill="#e0862f"/><circle cx="161.5" cy="554.2" r="0.9" fill="#e0862f"/><circle cx="178.6" cy="546.3" r="0.9" fill="#e0862f"/><circle cx="117.3" cy="582.4" r="0.9" fill="#a4cfd6"/><circle cx="175.8" cy="537.8" r="0.9" fill="#aad7a6"/><circle cx="155.2" cy="550.1" r="0.9" fill="#d94850"/><circle cx="127.4" cy="591.1" r="0.9" fill="#a4cfd6"/><circle cx="170.7" cy="590.6" r="0.9" fill="#a4cfd6"/><circle cx="213.0" cy="439.0" r="0.9" fill="#d94850"/><circle cx="173.0" cy="550.9" r="0.9" fill="#e0862f"/><circle cx="170.6" cy="585.0" r="0.9" fill="#a4cfd6"/><circle cx="129.5" cy="550.2" r="0.9" fill="#aad7a6"/><circle cx="176.8" cy="546.9" r="0.9" fill="#a4cfd6"/><circle cx="165.1" cy="592.6" r="0.9" fill="#aad7a6"/><circle cx="170.5" cy="526.6" r="0.9" fill="#e0862f"/><circle cx="169.8" cy="544.4" r="0.9" fill="#e0862f"/><circle cx="163.9" cy="589.1" r="0.9" fill="#e0862f"/><circle cx="175.3" cy="520.8" r="0.9" fill="#e0862f"/><circle cx="173.9" cy="564.1" r="0.9" fill="#aad7a6"/><circle cx="121.3" cy="590.5" r="0.9" fill="#a4cfd6"/><circle cx="175.8" cy="540.4" r="0.9" fill="#e0862f"/><circle cx="158.3" cy="588.2" r="0.9" fill="#d94850"/><circle cx="167.3" cy="524.3" r="0.9" fill="#e0862f"/><circle cx="166.3" cy="572.3" r="0.9" fill="#e0862f"/><circle cx="177.3" cy="558.9" r="0.9" fill="#aad7a6"/><circle cx="207.0" cy="530.0" r="0.9" fill="#d94850"/><circle cx="174.8" cy="517.7" r="0.9" fill="#e0862f"/><circle cx="171.5" cy="590.0" r="0.9" fill="#a4cfd6"/><circle cx="169.3" cy="553.1" r="0.9" fill="#e0862f"/><circle cx="168.8" cy="532.3" r="0.9" fill="#e0862f"/><circle cx="171.9" cy="584.2" r="0.9" fill="#e0862f"/><circle cx="188.4" cy="582.6" r="0.9" fill="#e0862f"/><circle cx="115.9" cy="591.8" r="0.9" fill="#aad7a6"/><circle cx="169.7" cy="526.2" r="0.9" fill="#e0862f"/><circle cx="177.3" cy="534.1" r="0.9" fill="#a4cfd6"/><circle cx="110.0" cy="565.8" r="0.9" fill="#a4cfd6"/><circle cx="92.0" cy="528.0" r="0.9" fill="#efeba6"/><circle cx="174.0" cy="553.1" r="0.9" fill="#e0862f"/><circle cx="177.5" cy="588.0" r="0.9" fill="#aad7a6"/><circle cx="191.2" cy="512.7" r="0.9" fill="#e0862f"/><circle cx="154.2" cy="582.3" r="0.9" fill="#e0862f"/><circle cx="186.5" cy="520.8" r="0.9" fill="#d94850"/><circle cx="177.4" cy="524.0" r="0.9" fill="#e0862f"/><circle cx="159.5" cy="571.8" r="0.9" fill="#e0862f"/><circle cx="102.6" cy="503.6" r="0.9" fill="#e0862f"/><circle cx="175.9" cy="554.7" r="0.9" fill="#e0862f"/><circle cx="179.1" cy="578.7" r="0.9" fill="#d99bca"/><circle cx="167.3" cy="554.9" r="0.9" fill="#e0862f"/><circle cx="165.6" cy="579.8" r="0.9" fill="#e0862f"/><circle cx="174.3" cy="509.9" r="0.9" fill="#e0862f"/><circle cx="167.3" cy="548.8" r="0.9" fill="#e0862f"/><circle cx="130.0" cy="586.7" r="0.9" fill="#a4cfd6"/><circle cx="171.2" cy="509.7" r="0.9" fill="#e0862f"/><circle cx="111.0" cy="589.3" r="0.9" fill="#a4cfd6"/><circle cx="161.9" cy="573.2" r="0.9" fill="#e0862f"/><circle cx="173.0" cy="588.5" r="0.9" fill="#a4cfd6"/><circle cx="169.5" cy="572.0" r="0.9" fill="#e0862f"/><circle cx="166.7" cy="525.8" r="0.9" fill="#e0862f"/><circle cx="181.2" cy="590.3" r="0.9" fill="#bdb2dc"/><circle cx="155.7" cy="574.8" r="0.9" fill="#e0862f"/><circle cx="163.6" cy="592.1" r="0.9" fill="#a4cfd6"/><circle cx="209.5" cy="520.5" r="0.9" fill="#d94850"/><circle cx="169.1" cy="524.0" r="0.9" fill="#e0862f"/><circle cx="187.1" cy="546.0" r="0.9" fill="#a4cfd6"/><circle cx="174.4" cy="507.2" r="0.9" fill="#a4cfd6"/><circle cx="161.3" cy="556.1" r="0.9" fill="#e0862f"/><circle cx="169.7" cy="558.5" r="0.9" fill="#a4cfd6"/><circle cx="169.8" cy="573.6" r="0.9" fill="#e0862f"/><circle cx="181.8" cy="557.5" r="0.9" fill="#a4cfd6"/><circle cx="155.3" cy="562.0" r="0.9" fill="#e0862f"/><circle cx="96.0" cy="539.6" r="0.9" fill="#a4cfd6"/><circle cx="118.4" cy="548.3" r="0.9" fill="#a4cfd6"/><circle cx="177.3" cy="408.7" r="0.9" fill="#efeba6"/><circle cx="175.9" cy="559.1" r="0.9" fill="#e0862f"/><circle cx="172.6" cy="555.5" r="0.9" fill="#a4cfd6"/><circle cx="176.8" cy="573.3" r="0.9" fill="#e0862f"/><circle cx="166.8" cy="573.9" r="0.9" fill="#e0862f"/><circle cx="156.1" cy="588.5" r="0.9" fill="#e0862f"/><circle cx="175.9" cy="581.2" r="0.9" fill="#d99bca"/><circle cx="175.2" cy="592.5" r="0.9" fill="#a4cfd6"/><circle cx="157.0" cy="555.2" r="0.9" fill="#e0862f"/><circle cx="159.5" cy="546.6" r="0.9" fill="#e0862f"/><circle cx="134.5" cy="560.6" r="0.9" fill="#a4cfd6"/><circle cx="169.0" cy="565.6" r="0.9" fill="#a4cfd6"/><circle cx="166.5" cy="562.7" r="0.9" fill="#e0862f"/><circle cx="122.0" cy="585.1" r="0.9" fill="#a4cfd6"/><circle cx="175.2" cy="552.1" r="0.9" fill="#e0862f"/><circle cx="161.8" cy="528.0" r="0.9" fill="#e0862f"/><circle cx="174.5" cy="591.3" r="0.9" fill="#aad7a6"/><circle cx="174.3" cy="515.9" r="0.9" fill="#e0862f"/><circle cx="127.5" cy="578.6" r="0.9" fill="#a4cfd6"/><circle cx="163.6" cy="592.9" r="0.9" fill="#aad7a6"/><circle cx="175.0" cy="432.0" r="0.9" fill="#efeba6"/><circle cx="174.2" cy="512.6" r="0.9" fill="#e0862f"/><circle cx="175.0" cy="543.3" r="0.9" fill="#d94850"/><circle cx="172.8" cy="507.6" r="0.9" fill="#e0862f"/><circle cx="182.6" cy="565.4" r="0.9" fill="#aad7a6"/><circle cx="165.9" cy="563.3" r="0.9" fill="#e0862f"/><circle cx="183.7" cy="582.5" r="0.9" fill="#aad7a6"/><circle cx="169.0" cy="577.4" r="0.9" fill="#aad7a6"/><circle cx="123.3" cy="563.5" r="0.9" fill="#a4cfd6"/><circle cx="164.8" cy="569.9" r="0.9" fill="#e0862f"/><circle cx="177.6" cy="545.1" r="0.9" fill="#e0862f"/><circle cx="124.9" cy="579.9" r="0.9" fill="#a4cfd6"/><circle cx="156.0" cy="552.6" r="0.9" fill="#e0862f"/><circle cx="174.9" cy="531.3" r="0.9" fill="#e0862f"/><circle cx="171.8" cy="530.0" r="0.9" fill="#e0862f"/><circle cx="181.9" cy="565.6" r="0.9" fill="#aad7a6"/><circle cx="164.5" cy="572.3" r="0.9" fill="#d94850"/><circle cx="122.2" cy="591.6" r="0.9" fill="#a4cfd6"/><circle cx="122.4" cy="568.3" r="0.9" fill="#a4cfd6"/><circle cx="156.1" cy="557.9" r="0.9" fill="#e0862f"/><circle cx="167.9" cy="582.2" r="0.9" fill="#aad7a6"/><circle cx="160.3" cy="546.6" r="0.9" fill="#e0862f"/><circle cx="171.8" cy="527.0" r="0.9" fill="#e0862f"/><circle cx="163.8" cy="589.1" r="0.9" fill="#e0862f"/><circle cx="163.4" cy="528.4" r="0.9" fill="#a4cfd6"/><circle cx="115.1" cy="575.4" r="0.9" fill="#aad7a6"/><circle cx="169.9" cy="561.9" r="0.9" fill="#efeba6"/><circle cx="170.9" cy="574.4" r="0.9" fill="#a4cfd6"/><circle cx="164.7" cy="560.7" r="0.9" fill="#e0862f"/><circle cx="180.3" cy="588.7" r="0.9" fill="#d94850"/><circle cx="173.8" cy="506.9" r="0.9" fill="#e0862f"/><circle cx="171.2" cy="583.2" r="0.9" fill="#e0862f"/><circle cx="158.7" cy="555.3" r="0.9" fill="#e0862f"/><circle cx="157.9" cy="583.6" r="0.9" fill="#e0862f"/><circle cx="177.0" cy="539.5" r="0.9" fill="#e0862f"/><circle cx="204.6" cy="589.7" r="0.9" fill="#d94850"/><circle cx="183.8" cy="503.8" r="0.9" fill="#e0862f"/><circle cx="176.0" cy="587.1" r="0.9" fill="#d99bca"/><circle cx="110.6" cy="549.1" r="0.9" fill="#a4cfd6"/><circle cx="170.7" cy="565.3" r="0.9" fill="#e0862f"/><circle cx="128.0" cy="591.5" r="0.9" fill="#aad7a6"/><circle cx="184.0" cy="586.1" r="0.9" fill="#bdb2dc"/><circle cx="162.2" cy="549.6" r="0.9" fill="#e0862f"/><circle cx="187.3" cy="582.6" r="0.9" fill="#d99bca"/><circle cx="163.6" cy="592.8" r="0.9" fill="#a4cfd6"/><circle cx="160.1" cy="551.9" r="0.9" fill="#e0862f"/><circle cx="174.8" cy="567.2" r="0.9" fill="#e0862f"/><circle cx="167.9" cy="568.4" r="0.9" fill="#e0862f"/><circle cx="168.5" cy="515.1" r="0.9" fill="#e0862f"/><circle cx="161.7" cy="591.4" r="0.9" fill="#a4cfd6"/><circle cx="183.3" cy="419.6" r="0.9" fill="#aad7a6"/><circle cx="167.4" cy="536.1" r="0.9" fill="#e0862f"/><circle cx="168.1" cy="564.0" r="0.9" fill="#efeba6"/><circle cx="125.8" cy="588.9" r="0.9" fill="#a4cfd6"/><circle cx="177.7" cy="515.3" r="0.9" fill="#e0862f"/><circle cx="170.8" cy="556.5" r="0.9" fill="#a4cfd6"/><circle cx="104.6" cy="533.1" r="0.9" fill="#a4cfd6"/><circle cx="173.6" cy="581.1" r="0.9" fill="#a4cfd6"/><circle cx="153.7" cy="561.2" r="0.9" fill="#e0862f"/><circle cx="189.3" cy="583.7" r="0.9" fill="#bdb2dc"/><circle cx="195.9" cy="519.3" r="0.9" fill="#e0862f"/><circle cx="161.3" cy="592.4" r="0.9" fill="#aad7a6"/><circle cx="119.7" cy="555.7" r="0.9" fill="#a4cfd6"/><circle cx="163.1" cy="585.3" r="0.9" fill="#a4cfd6"/><circle cx="176.7" cy="512.3" r="0.9" fill="#e0862f"/><circle cx="178.5" cy="547.3" r="0.9" fill="#e0862f"/><circle cx="165.6" cy="586.0" r="0.9" fill="#a4cfd6"/><circle cx="116.9" cy="587.1" r="0.9" fill="#d94850"/><circle cx="165.8" cy="537.4" r="0.9" fill="#e0862f"/><circle cx="158.0" cy="585.1" r="0.9" fill="#e0862f"/><circle cx="178.8" cy="557.8" r="0.9" fill="#a4cfd6"/><circle cx="138.4" cy="587.1" r="0.9" fill="#a4cfd6"/><circle cx="122.8" cy="572.5" r="0.9" fill="#a4cfd6"/><circle cx="172.7" cy="592.1" r="0.9" fill="#a4cfd6"/><circle cx="207.2" cy="567.9" r="0.9" fill="#e0862f"/><circle cx="159.6" cy="568.4" r="0.9" fill="#d94850"/><circle cx="172.7" cy="507.8" r="0.9" fill="#e0862f"/><circle cx="161.9" cy="569.4" r="0.9" fill="#e0862f"/><circle cx="176.0" cy="513.8" r="0.9" fill="#e0862f"/><circle cx="171.8" cy="592.1" r="0.9" fill="#aad7a6"/><circle cx="180.8" cy="508.0" r="0.9" fill="#e0862f"/><circle cx="175.7" cy="555.5" r="0.9" fill="#a4cfd6"/><circle cx="112.8" cy="588.6" r="0.9" fill="#a4cfd6"/><circle cx="169.0" cy="548.6" r="0.9" fill="#e0862f"/><circle cx="101.3" cy="468.8" r="0.9" fill="#d94850"/><circle cx="161.1" cy="592.3" r="0.9" fill="#aad7a6"/><circle cx="170.0" cy="579.2" r="0.9" fill="#d99bca"/><circle cx="173.8" cy="525.5" r="0.9" fill="#e0862f"/><circle cx="165.8" cy="567.5" r="0.9" fill="#d94850"/><circle cx="164.2" cy="577.3" r="0.9" fill="#e0862f"/><circle cx="168.0" cy="517.2" r="0.9" fill="#e0862f"/><circle cx="180.1" cy="558.5" r="0.9" fill="#aad7a6"/><circle cx="178.4" cy="571.9" r="0.9" fill="#aad7a6"/><circle cx="168.8" cy="590.5" r="0.9" fill="#a4cfd6"/><circle cx="111.6" cy="536.8" r="0.9" fill="#a4cfd6"/><circle cx="181.1" cy="539.7" r="0.9" fill="#efeba6"/><circle cx="185.0" cy="520.0" r="0.9" fill="#a4cfd6"/><circle cx="193.6" cy="592.1" r="0.9" fill="#d99bca"/><circle cx="169.8" cy="591.3" r="0.9" fill="#aad7a6"/><circle cx="121.8" cy="573.7" r="0.9" fill="#a4cfd6"/><circle cx="154.8" cy="571.2" r="0.9" fill="#e0862f"/><circle cx="177.9" cy="579.9" r="0.9" fill="#aad7a6"/><circle cx="129.2" cy="575.0" r="0.9" fill="#a4cfd6"/><circle cx="165.9" cy="592.9" r="0.9" fill="#a4cfd6"/><circle cx="126.9" cy="585.0" r="0.9" fill="#a4cfd6"/><circle cx="166.4" cy="577.1" r="0.9" fill="#e0862f"/><circle cx="162.8" cy="586.9" r="0.9" fill="#aad7a6"/><circle cx="122.3" cy="564.7" r="0.9" fill="#a4cfd6"/><circle cx="164.7" cy="526.4" r="0.9" fill="#e0862f"/><circle cx="164.0" cy="579.8" r="0.9" fill="#aad7a6"/><circle cx="171.9" cy="583.8" r="0.9" fill="#e0862f"/><circle cx="165.2" cy="521.1" r="0.9" fill="#e0862f"/><circle cx="173.5" cy="539.4" r="0.9" fill="#e0862f"/><circle cx="117.1" cy="553.4" r="0.9" fill="#a4cfd6"/><circle cx="163.0" cy="546.0" r="0.9" fill="#e0862f"/><circle cx="113.4" cy="562.4" r="0.9" fill="#a4cfd6"/><circle cx="175.1" cy="538.8" r="0.9" fill="#aad7a6"/><circle cx="178.2" cy="546.6" r="0.9" fill="#aad7a6"/><circle cx="116.5" cy="537.7" r="0.9" fill="#efeba6"/><circle cx="152.6" cy="586.2" r="0.9" fill="#d94850"/><circle cx="167.3" cy="587.5" r="0.9" fill="#e0862f"/><circle cx="161.5" cy="552.4" r="0.9" fill="#e0862f"/><circle cx="161.7" cy="591.6" r="0.9" fill="#d94850"/><circle cx="157.4" cy="581.8" r="0.9" fill="#e0862f"/><circle cx="170.3" cy="552.0" r="0.9" fill="#a4cfd6"/><circle cx="156.9" cy="591.2" r="0.9" fill="#e0862f"/><circle cx="173.4" cy="583.9" r="0.9" fill="#a4cfd6"/><circle cx="174.2" cy="555.3" r="0.9" fill="#aad7a6"/><circle cx="169.9" cy="526.8" r="0.9" fill="#a4cfd6"/><circle cx="177.0" cy="535.0" r="0.9" fill="#a4cfd6"/><circle cx="120.8" cy="571.0" r="0.9" fill="#a4cfd6"/><circle cx="164.1" cy="537.8" r="0.9" fill="#e0862f"/><circle cx="165.5" cy="570.7" r="0.9" fill="#e0862f"/><circle cx="172.5" cy="585.1" r="0.9" fill="#e0862f"/><circle cx="179.3" cy="591.2" r="0.9" fill="#bdb2dc"/><circle cx="172.2" cy="577.8" r="0.9" fill="#aad7a6"/><circle cx="170.0" cy="550.6" r="0.9" fill="#e0862f"/><circle cx="155.4" cy="580.5" r="0.9" fill="#e0862f"/><circle cx="173.4" cy="541.7" r="0.9" fill="#aad7a6"/><circle cx="167.8" cy="530.4" r="0.9" fill="#e0862f"/><circle cx="155.7" cy="585.4" r="0.9" fill="#efeba6"/><circle cx="167.3" cy="536.8" r="0.9" fill="#e0862f"/><circle cx="159.1" cy="556.7" r="0.9" fill="#e0862f"/><circle cx="152.2" cy="589.4" r="0.9" fill="#d94850"/><circle cx="174.6" cy="556.4" r="0.9" fill="#aad7a6"/><circle cx="171.0" cy="589.7" r="0.9" fill="#a4cfd6"/><circle cx="214.0" cy="518.0" r="0.9" fill="#e0862f"/><circle cx="163.8" cy="563.0" r="0.9" fill="#e0862f"/><circle cx="197.0" cy="453.0" r="0.9" fill="#aad7a6"/><circle cx="181.2" cy="558.7" r="0.9" fill="#d94850"/><circle cx="173.9" cy="545.7" r="0.9" fill="#a4cfd6"/><circle cx="176.6" cy="559.7" r="0.9" fill="#aad7a6"/><circle cx="125.8" cy="591.9" r="0.9" fill="#a4cfd6"/><circle cx="163.0" cy="563.5" r="0.9" fill="#e0862f"/><circle cx="168.1" cy="542.7" r="0.9" fill="#e0862f"/><circle cx="181.8" cy="516.2" r="0.9" fill="#a4cfd6"/><circle cx="163.2" cy="591.6" r="0.9" fill="#e0862f"/><circle cx="165.6" cy="576.1" r="0.9" fill="#a4cfd6"/><circle cx="186.4" cy="553.8" r="0.9" fill="#efeba6"/><circle cx="160.6" cy="555.8" r="0.9" fill="#d94850"/><circle cx="169.4" cy="549.3" r="0.9" fill="#e0862f"/><circle cx="124.8" cy="529.2" r="0.9" fill="#aad7a6"/><circle cx="169.5" cy="522.8" r="0.9" fill="#e0862f"/><circle cx="167.7" cy="588.9" r="0.9" fill="#aad7a6"/><circle cx="158.2" cy="563.6" r="0.9" fill="#e0862f"/><circle cx="115.4" cy="527.7" r="0.9" fill="#a4cfd6"/><circle cx="175.0" cy="514.8" r="0.9" fill="#e0862f"/><circle cx="170.5" cy="578.5" r="0.9" fill="#a4cfd6"/><circle cx="166.7" cy="578.0" r="0.9" fill="#e0862f"/><circle cx="196.5" cy="545.5" r="0.9" fill="#d94850"/><circle cx="176.2" cy="540.5" r="0.9" fill="#a4cfd6"/><circle cx="183.5" cy="512.3" r="0.9" fill="#d94850"/><circle cx="173.3" cy="590.0" r="0.9" fill="#d94850"/><circle cx="193.0" cy="589.3" r="0.9" fill="#d99bca"/><circle cx="125.5" cy="559.4" r="0.9" fill="#a4cfd6"/><circle cx="176.0" cy="510.3" r="0.9" fill="#e0862f"/><circle cx="101.3" cy="497.2" r="0.9" fill="#e0862f"/><circle cx="118.5" cy="591.4" r="0.9" fill="#a4cfd6"/><circle cx="168.9" cy="544.8" r="0.9" fill="#e0862f"/><circle cx="158.0" cy="552.0" r="0.9" fill="#e0862f"/><circle cx="127.2" cy="578.1" r="0.9" fill="#a4cfd6"/><circle cx="166.1" cy="592.9" r="0.9" fill="#aad7a6"/><circle cx="168.6" cy="569.4" r="0.9" fill="#e0862f"/><circle cx="181.2" cy="583.1" r="0.9" fill="#aad7a6"/><circle cx="153.6" cy="589.5" r="0.9" fill="#e0862f"/><circle cx="163.1" cy="584.0" r="0.9" fill="#e0862f"/><circle cx="182.1" cy="592.4" r="0.9" fill="#d99bca"/><circle cx="154.0" cy="574.2" r="0.9" fill="#e0862f"/><circle cx="163.8" cy="526.6" r="0.9" fill="#e0862f"/><circle cx="162.0" cy="592.9" r="0.9" fill="#aad7a6"/><circle cx="162.5" cy="587.3" r="0.9" fill="#e0862f"/><circle cx="191.5" cy="581.2" r="0.9" fill="#d94850"/><circle cx="184.7" cy="530.4" r="0.9" fill="#d94850"/><circle cx="168.4" cy="574.1" r="0.9" fill="#e0862f"/><circle cx="181.1" cy="542.2" r="0.9" fill="#e0862f"/><circle cx="171.0" cy="512.8" r="0.9" fill="#e0862f"/><circle cx="172.7" cy="537.7" r="0.9" fill="#aad7a6"/><circle cx="175.1" cy="549.5" r="0.9" fill="#e0862f"/><circle cx="192.1" cy="584.2" r="0.9" fill="#aad7a6"/><circle cx="168.3" cy="543.9" r="0.9" fill="#e0862f"/><circle cx="168.7" cy="591.2" r="0.9" fill="#d94850"/><circle cx="183.3" cy="533.0" r="0.9" fill="#e0862f"/><circle cx="167.3" cy="521.9" r="0.9" fill="#e0862f"/><circle cx="179.9" cy="579.5" r="0.9" fill="#d94850"/><circle cx="123.8" cy="554.6" r="0.9" fill="#a4cfd6"/><circle cx="172.7" cy="511.4" r="0.9" fill="#e0862f"/><circle cx="165.8" cy="592.7" r="0.9" fill="#aad7a6"/><circle cx="176.1" cy="524.8" r="0.9" fill="#e0862f"/><circle cx="157.5" cy="551.4" r="0.9" fill="#e0862f"/><circle cx="175.0" cy="548.7" r="0.9" fill="#e0862f"/><circle cx="179.9" cy="520.7" r="0.9" fill="#d94850"/><circle cx="168.0" cy="568.2" r="0.9" fill="#e0862f"/><circle cx="166.6" cy="587.0" r="0.9" fill="#a4cfd6"/><circle cx="176.4" cy="508.7" r="0.9" fill="#e0862f"/><circle cx="167.6" cy="518.1" r="0.9" fill="#e0862f"/><circle cx="178.1" cy="576.0" r="0.9" fill="#d94850"/><circle cx="192.2" cy="582.6" r="0.9" fill="#aad7a6"/><circle cx="184.0" cy="535.4" r="0.9" fill="#d94850"/><circle cx="155.1" cy="573.8" r="0.9" fill="#e0862f"/><circle cx="121.0" cy="568.3" r="0.9" fill="#a4cfd6"/><circle cx="176.5" cy="589.4" r="0.9" fill="#a4cfd6"/><circle cx="163.4" cy="570.5" r="0.9" fill="#e0862f"/><circle cx="105.8" cy="554.9" r="0.9" fill="#efeba6"/><circle cx="180.6" cy="551.6" r="0.9" fill="#d99bca"/><circle cx="162.0" cy="589.8" r="0.9" fill="#a4cfd6"/><circle cx="167.8" cy="523.6" r="0.9" fill="#e0862f"/><circle cx="178.8" cy="585.6" r="0.9" fill="#aad7a6"/><circle cx="186.8" cy="544.4" r="0.9" fill="#aad7a6"/><circle cx="121.8" cy="581.9" r="0.9" fill="#a4cfd6"/><circle cx="173.9" cy="542.6" r="0.9" fill="#aad7a6"/><circle cx="162.9" cy="585.5" r="0.9" fill="#a4cfd6"/><circle cx="172.7" cy="536.9" r="0.9" fill="#e0862f"/><circle cx="154.6" cy="564.5" r="0.9" fill="#efeba6"/><circle cx="172.0" cy="507.5" r="0.9" fill="#e0862f"/><circle cx="150.0" cy="584.5" r="0.9" fill="#d94850"/><circle cx="176.9" cy="591.1" r="0.9" fill="#aad7a6"/><circle cx="119.6" cy="590.6" r="0.9" fill="#a4cfd6"/><circle cx="155.2" cy="561.2" r="0.9" fill="#efeba6"/><circle cx="156.6" cy="566.9" r="0.9" fill="#e0862f"/><circle cx="170.5" cy="567.1" r="0.9" fill="#a4cfd6"/><circle cx="165.3" cy="580.2" r="0.9" fill="#aad7a6"/><circle cx="171.7" cy="518.4" r="0.9" fill="#e0862f"/><circle cx="173.1" cy="589.9" r="0.9" fill="#a4cfd6"/><circle cx="187.4" cy="528.5" r="0.9" fill="#d94850"/><circle cx="174.3" cy="584.6" r="0.9" fill="#d99bca"/><circle cx="164.4" cy="574.9" r="0.9" fill="#e0862f"/><circle cx="157.3" cy="590.4" r="0.9" fill="#d94850"/><circle cx="200.5" cy="571.1" r="0.9" fill="#d94850"/><circle cx="167.9" cy="590.1" r="0.9" fill="#d99bca"/><circle cx="177.4" cy="527.6" r="0.9" fill="#e0862f"/></g>
<line x1="36" y1="595.6" x2="253.5" y2="595.6" stroke="#555" stroke-width="0.9" stroke-dasharray="4,3"/>
<text x="207.60" y="593.40" font-size="5.6" fill="#222" textLength="46.5" lengthAdjust="spacingAndGlyphs" >Adj. P value = .05</text>
<circle cx="49.3" cy="364.20" r="2.4" fill="#a4cfd6"/>
<text x="55.20" y="366.30" font-size="6.0" fill="#222" >CD4 T</text>
<circle cx="49.3" cy="374.00" r="2.4" fill="#d99bca"/>
<text x="55.20" y="376.10" font-size="6.0" fill="#222" >Treg</text>
<circle cx="49.3" cy="383.80" r="2.4" fill="#aad7a6"/>
<text x="55.20" y="385.90" font-size="6.0" fill="#222" >CD8 T</text>
<circle cx="49.3" cy="393.60" r="2.4" fill="#d94850"/>
<text x="55.20" y="395.70" font-size="6.0" fill="#222" >gdT</text>
<circle cx="49.3" cy="403.40" r="2.4" fill="#efeba6"/>
<text x="55.20" y="405.50" font-size="6.0" fill="#222" >NK</text>
<circle cx="49.3" cy="413.20" r="2.4" fill="#e0862f"/>
<text x="55.20" y="415.30" font-size="6.0" fill="#222" >B</text>
<circle cx="49.3" cy="423.00" r="2.4" fill="#bdb2dc"/>
<text x="55.20" y="425.10" font-size="6.0" fill="#222" >CD14 Mono</text>
<circle cx="49.3" cy="432.80" r="2.4" fill="#70acd8"/>
<text x="55.20" y="434.90" font-size="6.0" fill="#222" >cDC</text>
<circle cx="49.3" cy="442.60" r="2.4" fill="#3651a0"/>
<text x="55.20" y="444.70" font-size="6.0" fill="#222" >Neutrophils</text>
<line x1="205" y1="370.2" x2="202.5" y2="380" stroke="#b8d0c8" stroke-width="0.6"/>
<line x1="213.8" y1="456.5" x2="210" y2="466" stroke="#c03048" stroke-width="0.6"/>
<line x1="217.5" y1="524" x2="202.5" y2="535" stroke="#a8d8b0" stroke-width="0.6"/>
<line x1="209" y1="546.5" x2="185" y2="552" stroke="#a8d0e8" stroke-width="0.6"/>
<line x1="229.6" y1="546.5" x2="186" y2="557" stroke="#a8d0e8" stroke-width="0.6"/>
<line x1="209" y1="570.5" x2="186" y2="572" stroke="#b0dcb8" stroke-width="0.6"/>
<line x1="213" y1="591.8" x2="203" y2="580" stroke="#c090d0" stroke-width="0.6"/>
<rect x="206.8" y="362.2" width="15.2" height="8.0" rx="1.8" fill="#fff" fill-opacity="0.92" stroke="#4a4a4a" stroke-width="0.75"/>
<text x="214.40" y="368.30" font-size="6.0" font-style="italic" text-anchor="middle" fill="#222">IL32</text>
<rect x="213.6" y="448.8" width="15.2" height="8.0" rx="1.8" fill="#fff" fill-opacity="0.92" stroke="#4a4a4a" stroke-width="0.75"/>
<text x="221.20" y="454.90" font-size="6.0" font-style="italic" text-anchor="middle" fill="#222">IL32</text>
<rect x="208.6" y="492.6" width="15.2" height="8.0" rx="1.8" fill="#fff" fill-opacity="0.92" stroke="#4a4a4a" stroke-width="0.75"/>
<text x="216.20" y="498.70" font-size="6.0" font-style="italic" text-anchor="middle" fill="#222">IRF2</text>
<rect x="217.4" y="518.2" width="15.2" height="8.0" rx="1.8" fill="#fff" fill-opacity="0.92" stroke="#4a4a4a" stroke-width="0.75"/>
<text x="225.00" y="524.30" font-size="6.0" font-style="italic" text-anchor="middle" fill="#222">IL32</text>
<rect x="208.8" y="542.3" width="15.2" height="8.0" rx="1.8" fill="#fff" fill-opacity="0.92" stroke="#4a4a4a" stroke-width="0.75"/>
<text x="216.40" y="548.40" font-size="6.0" font-style="italic" text-anchor="middle" fill="#222">IRF2</text>
<rect x="229.6" y="542.3" width="15.2" height="8.0" rx="1.8" fill="#fff" fill-opacity="0.92" stroke="#4a4a4a" stroke-width="0.75"/>
<text x="237.20" y="548.40" font-size="6.0" font-style="italic" text-anchor="middle" fill="#222">IRF7</text>
<rect x="208.8" y="566.5" width="15.2" height="8.0" rx="1.8" fill="#fff" fill-opacity="0.92" stroke="#4a4a4a" stroke-width="0.75"/>
<text x="216.40" y="572.60" font-size="6.0" font-style="italic" text-anchor="middle" fill="#222">IL32</text>
<rect x="229.6" y="566.5" width="15.2" height="8.0" rx="1.8" fill="#fff" fill-opacity="0.92" stroke="#4a4a4a" stroke-width="0.75"/>
<text x="237.20" y="572.60" font-size="6.0" font-style="italic" text-anchor="middle" fill="#222">IRF9</text>
<rect x="212.4" y="591.4" width="15.2" height="8.0" rx="1.8" fill="#fff" fill-opacity="0.92" stroke="#4a4a4a" stroke-width="0.75"/>
<text x="220.00" y="597.50" font-size="6.0" font-style="italic" text-anchor="middle" fill="#222">IL32</text>
<text x="30.20" y="640.20" font-size="6.0" text-anchor="end" fill="#222" >DOWN</text>
<text x="30.20" y="649.80" font-size="6.0" text-anchor="end" fill="#222" >UP</text>
<rect x="35.5" y="635.2" width="21.50" height="6" fill="#a4cfd6"/>
<rect x="57" y="635.2" width="2.50" height="6" fill="#efeba6"/>
<rect x="59.5" y="635.2" width="5.00" height="6" fill="#eab070"/>
<rect x="35.5" y="645.0" width="100.10" height="5.8" fill="#a4cfd6"/>
<rect x="135.6" y="645.0" width="5.40" height="5.8" fill="#d99bca"/>
<rect x="141" y="645.0" width="14.80" height="5.8" fill="#aad7a6"/>
<rect x="155.8" y="645.0" width="10.00" height="5.8" fill="#d94850"/>
<rect x="165.8" y="645.0" width="24.70" height="5.8" fill="#efeba6"/>
<rect x="190.5" y="645.0" width="60.10" height="5.8" fill="#e0862f"/>
<rect x="250.6" y="645.0" width="2.70" height="5.8" fill="#bdb2dc"/>
<text x="300.60" y="179.40" font-size="10.5" font-weight="bold" fill="#111" >E</text>
<line x1="322.4" y1="179" x2="322.4" y2="288" stroke="#222" stroke-width="0.9"/>
<line x1="320" y1="287.60" x2="322.4" y2="287.60" stroke="#333" stroke-width="0.7"/>
<text x="316.40" y="289.70" font-size="6.0" text-anchor="end" fill="#333" >0</text>
<line x1="320" y1="265.30" x2="322.4" y2="265.30" stroke="#333" stroke-width="0.7"/>
<text x="316.40" y="267.40" font-size="6.0" text-anchor="end" fill="#333" >1</text>
<line x1="320" y1="243.00" x2="322.4" y2="243.00" stroke="#333" stroke-width="0.7"/>
<text x="316.40" y="245.10" font-size="6.0" text-anchor="end" fill="#333" >2</text>
<line x1="320" y1="220.70" x2="322.4" y2="220.70" stroke="#333" stroke-width="0.7"/>
<text x="316.40" y="222.80" font-size="6.0" text-anchor="end" fill="#333" >3</text>
<line x1="320" y1="198.40" x2="322.4" y2="198.40" stroke="#333" stroke-width="0.7"/>
<text x="316.40" y="200.50" font-size="6.0" text-anchor="end" fill="#333" >4</text>
<text transform="translate(307.4,233.1) rotate(-90)" font-size="7.0" font-weight="bold" text-anchor="middle" fill="#1a1a1a" textLength="76.3" lengthAdjust="spacingAndGlyphs">IL32 logNormalized expression</text>
<path d="M334.50,287.60 L333.66,286.08 L332.83,284.55 L332.04,283.03 L331.28,281.50 L330.56,279.98 L329.92,278.46 L329.62,276.93 L329.62,275.41 L329.62,273.89 L329.62,272.36 L329.62,270.84 L329.62,269.31 L329.62,267.79 L329.62,266.27 L329.62,264.74 L329.62,263.22 L329.62,261.69 L329.62,260.17 L329.62,258.65 L329.62,257.12 L329.62,255.60 L329.62,254.08 L329.62,252.55 L329.62,251.03 L329.62,249.50 L329.62,247.98 L329.62,246.46 L329.62,244.93 L329.62,243.41 L329.62,241.89 L329.62,240.36 L329.62,238.84 L329.62,237.31 L329.62,235.79 L329.62,234.27 L329.62,232.74 L329.62,231.22 L329.62,229.69 L329.62,228.17 L329.62,226.65 L329.62,225.12 L329.62,223.60 L329.62,222.08 L329.62,220.55 L329.62,219.03 L329.62,217.50 L329.62,215.98 L329.62,214.46 L329.62,212.93 L329.62,211.41 L329.62,209.88 L329.62,208.36 L329.62,206.84 L329.62,205.31 L329.62,203.79 L329.62,202.27 L329.62,200.74 L329.62,199.22 L329.62,197.69 L329.62,196.17 L329.38,196.17 L329.38,197.69 L329.38,199.22 L329.38,200.74 L329.38,202.27 L329.38,203.79 L329.38,205.31 L329.38,206.84 L329.38,208.36 L329.38,209.88 L329.38,211.41 L329.38,212.93 L329.38,214.46 L329.38,215.98 L329.38,217.50 L329.38,219.03 L329.38,220.55 L329.38,222.08 L329.38,223.60 L329.38,225.12 L329.38,226.65 L329.38,228.17 L329.38,229.69 L329.38,231.22 L329.38,232.74 L329.38,234.27 L329.38,235.79 L329.38,237.31 L329.38,238.84 L329.38,240.36 L329.38,241.89 L329.38,243.41 L329.38,244.93 L329.38,246.46 L329.38,247.98 L329.38,249.50 L329.38,251.03 L329.38,252.55 L329.38,254.08 L329.38,255.60 L329.38,257.12 L329.38,258.65 L329.38,260.17 L329.38,261.69 L329.38,263.22 L329.38,264.74 L329.38,266.27 L329.38,267.79 L329.38,269.31 L329.38,270.84 L329.38,272.36 L329.38,273.89 L329.38,275.41 L329.38,276.93 L329.08,278.46 L328.44,279.98 L327.72,281.50 L326.96,283.03 L326.17,284.55 L325.34,286.08 L324.50,287.60Z" fill="#a9d3da" stroke="#2e2e2e" stroke-width="0.6" stroke-linejoin="round"/>
<circle cx="329.50" cy="255.27" r="0.95" fill="#111"/>
<path d="M345.40,287.60 L344.55,286.06 L343.71,284.52 L342.91,282.97 L342.14,281.43 L341.42,279.89 L340.78,278.35 L340.54,276.80 L340.64,275.26 L340.77,273.72 L340.95,272.18 L341.15,270.63 L341.35,269.09 L341.50,267.55 L341.59,266.01 L341.59,264.46 L341.49,262.92 L341.33,261.38 L341.14,259.84 L340.94,258.29 L340.76,256.75 L340.63,255.21 L340.53,253.67 L340.52,252.12 L340.52,250.58 L340.52,249.04 L340.52,247.50 L340.52,245.95 L340.52,244.41 L340.52,242.87 L340.52,241.33 L340.52,239.79 L340.52,238.24 L340.52,236.70 L340.52,235.16 L340.52,233.62 L340.52,232.07 L340.52,230.53 L340.52,228.99 L340.52,227.45 L340.52,225.90 L340.52,224.36 L340.52,222.82 L340.52,221.28 L340.52,219.73 L340.52,218.19 L340.52,216.65 L340.52,215.11 L340.52,213.56 L340.52,212.02 L340.52,210.48 L340.52,208.94 L340.52,207.39 L340.52,205.85 L340.52,204.31 L340.52,202.77 L340.52,201.22 L340.52,199.68 L340.52,198.14 L340.52,196.60 L340.52,195.06 L340.28,195.06 L340.28,196.60 L340.28,198.14 L340.28,199.68 L340.28,201.22 L340.28,202.77 L340.28,204.31 L340.28,205.85 L340.28,207.39 L340.28,208.94 L340.28,210.48 L340.28,212.02 L340.28,213.56 L340.28,215.11 L340.28,216.65 L340.28,218.19 L340.28,219.73 L340.28,221.28 L340.28,222.82 L340.28,224.36 L340.28,225.90 L340.28,227.45 L340.28,228.99 L340.28,230.53 L340.28,232.07 L340.28,233.62 L340.28,235.16 L340.28,236.70 L340.28,238.24 L340.28,239.79 L340.28,241.33 L340.28,242.87 L340.28,244.41 L340.28,245.95 L340.28,247.50 L340.28,249.04 L340.28,250.58 L340.28,252.12 L340.27,253.67 L340.17,255.21 L340.04,256.75 L339.86,258.29 L339.66,259.84 L339.47,261.38 L339.31,262.92 L339.21,264.46 L339.21,266.01 L339.30,267.55 L339.45,269.09 L339.65,270.63 L339.85,272.18 L340.03,273.72 L340.16,275.26 L340.26,276.80 L340.02,278.35 L339.38,279.89 L338.66,281.43 L337.89,282.97 L337.09,284.52 L336.25,286.06 L335.40,287.60Z" fill="#a9d3da" stroke="#2e2e2e" stroke-width="0.6" stroke-linejoin="round"/>
<circle cx="340.40" cy="263.07" r="0.95" fill="#111"/>
<path d="M352.10,287.60 L351.97,286.49 L351.83,285.37 L351.70,284.25 L351.57,283.14 L351.43,282.03 L351.42,280.91 L351.42,279.80 L351.42,278.68 L351.42,277.56 L351.42,276.45 L351.42,275.34 L351.42,274.22 L351.42,273.11 L351.42,271.99 L351.42,270.88 L351.42,269.76 L351.42,268.65 L351.42,267.53 L351.42,266.42 L351.42,265.30 L351.42,264.19 L351.42,263.07 L351.42,261.96 L351.42,260.84 L351.42,259.73 L351.42,258.61 L351.42,257.50 L351.42,256.38 L351.42,255.27 L351.42,254.15 L351.42,253.04 L351.42,251.92 L351.42,250.81 L351.42,249.69 L351.42,248.58 L351.44,247.46 L351.48,246.35 L351.53,245.23 L351.60,244.12 L351.67,243.00 L351.76,241.89 L351.86,240.77 L351.98,239.66 L352.11,238.54 L352.25,237.43 L352.40,236.31 L352.55,235.20 L352.71,234.08 L352.87,232.97 L353.01,231.85 L353.15,230.74 L353.27,229.62 L353.37,228.51 L353.44,227.39 L353.48,226.28 L353.50,225.16 L353.48,224.05 L353.44,222.93 L353.37,221.81 L353.27,220.70 L353.15,219.59 L353.01,218.47 L352.87,217.36 L352.71,216.24 L352.55,215.12 L352.40,214.01 L352.25,212.90 L352.11,211.78 L351.98,210.67 L351.86,209.55 L351.76,208.44 L351.67,207.32 L351.60,206.21 L351.53,205.09 L351.48,203.98 L351.44,202.86 L351.42,201.75 L351.42,200.63 L351.42,199.52 L351.42,198.40 L351.18,198.40 L351.18,199.52 L351.18,200.63 L351.18,201.75 L351.16,202.86 L351.12,203.98 L351.07,205.09 L351.00,206.21 L350.93,207.32 L350.84,208.44 L350.74,209.55 L350.62,210.67 L350.49,211.78 L350.35,212.90 L350.20,214.01 L350.05,215.12 L349.89,216.24 L349.73,217.36 L349.59,218.47 L349.45,219.59 L349.33,220.70 L349.23,221.81 L349.16,222.93 L349.12,224.05 L349.10,225.16 L349.12,226.28 L349.16,227.39 L349.23,228.51 L349.33,229.62 L349.45,230.74 L349.59,231.85 L349.73,232.97 L349.89,234.08 L350.05,235.20 L350.20,236.31 L350.35,237.43 L350.49,238.54 L350.62,239.66 L350.74,240.77 L350.84,241.89 L350.93,243.00 L351.00,244.12 L351.07,245.23 L351.12,246.35 L351.16,247.46 L351.18,248.58 L351.18,249.69 L351.18,250.81 L351.18,251.92 L351.18,253.04 L351.18,254.15 L351.18,255.27 L351.18,256.38 L351.18,257.50 L351.18,258.61 L351.18,259.73 L351.18,260.84 L351.18,261.96 L351.18,263.07 L351.18,264.19 L351.18,265.30 L351.18,266.42 L351.18,267.53 L351.18,268.65 L351.18,269.76 L351.18,270.88 L351.18,271.99 L351.18,273.11 L351.18,274.22 L351.18,275.34 L351.18,276.45 L351.18,277.56 L351.18,278.68 L351.18,279.80 L351.18,280.91 L351.17,282.03 L351.03,283.14 L350.90,284.25 L350.77,285.37 L350.63,286.49 L350.50,287.60Z" fill="#a9d3da" stroke="#2e2e2e" stroke-width="0.6" stroke-linejoin="round"/>
<circle cx="351.30" cy="231.85" r="0.95" fill="#111"/>
<rect x="322.90" y="288.5" width="35.2" height="7" fill="#dcdcdc"/>
<text x="340.50" y="294.40" font-size="6.2" text-anchor="middle" fill="#333" >CD4 T</text>
<line x1="322.90" y1="296.6" x2="358.10" y2="296.6" stroke="#222" stroke-width="0.8"/>
<line x1="329.50" y1="296.6" x2="329.50" y2="299" stroke="#333" stroke-width="0.7"/>
<line x1="340.40" y1="296.6" x2="340.40" y2="299" stroke="#333" stroke-width="0.7"/>
<line x1="351.30" y1="296.6" x2="351.30" y2="299" stroke="#333" stroke-width="0.7"/>
<path d="M340.40,190.5 V187.9 H351.30 V190.5" stroke="#222" stroke-width="0.6" fill="none"/>
<text x="345.85" y="187.60" font-size="5.6" text-anchor="middle" font-weight="bold" fill="#111" >****</text>
<text transform="translate(331.50,302) rotate(-90)" font-size="6.0" text-anchor="end" fill="#222">CH–</text>
<text transform="translate(342.40,302) rotate(-90)" font-size="6.0" text-anchor="end" fill="#222"><tspan font-style="italic">TET2</tspan>mt CH</text>
<text transform="translate(353.30,302) rotate(-90)" font-size="6.0" text-anchor="end" fill="#222"><tspan font-style="italic">DNMT3A</tspan>mt CH</text>
<path d="M372.60,287.60 L371.69,286.12 L370.80,284.64 L369.94,283.16 L369.12,281.68 L368.36,280.20 L367.69,278.72 L367.52,277.25 L367.52,275.77 L367.52,274.29 L367.52,272.81 L367.52,271.33 L367.52,269.85 L367.52,268.37 L367.52,266.89 L367.52,265.41 L367.52,263.93 L367.52,262.45 L367.52,260.97 L367.52,259.49 L367.52,258.02 L367.52,256.54 L367.52,255.06 L367.52,253.58 L367.52,252.10 L367.52,250.62 L367.52,249.14 L367.52,247.66 L367.52,246.18 L367.52,244.70 L367.52,243.22 L367.52,241.74 L367.52,240.26 L367.52,238.79 L367.52,237.31 L367.52,235.83 L367.52,234.35 L367.52,232.87 L367.52,231.39 L367.52,229.91 L367.52,228.43 L367.52,226.95 L367.52,225.47 L367.52,223.99 L367.52,222.51 L367.52,221.03 L367.52,219.56 L367.52,218.08 L367.52,216.60 L367.52,215.12 L367.52,213.64 L367.52,212.16 L367.52,210.68 L367.52,209.20 L367.52,207.72 L367.52,206.24 L367.52,204.76 L367.52,203.28 L367.52,201.80 L367.52,200.33 L367.52,198.85 L367.28,198.85 L367.28,200.33 L367.28,201.80 L367.28,203.28 L367.28,204.76 L367.28,206.24 L367.28,207.72 L367.28,209.20 L367.28,210.68 L367.28,212.16 L367.28,213.64 L367.28,215.12 L367.28,216.60 L367.28,218.08 L367.28,219.56 L367.28,221.03 L367.28,222.51 L367.28,223.99 L367.28,225.47 L367.28,226.95 L367.28,228.43 L367.28,229.91 L367.28,231.39 L367.28,232.87 L367.28,234.35 L367.28,235.83 L367.28,237.31 L367.28,238.79 L367.28,240.26 L367.28,241.74 L367.28,243.22 L367.28,244.70 L367.28,246.18 L367.28,247.66 L367.28,249.14 L367.28,250.62 L367.28,252.10 L367.28,253.58 L367.28,255.06 L367.28,256.54 L367.28,258.02 L367.28,259.49 L367.28,260.97 L367.28,262.45 L367.28,263.93 L367.28,265.41 L367.28,266.89 L367.28,268.37 L367.28,269.85 L367.28,271.33 L367.28,272.81 L367.28,274.29 L367.28,275.77 L367.28,277.25 L367.11,278.72 L366.44,280.20 L365.68,281.68 L364.86,283.16 L364.00,284.64 L363.11,286.12 L362.20,287.60Z" fill="#b4dbaa" stroke="#2e2e2e" stroke-width="0.6" stroke-linejoin="round"/>
<circle cx="367.40" cy="256.38" r="0.95" fill="#111"/>
<path d="M381.30,287.60 L380.87,286.28 L380.44,284.96 L380.03,283.64 L379.63,282.32 L379.25,281.00 L378.90,279.68 L378.57,278.36 L378.42,277.04 L378.42,275.73 L378.42,274.41 L378.42,273.09 L378.42,271.77 L378.42,270.45 L378.42,269.13 L378.42,267.81 L378.42,266.49 L378.42,265.17 L378.42,263.85 L378.42,262.53 L378.42,261.21 L378.42,259.89 L378.42,258.57 L378.42,257.25 L378.42,255.93 L378.42,254.61 L378.42,253.30 L378.42,251.98 L378.42,250.66 L378.42,249.34 L378.42,248.02 L378.42,246.70 L378.42,245.38 L378.42,244.06 L378.42,242.74 L378.42,241.42 L378.42,240.10 L378.42,238.78 L378.42,237.46 L378.42,236.14 L378.42,234.82 L378.42,233.50 L378.42,232.18 L378.42,230.87 L378.42,229.55 L378.42,228.23 L378.42,226.91 L378.42,225.59 L378.42,224.27 L378.42,222.95 L378.42,221.63 L378.42,220.31 L378.42,218.99 L378.42,217.67 L378.42,216.35 L378.42,215.03 L378.42,213.71 L378.42,212.39 L378.42,211.07 L378.42,209.75 L378.42,208.44 L378.18,208.44 L378.18,209.75 L378.18,211.07 L378.18,212.39 L378.18,213.71 L378.18,215.03 L378.18,216.35 L378.18,217.67 L378.18,218.99 L378.18,220.31 L378.18,221.63 L378.18,222.95 L378.18,224.27 L378.18,225.59 L378.18,226.91 L378.18,228.23 L378.18,229.55 L378.18,230.87 L378.18,232.18 L378.18,233.50 L378.18,234.82 L378.18,236.14 L378.18,237.46 L378.18,238.78 L378.18,240.10 L378.18,241.42 L378.18,242.74 L378.18,244.06 L378.18,245.38 L378.18,246.70 L378.18,248.02 L378.18,249.34 L378.18,250.66 L378.18,251.98 L378.18,253.30 L378.18,254.61 L378.18,255.93 L378.18,257.25 L378.18,258.57 L378.18,259.89 L378.18,261.21 L378.18,262.53 L378.18,263.85 L378.18,265.17 L378.18,266.49 L378.18,267.81 L378.18,269.13 L378.18,270.45 L378.18,271.77 L378.18,273.09 L378.18,274.41 L378.18,275.73 L378.18,277.04 L378.03,278.36 L377.70,279.68 L377.35,281.00 L376.97,282.32 L376.57,283.64 L376.16,284.96 L375.73,286.28 L375.30,287.60Z" fill="#b4dbaa" stroke="#2e2e2e" stroke-width="0.6" stroke-linejoin="round"/>
<circle cx="378.30" cy="259.73" r="0.95" fill="#111"/>
<path d="M389.70,287.60 L389.62,286.48 L389.53,285.35 L389.45,284.23 L389.36,283.11 L389.32,281.98 L389.32,280.86 L389.32,279.74 L389.32,278.61 L389.32,277.49 L389.32,276.37 L389.32,275.24 L389.32,274.12 L389.32,273.00 L389.32,271.87 L389.32,270.75 L389.32,269.63 L389.32,268.50 L389.32,267.38 L389.32,266.26 L389.32,265.13 L389.32,264.01 L389.32,262.89 L389.32,261.76 L389.32,260.64 L389.32,259.52 L389.32,258.39 L389.32,257.27 L389.32,256.15 L389.32,255.02 L389.32,253.90 L389.32,252.78 L389.32,251.65 L389.32,250.53 L389.32,249.41 L389.32,248.28 L389.32,247.16 L389.32,246.04 L389.32,244.91 L389.32,243.79 L389.32,242.67 L389.32,241.54 L389.32,240.42 L389.32,239.30 L389.32,238.17 L389.36,237.05 L389.41,235.93 L389.46,234.80 L389.54,233.68 L389.62,232.56 L389.72,231.43 L389.83,230.31 L389.96,229.19 L390.10,228.06 L390.25,226.94 L390.41,225.82 L390.58,224.69 L390.74,223.57 L390.91,222.44 L391.06,221.32 L391.19,220.20 L391.31,219.07 L391.40,217.95 L391.46,216.83 L391.50,215.70 L391.49,214.58 L391.44,213.46 L391.33,212.33 L391.18,211.21 L390.99,210.09 L390.78,208.96 L390.56,207.84 L390.34,206.72 L390.13,205.59 L389.95,204.47 L389.78,203.35 L389.64,202.22 L389.53,201.10 L389.44,199.98 L389.37,198.85 L389.32,197.73 L389.08,197.73 L389.03,198.85 L388.96,199.98 L388.87,201.10 L388.76,202.22 L388.62,203.35 L388.45,204.47 L388.27,205.59 L388.06,206.72 L387.84,207.84 L387.62,208.96 L387.41,210.09 L387.22,211.21 L387.07,212.33 L386.96,213.46 L386.91,214.58 L386.90,215.70 L386.94,216.83 L387.00,217.95 L387.09,219.07 L387.21,220.20 L387.34,221.32 L387.49,222.44 L387.66,223.57 L387.82,224.69 L387.99,225.82 L388.15,226.94 L388.30,228.06 L388.44,229.19 L388.57,230.31 L388.68,231.43 L388.78,232.56 L388.86,233.68 L388.94,234.80 L388.99,235.93 L389.04,237.05 L389.08,238.17 L389.08,239.30 L389.08,240.42 L389.08,241.54 L389.08,242.67 L389.08,243.79 L389.08,244.91 L389.08,246.04 L389.08,247.16 L389.08,248.28 L389.08,249.41 L389.08,250.53 L389.08,251.65 L389.08,252.78 L389.08,253.90 L389.08,255.02 L389.08,256.15 L389.08,257.27 L389.08,258.39 L389.08,259.52 L389.08,260.64 L389.08,261.76 L389.08,262.89 L389.08,264.01 L389.08,265.13 L389.08,266.26 L389.08,267.38 L389.08,268.50 L389.08,269.63 L389.08,270.75 L389.08,271.87 L389.08,273.00 L389.08,274.12 L389.08,275.24 L389.08,276.37 L389.08,277.49 L389.08,278.61 L389.08,279.74 L389.08,280.86 L389.08,281.98 L389.04,283.11 L388.95,284.23 L388.87,285.35 L388.78,286.48 L388.70,287.60Z" fill="#b4dbaa" stroke="#2e2e2e" stroke-width="0.6" stroke-linejoin="round"/>
<circle cx="389.20" cy="227.39" r="0.95" fill="#111"/>
<rect x="360.80" y="288.5" width="35.2" height="7" fill="#dcdcdc"/>
<text x="378.40" y="294.40" font-size="6.2" text-anchor="middle" fill="#333" >CD8 T</text>
<line x1="360.80" y1="296.6" x2="396.00" y2="296.6" stroke="#222" stroke-width="0.8"/>
<line x1="367.40" y1="296.6" x2="367.40" y2="299" stroke="#333" stroke-width="0.7"/>
<line x1="378.30" y1="296.6" x2="378.30" y2="299" stroke="#333" stroke-width="0.7"/>
<line x1="389.20" y1="296.6" x2="389.20" y2="299" stroke="#333" stroke-width="0.7"/>
<path d="M378.30,190.5 V187.9 H389.20 V190.5" stroke="#222" stroke-width="0.6" fill="none"/>
<text x="383.75" y="187.60" font-size="5.6" text-anchor="middle" font-weight="bold" fill="#111" >****</text>
<text transform="translate(369.40,302) rotate(-90)" font-size="6.0" text-anchor="end" fill="#222">CH–</text>
<text transform="translate(380.30,302) rotate(-90)" font-size="6.0" text-anchor="end" fill="#222"><tspan font-style="italic">TET2</tspan>mt CH</text>
<text transform="translate(391.20,302) rotate(-90)" font-size="6.0" text-anchor="end" fill="#222"><tspan font-style="italic">DNMT3A</tspan>mt CH</text>
<path d="M410.50,287.60 L409.72,286.03 L408.96,284.46 L408.22,282.88 L407.52,281.31 L406.87,279.74 L406.29,278.17 L406.12,276.59 L406.12,275.02 L406.12,273.45 L406.12,271.88 L406.12,270.31 L406.12,268.73 L406.12,267.16 L406.12,265.59 L406.12,264.02 L406.12,262.45 L406.12,260.87 L406.12,259.30 L406.12,257.73 L406.12,256.16 L406.12,254.58 L406.12,253.01 L406.12,251.44 L406.12,249.87 L406.12,248.30 L406.12,246.72 L406.12,245.15 L406.12,243.58 L406.12,242.01 L406.12,240.44 L406.12,238.86 L406.12,237.29 L406.12,235.72 L406.12,234.15 L406.12,232.57 L406.12,231.00 L406.12,229.43 L406.12,227.86 L406.12,226.29 L406.12,224.71 L406.12,223.14 L406.12,221.57 L406.12,220.00 L406.12,218.43 L406.12,216.85 L406.12,215.28 L406.12,213.71 L406.12,212.14 L406.12,210.56 L406.12,208.99 L406.12,207.42 L406.12,205.85 L406.12,204.28 L406.12,202.70 L406.12,201.13 L406.12,199.56 L406.12,197.99 L406.12,196.42 L406.12,194.84 L406.12,193.27 L405.88,193.27 L405.88,194.84 L405.88,196.42 L405.88,197.99 L405.88,199.56 L405.88,201.13 L405.88,202.70 L405.88,204.28 L405.88,205.85 L405.88,207.42 L405.88,208.99 L405.88,210.56 L405.88,212.14 L405.88,213.71 L405.88,215.28 L405.88,216.85 L405.88,218.43 L405.88,220.00 L405.88,221.57 L405.88,223.14 L405.88,224.71 L405.88,226.29 L405.88,227.86 L405.88,229.43 L405.88,231.00 L405.88,232.57 L405.88,234.15 L405.88,235.72 L405.88,237.29 L405.88,238.86 L405.88,240.44 L405.88,242.01 L405.88,243.58 L405.88,245.15 L405.88,246.72 L405.88,248.30 L405.88,249.87 L405.88,251.44 L405.88,253.01 L405.88,254.58 L405.88,256.16 L405.88,257.73 L405.88,259.30 L405.88,260.87 L405.88,262.45 L405.88,264.02 L405.88,265.59 L405.88,267.16 L405.88,268.73 L405.88,270.31 L405.88,271.88 L405.88,273.45 L405.88,275.02 L405.88,276.59 L405.71,278.17 L405.13,279.74 L404.48,281.31 L403.78,282.88 L403.04,284.46 L402.28,286.03 L401.50,287.60Z" fill="#f1eda2" stroke="#2e2e2e" stroke-width="0.6" stroke-linejoin="round"/>
<circle cx="406.00" cy="252.59" r="0.95" fill="#111"/>
<path d="M421.40,287.60 L420.76,286.31 L420.13,285.02 L419.52,283.73 L418.92,282.44 L418.36,281.15 L417.82,279.86 L417.33,278.57 L417.02,277.28 L417.02,275.99 L417.02,274.70 L417.02,273.41 L417.02,272.12 L417.02,270.83 L417.02,269.54 L417.02,268.25 L417.02,266.97 L417.02,265.68 L417.02,264.39 L417.02,263.10 L417.02,261.81 L417.02,260.52 L417.02,259.23 L417.02,257.94 L417.02,256.65 L417.02,255.36 L417.02,254.07 L417.02,252.78 L417.02,251.49 L417.02,250.20 L417.02,248.91 L417.02,247.62 L417.02,246.33 L417.02,245.04 L417.02,243.75 L417.02,242.46 L417.02,241.17 L417.02,239.88 L417.02,238.59 L417.02,237.30 L417.02,236.01 L417.02,234.72 L417.02,233.43 L417.02,232.14 L417.02,230.85 L417.02,229.56 L417.02,228.27 L417.02,226.98 L417.02,225.70 L417.02,224.41 L417.02,223.12 L417.02,221.83 L417.02,220.54 L417.02,219.25 L417.02,217.96 L417.02,216.67 L417.02,215.38 L417.02,214.09 L417.02,212.80 L417.02,211.51 L417.02,210.22 L416.78,210.22 L416.78,211.51 L416.78,212.80 L416.78,214.09 L416.78,215.38 L416.78,216.67 L416.78,217.96 L416.78,219.25 L416.78,220.54 L416.78,221.83 L416.78,223.12 L416.78,224.41 L416.78,225.70 L416.78,226.98 L416.78,228.27 L416.78,229.56 L416.78,230.85 L416.78,232.14 L416.78,233.43 L416.78,234.72 L416.78,236.01 L416.78,237.30 L416.78,238.59 L416.78,239.88 L416.78,241.17 L416.78,242.46 L416.78,243.75 L416.78,245.04 L416.78,246.33 L416.78,247.62 L416.78,248.91 L416.78,250.20 L416.78,251.49 L416.78,252.78 L416.78,254.07 L416.78,255.36 L416.78,256.65 L416.78,257.94 L416.78,259.23 L416.78,260.52 L416.78,261.81 L416.78,263.10 L416.78,264.39 L416.78,265.68 L416.78,266.97 L416.78,268.25 L416.78,269.54 L416.78,270.83 L416.78,272.12 L416.78,273.41 L416.78,274.70 L416.78,275.99 L416.78,277.28 L416.47,278.57 L415.98,279.86 L415.44,281.15 L414.88,282.44 L414.28,283.73 L413.67,285.02 L413.04,286.31 L412.40,287.60Z" fill="#f1eda2" stroke="#2e2e2e" stroke-width="0.6" stroke-linejoin="round"/>
<circle cx="416.90" cy="268.65" r="0.95" fill="#111"/>
<path d="M430.00,287.60 L429.64,285.93 L429.30,284.27 L428.96,282.60 L428.64,280.94 L428.34,279.27 L428.07,277.61 L427.92,275.94 L427.92,274.28 L427.92,272.61 L427.92,270.95 L427.92,269.28 L427.92,267.62 L427.92,265.95 L427.92,264.29 L427.92,262.62 L427.92,260.96 L427.92,259.29 L427.92,257.63 L427.92,255.96 L427.92,254.30 L427.92,252.63 L427.92,250.97 L427.92,249.30 L427.92,247.64 L427.92,245.97 L427.92,244.31 L427.92,242.64 L427.92,240.98 L427.92,239.31 L427.92,237.65 L427.92,235.98 L427.92,234.32 L427.92,232.65 L427.92,230.99 L427.92,229.32 L427.92,227.66 L427.92,225.99 L427.92,224.33 L427.92,222.66 L427.92,221.00 L427.92,219.33 L427.92,217.67 L427.92,216.00 L427.92,214.34 L427.92,212.67 L427.92,211.01 L427.92,209.34 L427.92,207.68 L427.92,206.01 L427.92,204.35 L427.92,202.68 L427.92,201.02 L427.92,199.35 L427.92,197.69 L427.92,196.02 L427.92,194.36 L427.92,192.69 L427.92,191.03 L427.92,189.36 L427.92,187.70 L427.68,187.70 L427.68,189.36 L427.68,191.03 L427.68,192.69 L427.68,194.36 L427.68,196.02 L427.68,197.69 L427.68,199.35 L427.68,201.02 L427.68,202.68 L427.68,204.35 L427.68,206.01 L427.68,207.68 L427.68,209.34 L427.68,211.01 L427.68,212.67 L427.68,214.34 L427.68,216.00 L427.68,217.67 L427.68,219.33 L427.68,221.00 L427.68,222.66 L427.68,224.33 L427.68,225.99 L427.68,227.66 L427.68,229.32 L427.68,230.99 L427.68,232.65 L427.68,234.32 L427.68,235.98 L427.68,237.65 L427.68,239.31 L427.68,240.98 L427.68,242.64 L427.68,244.31 L427.68,245.97 L427.68,247.64 L427.68,249.30 L427.68,250.97 L427.68,252.63 L427.68,254.30 L427.68,255.96 L427.68,257.63 L427.68,259.29 L427.68,260.96 L427.68,262.62 L427.68,264.29 L427.68,265.95 L427.68,267.62 L427.68,269.28 L427.68,270.95 L427.68,272.61 L427.68,274.28 L427.68,275.94 L427.53,277.61 L427.26,279.27 L426.96,280.94 L426.64,282.60 L426.30,284.27 L425.96,285.93 L425.60,287.60Z" fill="#f1eda2" stroke="#2e2e2e" stroke-width="0.6" stroke-linejoin="round"/>
<circle cx="427.80" cy="249.69" r="0.95" fill="#111"/>
<rect x="399.40" y="288.5" width="35.2" height="7" fill="#dcdcdc"/>
<text x="417.00" y="294.40" font-size="6.2" text-anchor="middle" fill="#333" >NK</text>
<line x1="399.40" y1="296.6" x2="434.60" y2="296.6" stroke="#222" stroke-width="0.8"/>
<line x1="406.00" y1="296.6" x2="406.00" y2="299" stroke="#333" stroke-width="0.7"/>
<line x1="416.90" y1="296.6" x2="416.90" y2="299" stroke="#333" stroke-width="0.7"/>
<line x1="427.80" y1="296.6" x2="427.80" y2="299" stroke="#333" stroke-width="0.7"/>
<path d="M416.90,190.5 V187.9 H427.80 V190.5" stroke="#222" stroke-width="0.6" fill="none"/>
<text x="422.35" y="187.60" font-size="5.6" text-anchor="middle" font-weight="bold" fill="#111" >****</text>
<text transform="translate(408.00,302) rotate(-90)" font-size="6.0" text-anchor="end" fill="#222">CH–</text>
<text transform="translate(418.90,302) rotate(-90)" font-size="6.0" text-anchor="end" fill="#222"><tspan font-style="italic">TET2</tspan>mt CH</text>
<text transform="translate(429.80,302) rotate(-90)" font-size="6.0" text-anchor="end" fill="#222"><tspan font-style="italic">DNMT3A</tspan>mt CH</text>
<path d="M449.00,287.60 L448.25,286.02 L447.51,284.44 L446.80,282.86 L446.10,281.28 L445.43,279.70 L444.79,278.12 L444.20,276.54 L443.87,274.96 L443.96,273.38 L444.06,271.80 L444.17,270.22 L444.28,268.65 L444.41,267.07 L444.54,265.49 L444.68,263.91 L444.81,262.33 L444.94,260.75 L445.06,259.17 L445.17,257.59 L445.26,256.01 L445.33,254.43 L445.38,252.85 L445.40,251.27 L445.39,249.69 L445.36,248.11 L445.31,246.53 L445.23,244.95 L445.13,243.37 L445.02,241.79 L444.89,240.21 L444.76,238.63 L444.62,237.05 L444.49,235.47 L444.36,233.89 L444.23,232.31 L444.12,230.74 L444.02,229.16 L443.92,227.58 L443.84,226.00 L443.77,224.42 L443.72,222.84 L443.67,221.26 L443.63,219.68 L443.62,218.10 L443.62,216.52 L443.62,214.94 L443.62,213.36 L443.62,211.78 L443.62,210.20 L443.62,208.62 L443.62,207.04 L443.62,205.46 L443.62,203.88 L443.62,202.30 L443.62,200.72 L443.62,199.14 L443.62,197.56 L443.62,195.98 L443.62,194.40 L443.62,192.83 L443.38,192.83 L443.38,194.40 L443.38,195.98 L443.38,197.56 L443.38,199.14 L443.38,200.72 L443.38,202.30 L443.38,203.88 L443.38,205.46 L443.38,207.04 L443.38,208.62 L443.38,210.20 L443.38,211.78 L443.38,213.36 L443.38,214.94 L443.38,216.52 L443.38,218.10 L443.37,219.68 L443.33,221.26 L443.28,222.84 L443.23,224.42 L443.16,226.00 L443.08,227.58 L442.98,229.16 L442.88,230.74 L442.77,232.31 L442.64,233.89 L442.51,235.47 L442.38,237.05 L442.24,238.63 L442.11,240.21 L441.98,241.79 L441.87,243.37 L441.77,244.95 L441.69,246.53 L441.64,248.11 L441.61,249.69 L441.60,251.27 L441.62,252.85 L441.67,254.43 L441.74,256.01 L441.83,257.59 L441.94,259.17 L442.06,260.75 L442.19,262.33 L442.32,263.91 L442.46,265.49 L442.59,267.07 L442.72,268.65 L442.83,270.22 L442.94,271.80 L443.04,273.38 L443.13,274.96 L442.80,276.54 L442.21,278.12 L441.57,279.70 L440.90,281.28 L440.20,282.86 L439.49,284.44 L438.75,286.02 L438.00,287.60Z" fill="#dfa3d3" stroke="#2e2e2e" stroke-width="0.6" stroke-linejoin="round"/>
<circle cx="443.50" cy="251.03" r="0.95" fill="#111"/>
<path d="M458.40,287.60 L457.82,286.01 L457.26,284.41 L456.71,282.82 L456.18,281.22 L455.67,279.63 L455.19,278.03 L454.76,276.44 L454.75,274.84 L454.83,273.25 L454.93,271.66 L455.05,270.06 L455.17,268.47 L455.30,266.87 L455.43,265.28 L455.56,263.68 L455.68,262.09 L455.79,260.49 L455.88,258.90 L455.94,257.31 L455.99,255.71 L456.00,254.12 L455.98,252.52 L455.94,250.93 L455.87,249.33 L455.78,247.74 L455.67,246.14 L455.55,244.55 L455.42,242.96 L455.29,241.36 L455.16,239.77 L455.04,238.17 L454.93,236.58 L454.83,234.98 L454.74,233.39 L454.67,231.79 L454.61,230.20 L454.56,228.61 L454.52,227.01 L454.52,225.42 L454.52,223.82 L454.52,222.23 L454.52,220.63 L454.52,219.04 L454.52,217.44 L454.52,215.85 L454.52,214.26 L454.52,212.66 L454.52,211.07 L454.52,209.47 L454.52,207.88 L454.52,206.28 L454.52,204.69 L454.52,203.09 L454.52,201.50 L454.52,199.91 L454.52,198.31 L454.52,196.72 L454.52,195.12 L454.52,193.53 L454.52,191.93 L454.28,191.93 L454.28,193.53 L454.28,195.12 L454.28,196.72 L454.28,198.31 L454.28,199.91 L454.28,201.50 L454.28,203.09 L454.28,204.69 L454.28,206.28 L454.28,207.88 L454.28,209.47 L454.28,211.07 L454.28,212.66 L454.28,214.26 L454.28,215.85 L454.28,217.44 L454.28,219.04 L454.28,220.63 L454.28,222.23 L454.28,223.82 L454.28,225.42 L454.28,227.01 L454.24,228.61 L454.19,230.20 L454.13,231.79 L454.06,233.39 L453.97,234.98 L453.87,236.58 L453.76,238.17 L453.64,239.77 L453.51,241.36 L453.38,242.96 L453.25,244.55 L453.13,246.14 L453.02,247.74 L452.93,249.33 L452.86,250.93 L452.82,252.52 L452.80,254.12 L452.81,255.71 L452.86,257.31 L452.92,258.90 L453.01,260.49 L453.12,262.09 L453.24,263.68 L453.37,265.28 L453.50,266.87 L453.63,268.47 L453.75,270.06 L453.87,271.66 L453.97,273.25 L454.05,274.84 L454.04,276.44 L453.61,278.03 L453.13,279.63 L452.62,281.22 L452.09,282.82 L451.54,284.41 L450.98,286.01 L450.40,287.60Z" fill="#dfa3d3" stroke="#2e2e2e" stroke-width="0.6" stroke-linejoin="round"/>
<circle cx="454.40" cy="254.82" r="0.95" fill="#111"/>
<path d="M466.30,287.60 L466.11,286.35 L465.93,285.10 L465.74,283.85 L465.55,282.60 L465.42,281.36 L465.42,280.11 L465.42,278.86 L465.42,277.61 L465.42,276.36 L465.42,275.11 L465.42,273.86 L465.42,272.61 L465.42,271.37 L465.42,270.12 L465.42,268.87 L465.42,267.62 L465.42,266.37 L465.42,265.12 L465.42,263.87 L465.42,262.62 L465.42,261.38 L465.42,260.13 L465.42,258.88 L465.42,257.63 L465.42,256.38 L465.42,255.13 L465.42,253.88 L465.42,252.63 L465.42,251.38 L465.42,250.14 L465.42,248.89 L465.42,247.64 L465.42,246.39 L465.42,245.14 L465.46,243.89 L465.51,242.64 L465.57,241.39 L465.64,240.15 L465.73,238.90 L465.84,237.65 L465.95,236.40 L466.09,235.15 L466.24,233.90 L466.41,232.65 L466.59,231.40 L466.78,230.16 L466.98,228.91 L467.18,227.66 L467.37,226.41 L467.56,225.16 L467.73,223.91 L467.88,222.66 L468.01,221.41 L468.11,220.16 L468.17,218.92 L468.20,217.67 L468.19,216.42 L468.12,215.17 L468.02,213.92 L467.87,212.67 L467.68,211.42 L467.47,210.17 L467.25,208.93 L467.02,207.68 L466.79,206.43 L466.57,205.18 L466.36,203.93 L466.17,202.68 L466.00,201.43 L465.86,200.18 L465.74,198.94 L465.63,197.69 L465.55,196.44 L465.49,195.19 L465.44,193.94 L465.42,192.69 L465.42,191.44 L465.42,190.19 L465.42,188.94 L465.42,187.70 L465.18,187.70 L465.18,188.94 L465.18,190.19 L465.18,191.44 L465.18,192.69 L465.16,193.94 L465.11,195.19 L465.05,196.44 L464.97,197.69 L464.86,198.94 L464.74,200.18 L464.60,201.43 L464.43,202.68 L464.24,203.93 L464.03,205.18 L463.81,206.43 L463.58,207.68 L463.35,208.93 L463.13,210.17 L462.92,211.42 L462.73,212.67 L462.58,213.92 L462.48,215.17 L462.41,216.42 L462.40,217.67 L462.43,218.92 L462.49,220.16 L462.59,221.41 L462.72,222.66 L462.87,223.91 L463.04,225.16 L463.23,226.41 L463.42,227.66 L463.62,228.91 L463.82,230.16 L464.01,231.40 L464.19,232.65 L464.36,233.90 L464.51,235.15 L464.65,236.40 L464.76,237.65 L464.87,238.90 L464.96,240.15 L465.03,241.39 L465.09,242.64 L465.14,243.89 L465.18,245.14 L465.18,246.39 L465.18,247.64 L465.18,248.89 L465.18,250.14 L465.18,251.38 L465.18,252.63 L465.18,253.88 L465.18,255.13 L465.18,256.38 L465.18,257.63 L465.18,258.88 L465.18,260.13 L465.18,261.38 L465.18,262.62 L465.18,263.87 L465.18,265.12 L465.18,266.37 L465.18,267.62 L465.18,268.87 L465.18,270.12 L465.18,271.37 L465.18,272.61 L465.18,273.86 L465.18,275.11 L465.18,276.36 L465.18,277.61 L465.18,278.86 L465.18,280.11 L465.18,281.36 L465.05,282.60 L464.86,283.85 L464.67,285.10 L464.49,286.35 L464.30,287.60Z" fill="#dfa3d3" stroke="#2e2e2e" stroke-width="0.6" stroke-linejoin="round"/>
<circle cx="465.30" cy="224.05" r="0.95" fill="#111"/>
<rect x="436.90" y="288.5" width="35.2" height="7" fill="#dcdcdc"/>
<text x="454.50" y="294.40" font-size="6.2" text-anchor="middle" fill="#333" >Treg</text>
<line x1="436.90" y1="296.6" x2="472.10" y2="296.6" stroke="#222" stroke-width="0.8"/>
<line x1="443.50" y1="296.6" x2="443.50" y2="299" stroke="#333" stroke-width="0.7"/>
<line x1="454.40" y1="296.6" x2="454.40" y2="299" stroke="#333" stroke-width="0.7"/>
<line x1="465.30" y1="296.6" x2="465.30" y2="299" stroke="#333" stroke-width="0.7"/>
<path d="M454.40,190.5 V187.9 H465.30 V190.5" stroke="#222" stroke-width="0.6" fill="none"/>
<text x="459.85" y="187.60" font-size="5.6" text-anchor="middle" font-weight="bold" fill="#111" >****</text>
<text transform="translate(445.50,302) rotate(-90)" font-size="6.0" text-anchor="end" fill="#222">CH–</text>
<text transform="translate(456.40,302) rotate(-90)" font-size="6.0" text-anchor="end" fill="#222"><tspan font-style="italic">TET2</tspan>mt CH</text>
<text transform="translate(467.30,302) rotate(-90)" font-size="6.0" text-anchor="end" fill="#222"><tspan font-style="italic">DNMT3A</tspan>mt CH</text>
<path d="M486.50,287.60 L485.58,285.94 L484.69,284.28 L483.84,282.63 L483.02,280.97 L482.27,279.31 L481.64,277.65 L481.62,276.00 L481.62,274.34 L481.62,272.68 L481.62,271.02 L481.62,269.37 L481.62,267.71 L481.62,266.05 L481.62,264.39 L481.62,262.74 L481.62,261.08 L481.62,259.42 L481.62,257.76 L481.62,256.10 L481.62,254.45 L481.62,252.79 L481.62,251.13 L481.62,249.47 L481.62,247.82 L481.62,246.16 L481.62,244.50 L481.62,242.84 L481.62,241.19 L481.62,239.53 L481.62,237.87 L481.62,236.21 L481.62,234.56 L481.62,232.90 L481.62,231.24 L481.62,229.58 L481.62,227.93 L481.62,226.27 L481.62,224.61 L481.62,222.95 L481.62,221.29 L481.62,219.64 L481.62,217.98 L481.62,216.32 L481.62,214.66 L481.62,213.01 L481.62,211.35 L481.62,209.69 L481.62,208.03 L481.62,206.38 L481.62,204.72 L481.62,203.06 L481.62,201.40 L481.62,199.75 L481.62,198.09 L481.62,196.43 L481.62,194.77 L481.62,193.11 L481.62,191.46 L481.62,189.80 L481.62,188.14 L481.38,188.14 L481.38,189.80 L481.38,191.46 L481.38,193.11 L481.38,194.77 L481.38,196.43 L481.38,198.09 L481.38,199.75 L481.38,201.40 L481.38,203.06 L481.38,204.72 L481.38,206.38 L481.38,208.03 L481.38,209.69 L481.38,211.35 L481.38,213.01 L481.38,214.66 L481.38,216.32 L481.38,217.98 L481.38,219.64 L481.38,221.29 L481.38,222.95 L481.38,224.61 L481.38,226.27 L481.38,227.93 L481.38,229.58 L481.38,231.24 L481.38,232.90 L481.38,234.56 L481.38,236.21 L481.38,237.87 L481.38,239.53 L481.38,241.19 L481.38,242.84 L481.38,244.50 L481.38,246.16 L481.38,247.82 L481.38,249.47 L481.38,251.13 L481.38,252.79 L481.38,254.45 L481.38,256.10 L481.38,257.76 L481.38,259.42 L481.38,261.08 L481.38,262.74 L481.38,264.39 L481.38,266.05 L481.38,267.71 L481.38,269.37 L481.38,271.02 L481.38,272.68 L481.38,274.34 L481.38,276.00 L481.36,277.65 L480.73,279.31 L479.98,280.97 L479.16,282.63 L478.31,284.28 L477.42,285.94 L476.50,287.60Z" fill="#d8474f" stroke="#2e2e2e" stroke-width="0.6" stroke-linejoin="round"/>
<circle cx="481.50" cy="252.59" r="0.95" fill="#111"/>
<path d="M496.10,287.60 L495.65,286.26 L495.21,284.92 L494.78,283.59 L494.37,282.25 L493.96,280.91 L493.57,279.57 L493.20,278.23 L492.85,276.90 L492.55,275.56 L492.52,274.22 L492.52,272.88 L492.52,271.54 L492.52,270.21 L492.52,268.87 L492.52,267.53 L492.52,266.19 L492.52,264.85 L492.52,263.52 L492.52,262.18 L492.52,260.84 L492.52,259.50 L492.52,258.16 L492.52,256.83 L492.52,255.49 L492.52,254.15 L492.52,252.81 L492.52,251.47 L492.52,250.14 L492.52,248.80 L492.52,247.46 L492.52,246.12 L492.52,244.78 L492.52,243.45 L492.52,242.11 L492.52,240.77 L492.52,239.43 L492.52,238.09 L492.52,236.76 L492.52,235.42 L492.52,234.08 L492.52,232.74 L492.52,231.40 L492.52,230.07 L492.52,228.73 L492.52,227.39 L492.52,226.05 L492.52,224.71 L492.52,223.38 L492.52,222.04 L492.52,220.70 L492.52,219.36 L492.52,218.02 L492.52,216.69 L492.52,215.35 L492.52,214.01 L492.52,212.67 L492.52,211.33 L492.52,210.00 L492.52,208.66 L492.52,207.32 L492.28,207.32 L492.28,208.66 L492.28,210.00 L492.28,211.33 L492.28,212.67 L492.28,214.01 L492.28,215.35 L492.28,216.69 L492.28,218.02 L492.28,219.36 L492.28,220.70 L492.28,222.04 L492.28,223.38 L492.28,224.71 L492.28,226.05 L492.28,227.39 L492.28,228.73 L492.28,230.07 L492.28,231.40 L492.28,232.74 L492.28,234.08 L492.28,235.42 L492.28,236.76 L492.28,238.09 L492.28,239.43 L492.28,240.77 L492.28,242.11 L492.28,243.45 L492.28,244.78 L492.28,246.12 L492.28,247.46 L492.28,248.80 L492.28,250.14 L492.28,251.47 L492.28,252.81 L492.28,254.15 L492.28,255.49 L492.28,256.83 L492.28,258.16 L492.28,259.50 L492.28,260.84 L492.28,262.18 L492.28,263.52 L492.28,264.85 L492.28,266.19 L492.28,267.53 L492.28,268.87 L492.28,270.21 L492.28,271.54 L492.28,272.88 L492.28,274.22 L492.25,275.56 L491.95,276.90 L491.60,278.23 L491.23,279.57 L490.84,280.91 L490.43,282.25 L490.02,283.59 L489.59,284.92 L489.15,286.26 L488.70,287.60Z" fill="#d8474f" stroke="#2e2e2e" stroke-width="0.6" stroke-linejoin="round"/>
<circle cx="492.40" cy="259.28" r="0.95" fill="#111"/>
<path d="M504.30,287.60 L504.13,286.46 L503.96,285.32 L503.79,284.18 L503.62,283.04 L503.45,281.90 L503.42,280.76 L503.42,279.62 L503.42,278.48 L503.42,277.34 L503.42,276.20 L503.42,275.06 L503.42,273.92 L503.42,272.78 L503.42,271.64 L503.42,270.50 L503.42,269.36 L503.42,268.22 L503.42,267.08 L503.42,265.94 L503.42,264.80 L503.42,263.66 L503.42,262.52 L503.42,261.38 L503.42,260.24 L503.42,259.10 L503.42,257.96 L503.42,256.82 L503.42,255.68 L503.42,254.54 L503.42,253.40 L503.42,252.26 L503.42,251.12 L503.42,249.98 L503.42,248.84 L503.42,247.70 L503.42,246.56 L503.42,245.42 L503.42,244.28 L503.42,243.14 L503.42,242.00 L503.45,240.86 L503.50,239.72 L503.55,238.58 L503.62,237.44 L503.70,236.30 L503.79,235.16 L503.90,234.02 L504.02,232.88 L504.16,231.74 L504.31,230.60 L504.48,229.46 L504.65,228.32 L504.83,227.18 L505.01,226.04 L505.19,224.90 L505.36,223.76 L505.53,222.62 L505.67,221.47 L505.79,220.33 L505.89,219.19 L505.96,218.05 L505.99,216.91 L506.00,215.77 L505.94,214.63 L505.84,213.49 L505.69,212.35 L505.50,211.21 L505.29,210.07 L505.06,208.93 L504.82,207.79 L504.59,206.65 L504.37,205.51 L504.17,204.37 L503.99,203.23 L503.84,202.09 L503.71,200.95 L503.61,199.81 L503.53,198.67 L503.46,197.53 L503.42,196.39 L503.18,196.39 L503.14,197.53 L503.07,198.67 L502.99,199.81 L502.89,200.95 L502.76,202.09 L502.61,203.23 L502.43,204.37 L502.23,205.51 L502.01,206.65 L501.78,207.79 L501.54,208.93 L501.31,210.07 L501.10,211.21 L500.91,212.35 L500.76,213.49 L500.66,214.63 L500.60,215.77 L500.61,216.91 L500.64,218.05 L500.71,219.19 L500.81,220.33 L500.93,221.47 L501.07,222.62 L501.24,223.76 L501.41,224.90 L501.59,226.04 L501.77,227.18 L501.95,228.32 L502.12,229.46 L502.29,230.60 L502.44,231.74 L502.58,232.88 L502.70,234.02 L502.81,235.16 L502.90,236.30 L502.98,237.44 L503.05,238.58 L503.10,239.72 L503.15,240.86 L503.18,242.00 L503.18,243.14 L503.18,244.28 L503.18,245.42 L503.18,246.56 L503.18,247.70 L503.18,248.84 L503.18,249.98 L503.18,251.12 L503.18,252.26 L503.18,253.40 L503.18,254.54 L503.18,255.68 L503.18,256.82 L503.18,257.96 L503.18,259.10 L503.18,260.24 L503.18,261.38 L503.18,262.52 L503.18,263.66 L503.18,264.80 L503.18,265.94 L503.18,267.08 L503.18,268.22 L503.18,269.36 L503.18,270.50 L503.18,271.64 L503.18,272.78 L503.18,273.92 L503.18,275.06 L503.18,276.20 L503.18,277.34 L503.18,278.48 L503.18,279.62 L503.18,280.76 L503.15,281.90 L502.98,283.04 L502.81,284.18 L502.64,285.32 L502.47,286.46 L502.30,287.60Z" fill="#d8474f" stroke="#2e2e2e" stroke-width="0.6" stroke-linejoin="round"/>
<circle cx="503.30" cy="223.60" r="0.95" fill="#111"/>
<rect x="474.90" y="288.5" width="35.2" height="7" fill="#dcdcdc"/>
<text x="492.50" y="294.40" font-size="6.2" text-anchor="middle" fill="#333" >gdT</text>
<line x1="474.90" y1="296.6" x2="510.10" y2="296.6" stroke="#222" stroke-width="0.8"/>
<line x1="481.50" y1="296.6" x2="481.50" y2="299" stroke="#333" stroke-width="0.7"/>
<line x1="492.40" y1="296.6" x2="492.40" y2="299" stroke="#333" stroke-width="0.7"/>
<line x1="503.30" y1="296.6" x2="503.30" y2="299" stroke="#333" stroke-width="0.7"/>
<path d="M492.40,190.5 V187.9 H503.30 V190.5" stroke="#222" stroke-width="0.6" fill="none"/>
<text x="497.85" y="187.60" font-size="5.6" text-anchor="middle" font-weight="bold" fill="#111" >****</text>
<text transform="translate(483.50,302) rotate(-90)" font-size="6.0" text-anchor="end" fill="#222">CH–</text>
<text transform="translate(494.40,302) rotate(-90)" font-size="6.0" text-anchor="end" fill="#222"><tspan font-style="italic">TET2</tspan>mt CH</text>
<text transform="translate(505.30,302) rotate(-90)" font-size="6.0" text-anchor="end" fill="#222"><tspan font-style="italic">DNMT3A</tspan>mt CH</text>
<text x="268.80" y="363.40" font-size="10.5" font-weight="bold" fill="#111" >F</text>
<line x1="299.6" y1="368.5" x2="299.6" y2="492.3" stroke="#222" stroke-width="0.9"/>
<line x1="299.2" y1="492.3" x2="511" y2="492.3" stroke="#222" stroke-width="0.9"/>
<line x1="297" y1="487.80" x2="299.6" y2="487.80" stroke="#333" stroke-width="0.7"/>
<text x="294.00" y="489.90" font-size="6.0" text-anchor="end" fill="#333" >0.00</text>
<line x1="297" y1="459.20" x2="299.6" y2="459.20" stroke="#333" stroke-width="0.7"/>
<text x="294.00" y="461.30" font-size="6.0" text-anchor="end" fill="#333" >0.25</text>
<line x1="297" y1="430.60" x2="299.6" y2="430.60" stroke="#333" stroke-width="0.7"/>
<text x="294.00" y="432.70" font-size="6.0" text-anchor="end" fill="#333" >0.50</text>
<line x1="297" y1="402.00" x2="299.6" y2="402.00" stroke="#333" stroke-width="0.7"/>
<text x="294.00" y="404.10" font-size="6.0" text-anchor="end" fill="#333" >0.75</text>
<line x1="297" y1="373.40" x2="299.6" y2="373.40" stroke="#333" stroke-width="0.7"/>
<text x="294.00" y="375.50" font-size="6.0" text-anchor="end" fill="#333" >1.00</text>
<line x1="303.75" y1="492.3" x2="303.75" y2="494.8" stroke="#333" stroke-width="0.7"/>
<text x="303.75" y="503.20" font-size="6.0" text-anchor="middle" fill="#333" >0</text>
<line x1="372.50" y1="492.3" x2="372.50" y2="494.8" stroke="#333" stroke-width="0.7"/>
<text x="372.50" y="503.20" font-size="6.0" text-anchor="middle" fill="#333" >1</text>
<line x1="441.25" y1="492.3" x2="441.25" y2="494.8" stroke="#333" stroke-width="0.7"/>
<text x="441.25" y="503.20" font-size="6.0" text-anchor="middle" fill="#333" >2</text>
<line x1="510.00" y1="492.3" x2="510.00" y2="494.8" stroke="#333" stroke-width="0.7"/>
<text x="510.00" y="503.20" font-size="6.0" text-anchor="middle" fill="#333" >3</text>
<text transform="translate(276.4,430.3) rotate(-90)" font-size="7.2" font-weight="bold" text-anchor="middle" fill="#1a1a1a" textLength="37.6" lengthAdjust="spacingAndGlyphs">Overall survival</text>
<text x="407.20" y="514.80" font-size="7.6" text-anchor="middle" font-weight="bold" fill="#1a1a1a" textLength="111" lengthAdjust="spacingAndGlyphs" >Follow-up after COVID-19 diagnosis in years</text>
<path d="M303.6,373 H304.6 V374.2 H328.8 V375.1 H378.8 V376.6 H407 V378.3 H489" stroke="#3f5f8f" stroke-width="0.9" fill="none"/>
<path d="M303.6,373 H304.6 V376.5 H306 V380 H307.5 V383.3 H322 V386 H324 V389 H337.4 V392 H341.8 V393.5 H420 V395.5 H426 V398.5 H432.5 V400.4 H485" stroke="#d64050" stroke-width="0.8" fill="none" stroke-dasharray="1.1,1.1"/>
<line x1="468.8" y1="384.2" x2="481" y2="384.2" stroke="#3f5f8f" stroke-width="0.9"/>
<text x="484.50" y="386.30" font-size="6.0" fill="#222" textLength="24.6" lengthAdjust="spacingAndGlyphs" >Low IL32</text>
<line x1="468.8" y1="394.2" x2="481" y2="394.2" stroke="#d64050" stroke-width="0.8" stroke-dasharray="1.1,1.1"/>
<text x="484.50" y="396.30" font-size="6.0" fill="#222" textLength="26.5" lengthAdjust="spacingAndGlyphs" >High IL32</text>
<rect x="305.2" y="400.4" width="119.6" height="87.8" fill="#fff" stroke="#888" stroke-width="0.8"/>
<line x1="333" y1="401.5" x2="333" y2="473.2" stroke="#222" stroke-width="0.8"/>
<line x1="332.6" y1="473.2" x2="421.5" y2="473.2" stroke="#222" stroke-width="0.8"/>
<line x1="331" y1="469.85" x2="333" y2="469.85" stroke="#333" stroke-width="0.6"/>
<text x="329.80" y="471.75" font-size="5.4" text-anchor="end" fill="#333" >−1</text>
<line x1="331" y1="458.80" x2="333" y2="458.80" stroke="#333" stroke-width="0.6"/>
<text x="329.80" y="460.70" font-size="5.4" text-anchor="end" fill="#333" >0</text>
<line x1="331" y1="447.75" x2="333" y2="447.75" stroke="#333" stroke-width="0.6"/>
<text x="329.80" y="449.65" font-size="5.4" text-anchor="end" fill="#333" >1</text>
<line x1="331" y1="436.70" x2="333" y2="436.70" stroke="#333" stroke-width="0.6"/>
<text x="329.80" y="438.60" font-size="5.4" text-anchor="end" fill="#333" >2</text>
<line x1="331" y1="425.65" x2="333" y2="425.65" stroke="#333" stroke-width="0.6"/>
<text x="329.80" y="427.55" font-size="5.4" text-anchor="end" fill="#333" >3</text>
<line x1="331" y1="414.60" x2="333" y2="414.60" stroke="#333" stroke-width="0.6"/>
<text x="329.80" y="416.50" font-size="5.4" text-anchor="end" fill="#333" >4</text>
<line x1="331" y1="403.55" x2="333" y2="403.55" stroke="#333" stroke-width="0.6"/>
<text x="329.80" y="405.45" font-size="5.4" text-anchor="end" fill="#333" >5</text>
<path d="M333.9,458.80 L333.90,406.31 L334.60,412.39 L335.30,422.34 L336.20,428.97 L337.20,433.38 L338.50,435.60 L340.50,437.58 L343.80,439.46 L348.00,441.12 L353.00,442.78 L358.00,444.10 L364.00,445.76 L364,458.80 Z" fill="#c8102e"/>
<path d="M364,458.80 L364.00,445.76 L375.00,448.30 L390.00,451.95 L400.00,454.60 L407.00,457.14 L411.00,458.80 L415.00,460.46 L418.00,462.67 L420.00,465.43 L421.00,470.40 L421,458.80 Z" fill="#0f3f7f"/>
<rect x="346.5" y="404.2" width="5.8" height="5.6" fill="#c8102e"/>
<text x="354.60" y="409.00" font-size="5.6" fill="#222" textLength="64" lengthAdjust="spacingAndGlyphs" >High IL32 (upper tertile)</text>
<rect x="346.5" y="413.6" width="5.8" height="5.6" fill="#0f3f7f"/>
<text x="354.60" y="418.40" font-size="5.6" fill="#222" textLength="64" lengthAdjust="spacingAndGlyphs" >Low IL32 (lower tertiles)</text>
<text transform="translate(314.3,438.0) rotate(-90)" font-size="7.0" font-weight="bold" text-anchor="middle" fill="#1a1a1a" textLength="42.7" lengthAdjust="spacingAndGlyphs">IL32 [Olink NPX]</text>
<text x="377.20" y="484.00" font-size="7.4" text-anchor="middle" font-weight="bold" fill="#1a1a1a" textLength="18.4" lengthAdjust="spacingAndGlyphs" >Patient</text>
<text x="303.70" y="525.20" font-size="6.1" text-anchor="middle" fill="#222" >124</text>
<text x="303.70" y="535.20" font-size="6.1" text-anchor="middle" fill="#222" >61</text>
<text x="372.50" y="525.20" font-size="6.1" text-anchor="middle" fill="#222" >100</text>
<text x="372.50" y="535.20" font-size="6.1" text-anchor="middle" fill="#222" >42</text>
<text x="441.25" y="525.20" font-size="6.1" text-anchor="middle" fill="#222" >89</text>
<text x="441.25" y="535.20" font-size="6.1" text-anchor="middle" fill="#222" >33</text>
<text x="510.00" y="525.20" font-size="6.1" text-anchor="middle" fill="#222" >0</text>
<text x="510.00" y="535.20" font-size="6.1" text-anchor="middle" fill="#222" >0</text>
<text x="327.60" y="548.20" font-size="6.1" text-anchor="end" fill="#222" >Group</text>
<text x="351.30" y="548.20" font-size="6.1" text-anchor="middle" fill="#222" >N</text>
<text x="373.80" y="548.20" font-size="6.1" text-anchor="middle" fill="#222" >p50</text>
<text x="401.00" y="548.20" font-size="6.1" text-anchor="middle" fill="#222" >Min</text>
<text x="428.50" y="548.20" font-size="6.1" text-anchor="middle" fill="#222" >Max</text>
<text x="460.80" y="548.20" font-size="6.1" text-anchor="middle" fill="#222" >Mean</text>
<text x="493.00" y="548.20" font-size="6.1" text-anchor="middle" fill="#222" >SD</text>
<text x="327.6" y="561.30" font-size="6.1" text-anchor="end" fill="#222">No CH</text>
<text x="351.30" y="561.30" font-size="6.1" text-anchor="middle" fill="#222" >137</text>
<text x="373.80" y="561.30" font-size="6.1" text-anchor="middle" fill="#222" >.7613</text>
<text x="401.00" y="561.30" font-size="6.1" text-anchor="middle" fill="#222" >−1.1505</text>
<text x="428.50" y="561.30" font-size="6.1" text-anchor="middle" fill="#222" >4.6555</text>
<text x="460.80" y="561.30" font-size="6.1" text-anchor="middle" fill="#222" >.846446</text>
<text x="493.00" y="561.30" font-size="6.1" text-anchor="middle" fill="#222" >.8508189</text>
<text x="327.6" y="570.90" font-size="6.1" text-anchor="end" fill="#222"><tspan font-style="italic">TET2</tspan>mt CH</text>
<text x="351.30" y="570.90" font-size="6.1" text-anchor="middle" fill="#222" >14</text>
<text x="373.80" y="570.90" font-size="6.1" text-anchor="middle" fill="#222" >.9667</text>
<text x="401.00" y="570.90" font-size="6.1" text-anchor="middle" fill="#222" >−.6399</text>
<text x="428.50" y="570.90" font-size="6.1" text-anchor="middle" fill="#222" >2.0505</text>
<text x="460.80" y="570.90" font-size="6.1" text-anchor="middle" fill="#222" >.8878214</text>
<text x="493.00" y="570.90" font-size="6.1" text-anchor="middle" fill="#222" >.6858131</text>
<text x="327.6" y="580.70" font-size="6.1" text-anchor="end" fill="#222"><tspan font-style="italic">DNMT3A</tspan>mt CH</text>
<text x="351.30" y="580.70" font-size="6.1" text-anchor="middle" fill="#222" >12</text>
<text x="373.80" y="580.70" font-size="6.1" text-anchor="middle" fill="#222" >1.1262</text>
<text x="401.00" y="580.70" font-size="6.1" text-anchor="middle" fill="#222" >−.4182</text>
<text x="428.50" y="580.70" font-size="6.1" text-anchor="middle" fill="#222" >1.7111</text>
<text x="460.80" y="580.70" font-size="6.1" text-anchor="middle" fill="#222" >.8422</text>
<text x="493.00" y="580.70" font-size="6.1" text-anchor="middle" fill="#222" >.7316632</text>
<text x="327.6" y="592.50" font-size="6.1" text-anchor="end" fill="#222">Total</text>
<text x="351.30" y="592.50" font-size="6.1" text-anchor="middle" fill="#222" >163</text>
<text x="373.80" y="592.50" font-size="6.1" text-anchor="middle" fill="#222" >.7852</text>
<text x="401.00" y="592.50" font-size="6.1" text-anchor="middle" fill="#222" >−1.1505</text>
<text x="428.50" y="592.50" font-size="6.1" text-anchor="middle" fill="#222" >4.6555</text>
<text x="460.80" y="592.50" font-size="6.1" text-anchor="middle" fill="#222" >.8496871</text>
<text x="493.00" y="592.50" font-size="6.1" text-anchor="middle" fill="#222" >.8257991</text>
<line x1="330.8" y1="539.5" x2="330.8" y2="596" stroke="#444" stroke-width="0.7"/>
<line x1="284.5" y1="552.3" x2="508.7" y2="552.3" stroke="#444" stroke-width="0.7"/>
<line x1="284.5" y1="583.3" x2="508.7" y2="583.3" stroke="#444" stroke-width="0.6"/>
<line x1="284.5" y1="584.5" x2="508.7" y2="584.5" stroke="#444" stroke-width="0.6"/>
<line x1="284.5" y1="596" x2="508.7" y2="596" stroke="#444" stroke-width="0.7"/>
<rect x="0.5" y="0.5" width="519" height="657" fill="none" stroke="#5a5a5a" stroke-width="1"/>
</svg>
</body></html>
